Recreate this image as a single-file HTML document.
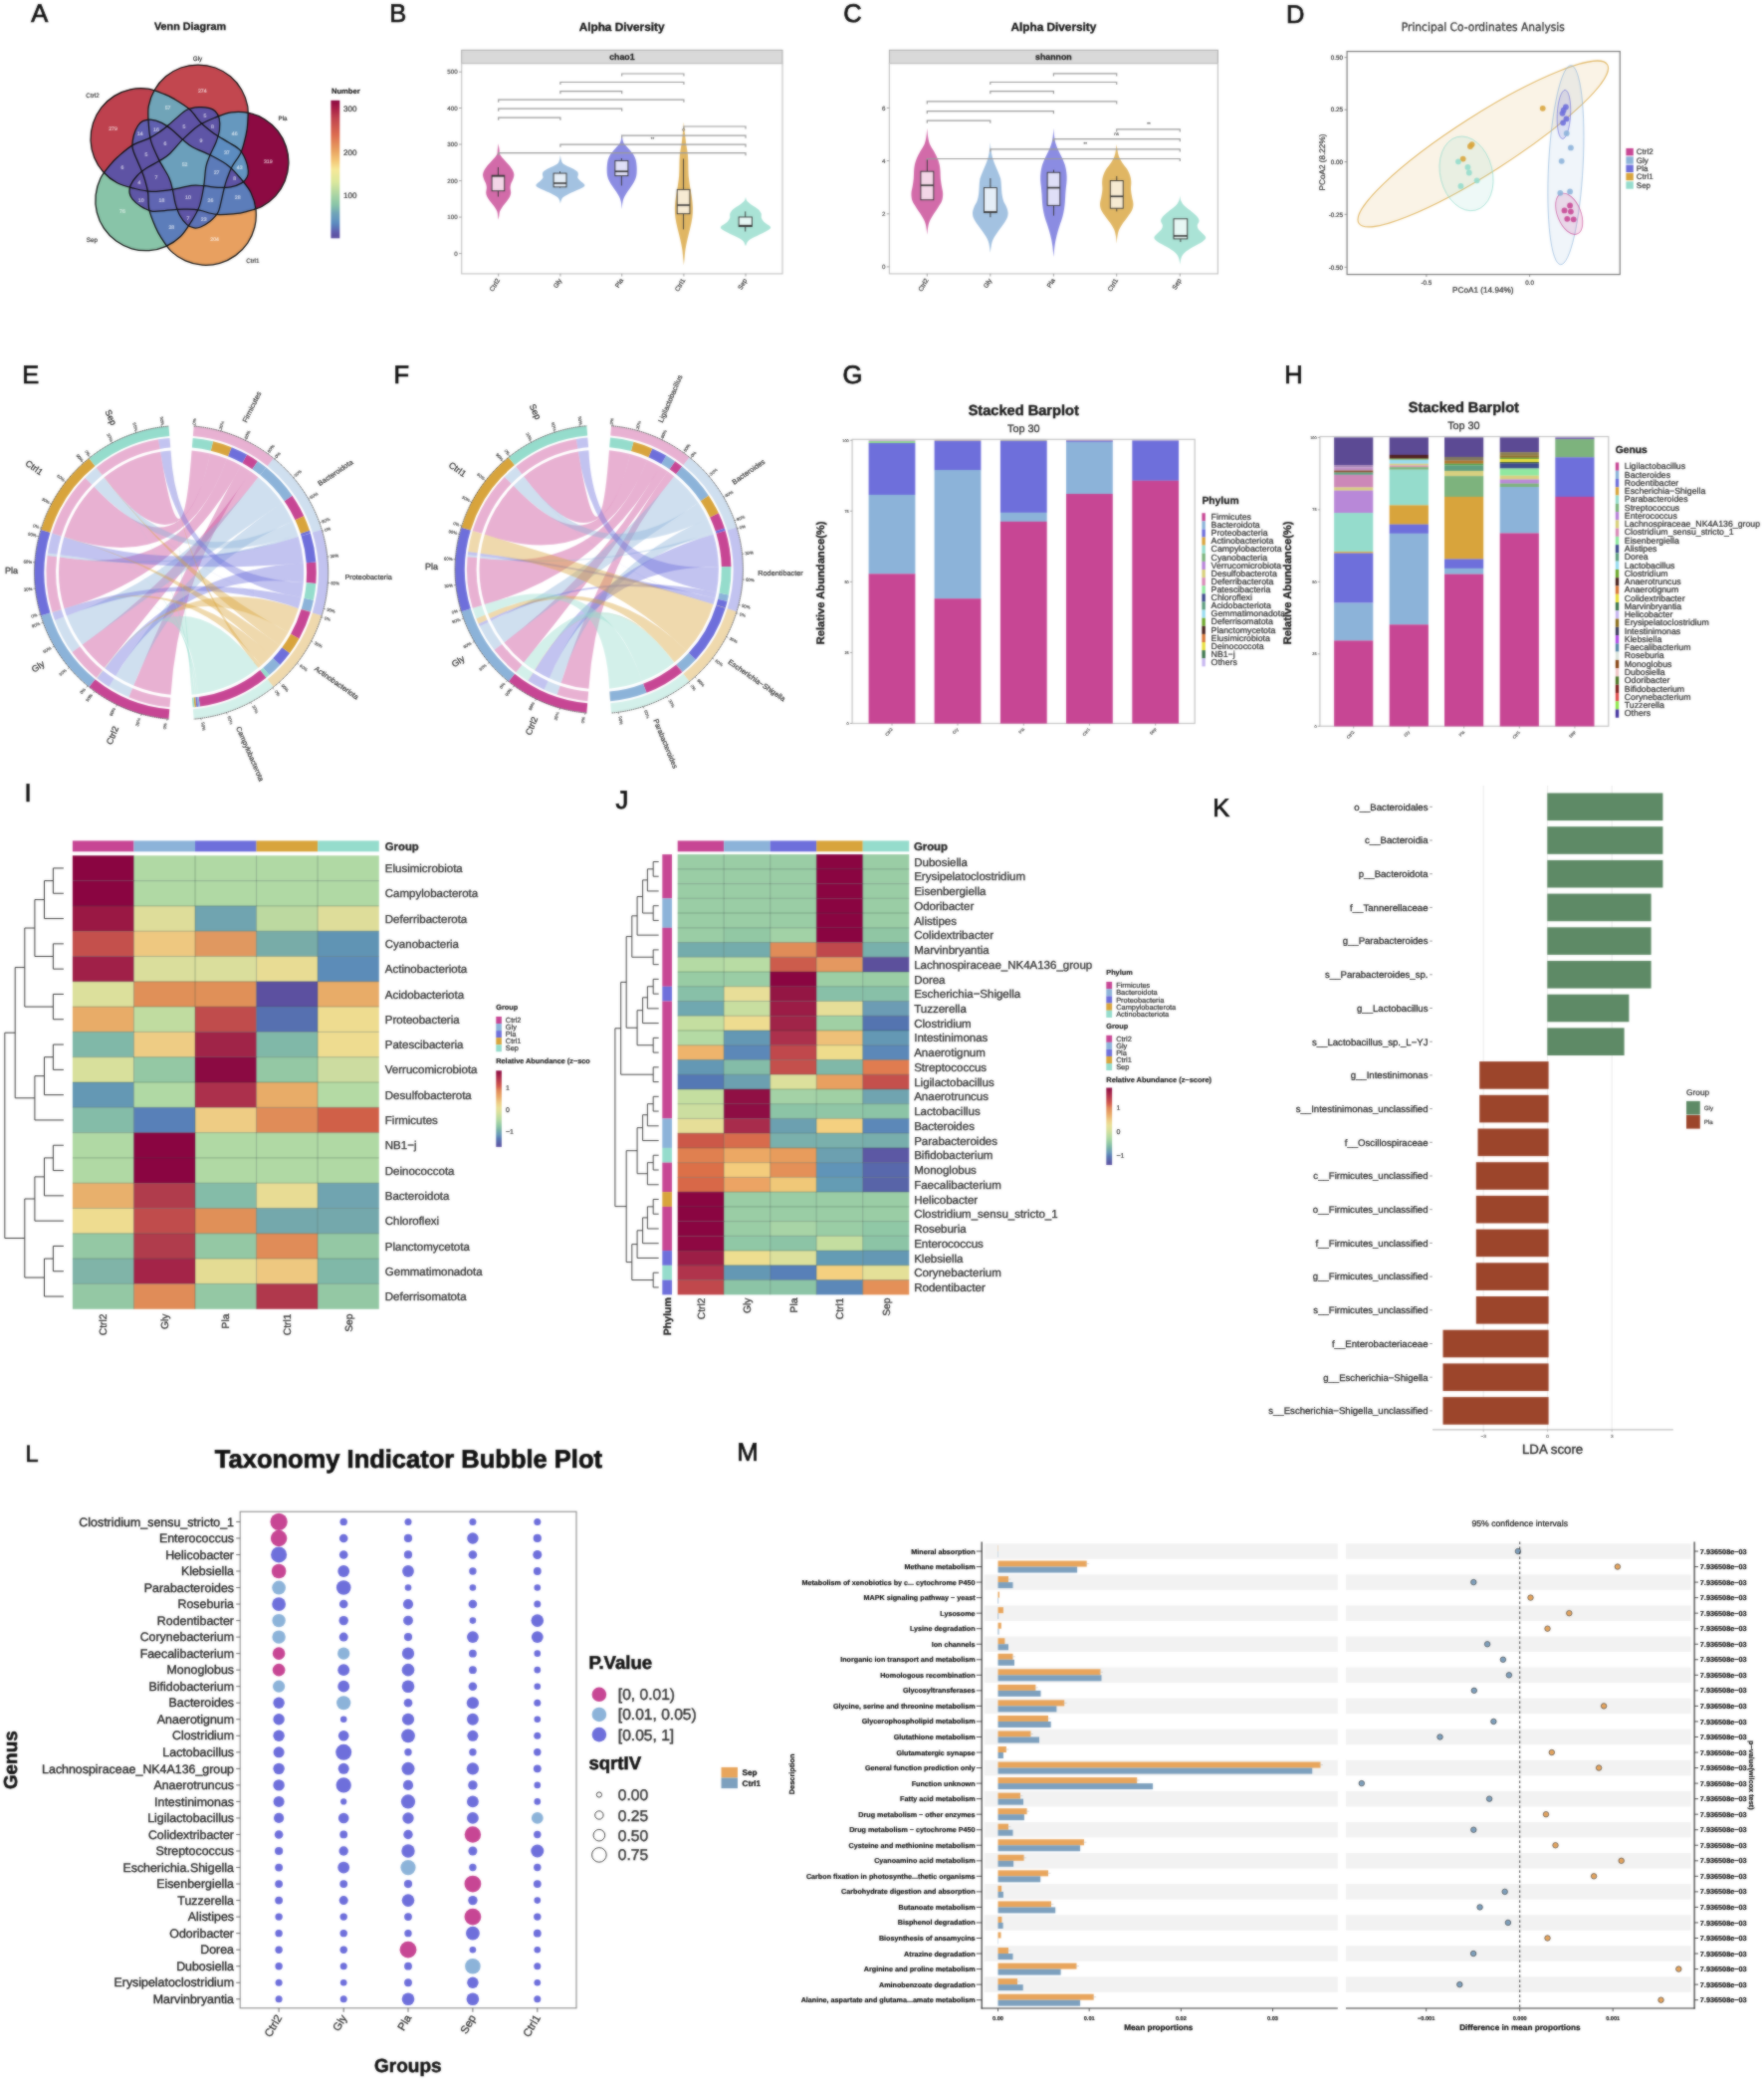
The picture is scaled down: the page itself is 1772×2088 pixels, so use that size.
<!DOCTYPE html><html><head><meta charset="utf-8"><title>Figure</title><style>html,body{margin:0;padding:0;background:#fff}svg{display:block}#wrap{width:1772px;height:2088px;overflow:hidden}</style></head><body><div id="wrap"><svg width="1772" height="2088" viewBox="0 0 1772 2088" font-family="'Liberation Sans', sans-serif" text-rendering="geometricPrecision"><defs><filter id="soft" x="0" y="0" width="100%" height="100%" filterUnits="userSpaceOnUse" color-interpolation-filters="sRGB"><feGaussianBlur in="SourceGraphic" stdDeviation="0.9" result="b"/><feComposite in="SourceGraphic" in2="b" operator="arithmetic" k1="0" k2="0.42" k3="0.58" k4="0"/></filter></defs><rect width="1772" height="2088" fill="#fff"/><g filter="url(#soft)"><rect width="1772" height="2088" fill="#fff"/><g id="pa"><text x="31.3" y="22.2" font-size="25.5" fill="#111" stroke="#111" stroke-width="0.71">A</text><text x="191" y="30.4" font-size="10.8" fill="#111" font-weight="bold" text-anchor="middle" stroke="#111" stroke-width="0.3">Venn Diagram</text><defs><clipPath id="vc0"><path d="M149.3 124.3C148.88 118.38 148.3 112.38 149.3 106.7C150.3 101.02 152.43 95.18 155.3 90.2C158.17 85.22 162.1 80.5 166.5 76.8C170.9 73.1 176.28 69.97 181.7 68C187.12 66.03 193.23 65 199 65C204.77 65 210.88 66.03 216.3 68C221.72 69.97 227.1 73.1 231.5 76.8C235.9 80.5 239.83 85.22 242.7 90.2C245.57 95.18 247.7 101.02 248.7 106.7C249.7 112.38 248.93 119.67 248.7 124.3C248.47 128.93 248.4 129.73 247.3 134.5C246.2 139.27 244.48 147.4 242.1 152.9C239.72 158.4 235.37 163 233 167.5C230.63 172 229.2 176.32 227.9 179.9C226.6 183.48 226.1 185.52 225.2 189C224.3 192.48 223.55 196.72 222.5 200.8C221.45 204.88 220.87 209.87 218.9 213.5C216.93 217.13 213.58 220.18 210.7 222.6C207.82 225.02 204.22 226.95 201.6 228C198.98 229.05 197.3 229.3 195 228.9C192.7 228.5 190.2 227.7 187.8 225.6C185.4 223.5 182.53 219.83 180.6 216.3C178.67 212.77 177.38 208.65 176.2 204.4C175.02 200.15 174.57 195.13 173.5 190.8C172.43 186.47 172.07 183.38 169.8 178.4C167.53 173.42 162.9 166.93 159.9 160.9C156.9 154.87 153.57 148.3 151.8 142.2C150.03 136.1 149.72 130.22 149.3 124.3Z"/></clipPath><clipPath id="vc1"><path d="M215.59 118.26C221.09 116.04 226.61 113.63 232.33 112.82C238.04 112.02 244.25 112.24 249.87 113.43C255.5 114.62 261.2 116.9 266.08 119.94C270.96 122.98 275.6 127.13 279.15 131.68C282.69 136.22 285.56 141.72 287.34 147.2C289.13 152.69 290.03 158.83 289.84 164.58C289.64 170.34 288.32 176.43 286.17 181.76C284.01 187.09 280.74 192.29 276.88 196.55C273.03 200.82 268.14 204.65 263.04 207.36C257.95 210.07 250.78 211.59 246.3 212.8C241.83 214.01 241.04 214.19 236.17 214.62C231.3 215.04 223.03 215.92 217.07 215.36C211.1 214.79 205.38 212.07 200.37 211.21C195.36 210.35 190.81 210.32 187 210.2C183.19 210.07 181.1 210.22 177.51 210.44C173.92 210.66 169.66 211.26 165.45 211.52C161.24 211.78 156.33 212.77 152.26 212.02C148.2 211.27 144.26 209.03 141.07 207.03C137.88 205.04 134.93 202.21 133.13 200.05C131.32 197.88 130.56 196.36 130.23 194.05C129.9 191.74 129.89 189.11 131.14 186.18C132.4 183.25 135 179.39 137.76 176.46C140.53 173.53 144.05 171.04 147.72 168.6C151.4 166.16 156.03 164.18 159.82 161.83C163.61 159.47 166.43 158.17 170.47 154.48C174.51 150.78 179.24 144.37 184.06 139.65C188.87 134.94 194.08 129.74 199.34 126.17C204.59 122.61 210.09 120.49 215.59 118.26Z"/></clipPath><clipPath id="vc2"><path d="M241.82 179.44C245.63 183.98 249.63 188.49 252.16 193.68C254.69 198.86 256.4 204.84 257.01 210.55C257.62 216.27 257.21 222.4 255.82 227.98C254.44 233.56 251.92 239.26 248.7 244.03C245.47 248.81 241.13 253.24 236.46 256.63C231.8 260.02 226.24 262.78 220.7 264.37C215.17 265.96 208.97 266.59 203.23 266.18C197.5 265.78 191.55 264.27 186.3 261.93C181.05 259.58 175.89 256.11 171.74 252.1C167.6 248.09 163.93 241.75 161.4 237.87C158.87 233.98 158.45 233.29 156.54 228.79C154.63 224.29 151.23 216.7 149.93 210.85C148.62 205 149.44 198.72 148.71 193.69C147.98 188.66 146.6 184.32 145.55 180.66C144.49 177 143.7 175.06 142.38 171.71C141.06 168.36 139.18 164.5 137.63 160.58C136.08 156.66 133.62 152.28 133.08 148.19C132.53 144.09 133.45 139.65 134.36 136C135.28 132.35 137.05 128.67 138.55 126.29C140.05 123.9 141.27 122.71 143.36 121.68C145.46 120.65 147.95 119.83 151.13 120.12C154.3 120.4 158.78 121.69 162.42 123.41C166.06 125.13 169.52 127.71 172.97 130.45C176.43 133.19 179.74 136.99 183.15 139.86C186.56 142.74 188.67 145.02 193.43 147.72C198.19 150.42 205.75 152.94 211.73 156.06C217.7 159.18 224.26 162.53 229.27 166.43C234.29 170.32 238 174.9 241.82 179.44Z"/></clipPath><clipPath id="vc3"><path d="M191.74 223.29C188.6 228.32 185.54 233.52 181.39 237.53C177.24 241.54 172.09 245 166.84 247.35C161.59 249.7 155.64 251.2 149.9 251.61C144.17 252.01 137.97 251.38 132.43 249.79C126.89 248.2 121.34 245.44 116.67 242.05C112.01 238.66 107.67 234.23 104.44 229.45C101.21 224.68 98.7 218.98 97.32 213.4C95.93 207.82 95.52 201.69 96.13 195.98C96.74 190.26 98.44 184.29 100.98 179.1C103.51 173.92 108.41 168.47 111.32 164.86C114.23 161.25 114.76 160.64 118.45 157.43C122.14 154.22 128.31 148.65 133.47 145.6C138.63 142.56 144.85 141.39 149.41 139.14C153.97 136.89 157.67 134.24 160.83 132.11C163.99 129.97 165.59 128.62 168.36 126.33C171.14 124.04 174.23 121.06 177.48 118.37C180.73 115.69 184.13 112 187.86 110.21C191.59 108.43 196.09 107.93 199.84 107.67C203.6 107.41 207.64 107.96 210.38 108.65C213.11 109.34 214.62 110.13 216.25 111.8C217.87 113.48 219.42 115.6 220.13 118.71C220.84 121.81 221 126.47 220.49 130.46C219.98 134.46 218.6 138.54 217.06 142.67C215.51 146.81 212.93 151.13 211.25 155.26C209.56 159.4 208.05 162.11 206.95 167.47C205.86 172.84 205.79 180.8 204.67 187.45C203.55 194.09 202.39 201.36 200.24 207.34C198.08 213.31 194.88 218.26 191.74 223.29Z"/></clipPath><clipPath id="vc4"><path d="M134.56 189.21C128.8 187.78 122.92 186.48 117.82 183.77C112.72 181.06 107.84 177.23 103.98 172.97C100.13 168.7 96.86 163.5 94.7 158.17C92.54 152.85 91.22 146.76 91.03 141C90.83 135.24 91.74 129.1 93.52 123.62C95.3 118.13 98.17 112.64 101.72 108.09C105.26 103.55 109.91 99.4 114.78 96.36C119.66 93.31 125.36 91.03 130.99 89.84C136.62 88.66 142.82 88.43 148.54 89.24C154.25 90.04 160.94 93.02 165.27 94.68C169.61 96.33 170.35 96.64 174.54 99.16C178.74 101.68 185.94 105.82 190.44 109.79C194.93 113.76 197.96 119.31 201.51 122.96C205.06 126.6 208.72 129.29 211.73 131.64C214.73 133.98 216.51 135.09 219.55 137.02C222.58 138.95 226.38 140.97 229.93 143.23C233.49 145.49 238.05 147.59 240.9 150.58C243.75 153.57 245.61 157.7 247.02 161.19C248.43 164.68 249.15 168.7 249.34 171.52C249.53 174.33 249.25 176.01 248.16 178.07C247.07 180.13 245.54 182.26 242.8 183.9C240.06 185.53 235.69 187.12 231.73 187.87C227.77 188.62 223.46 188.57 219.05 188.38C214.64 188.19 209.73 187.07 205.28 186.74C200.83 186.42 197.79 185.82 192.35 186.43C186.91 187.05 179.31 189.45 172.64 190.44C165.98 191.43 158.7 192.57 152.36 192.36C146.01 192.16 140.31 190.64 134.56 189.21Z"/></clipPath><linearGradient id="vgrad" x1="0" y1="1" x2="0" y2="0"><stop offset="0" stop-color="#5E4FA2"/><stop offset="0.03" stop-color="#5E56A6"/><stop offset="0.05" stop-color="#6060B0"/><stop offset="0.08" stop-color="#5C78B8"/><stop offset="0.11" stop-color="#5C8CC0"/><stop offset="0.14" stop-color="#6698BE"/><stop offset="0.18" stop-color="#70A4B8"/><stop offset="0.24" stop-color="#88C4A8"/><stop offset="0.31" stop-color="#A8D4A4"/><stop offset="0.41" stop-color="#DCE89C"/><stop offset="0.5" stop-color="#F6E898"/><stop offset="0.56" stop-color="#F4C878"/><stop offset="0.64" stop-color="#E8A060"/><stop offset="0.75" stop-color="#DC6C50"/><stop offset="0.87" stop-color="#C0444F"/><stop offset="0.94" stop-color="#A82048"/><stop offset="1" stop-color="#8C0A42"/></linearGradient></defs><path d="M149.3 124.3C148.88 118.38 148.3 112.38 149.3 106.7C150.3 101.02 152.43 95.18 155.3 90.2C158.17 85.22 162.1 80.5 166.5 76.8C170.9 73.1 176.28 69.97 181.7 68C187.12 66.03 193.23 65 199 65C204.77 65 210.88 66.03 216.3 68C221.72 69.97 227.1 73.1 231.5 76.8C235.9 80.5 239.83 85.22 242.7 90.2C245.57 95.18 247.7 101.02 248.7 106.7C249.7 112.38 248.93 119.67 248.7 124.3C248.47 128.93 248.4 129.73 247.3 134.5C246.2 139.27 244.48 147.4 242.1 152.9C239.72 158.4 235.37 163 233 167.5C230.63 172 229.2 176.32 227.9 179.9C226.6 183.48 226.1 185.52 225.2 189C224.3 192.48 223.55 196.72 222.5 200.8C221.45 204.88 220.87 209.87 218.9 213.5C216.93 217.13 213.58 220.18 210.7 222.6C207.82 225.02 204.22 226.95 201.6 228C198.98 229.05 197.3 229.3 195 228.9C192.7 228.5 190.2 227.7 187.8 225.6C185.4 223.5 182.53 219.83 180.6 216.3C178.67 212.77 177.38 208.65 176.2 204.4C175.02 200.15 174.57 195.13 173.5 190.8C172.43 186.47 172.07 183.38 169.8 178.4C167.53 173.42 162.9 166.93 159.9 160.9C156.9 154.87 153.57 148.3 151.8 142.2C150.03 136.1 149.72 130.22 149.3 124.3Z" fill="#C2474F"/><path d="M215.59 118.26C221.09 116.04 226.61 113.63 232.33 112.82C238.04 112.02 244.25 112.24 249.87 113.43C255.5 114.62 261.2 116.9 266.08 119.94C270.96 122.98 275.6 127.13 279.15 131.68C282.69 136.22 285.56 141.72 287.34 147.2C289.13 152.69 290.03 158.83 289.84 164.58C289.64 170.34 288.32 176.43 286.17 181.76C284.01 187.09 280.74 192.29 276.88 196.55C273.03 200.82 268.14 204.65 263.04 207.36C257.95 210.07 250.78 211.59 246.3 212.8C241.83 214.01 241.04 214.19 236.17 214.62C231.3 215.04 223.03 215.92 217.07 215.36C211.1 214.79 205.38 212.07 200.37 211.21C195.36 210.35 190.81 210.32 187 210.2C183.19 210.07 181.1 210.22 177.51 210.44C173.92 210.66 169.66 211.26 165.45 211.52C161.24 211.78 156.33 212.77 152.26 212.02C148.2 211.27 144.26 209.03 141.07 207.03C137.88 205.04 134.93 202.21 133.13 200.05C131.32 197.88 130.56 196.36 130.23 194.05C129.9 191.74 129.89 189.11 131.14 186.18C132.4 183.25 135 179.39 137.76 176.46C140.53 173.53 144.05 171.04 147.72 168.6C151.4 166.16 156.03 164.18 159.82 161.83C163.61 159.47 166.43 158.17 170.47 154.48C174.51 150.78 179.24 144.37 184.06 139.65C188.87 134.94 194.08 129.74 199.34 126.17C204.59 122.61 210.09 120.49 215.59 118.26Z" fill="#8C0A42"/><path d="M241.82 179.44C245.63 183.98 249.63 188.49 252.16 193.68C254.69 198.86 256.4 204.84 257.01 210.55C257.62 216.27 257.21 222.4 255.82 227.98C254.44 233.56 251.92 239.26 248.7 244.03C245.47 248.81 241.13 253.24 236.46 256.63C231.8 260.02 226.24 262.78 220.7 264.37C215.17 265.96 208.97 266.59 203.23 266.18C197.5 265.78 191.55 264.27 186.3 261.93C181.05 259.58 175.89 256.11 171.74 252.1C167.6 248.09 163.93 241.75 161.4 237.87C158.87 233.98 158.45 233.29 156.54 228.79C154.63 224.29 151.23 216.7 149.93 210.85C148.62 205 149.44 198.72 148.71 193.69C147.98 188.66 146.6 184.32 145.55 180.66C144.49 177 143.7 175.06 142.38 171.71C141.06 168.36 139.18 164.5 137.63 160.58C136.08 156.66 133.62 152.28 133.08 148.19C132.53 144.09 133.45 139.65 134.36 136C135.28 132.35 137.05 128.67 138.55 126.29C140.05 123.9 141.27 122.71 143.36 121.68C145.46 120.65 147.95 119.83 151.13 120.12C154.3 120.4 158.78 121.69 162.42 123.41C166.06 125.13 169.52 127.71 172.97 130.45C176.43 133.19 179.74 136.99 183.15 139.86C186.56 142.74 188.67 145.02 193.43 147.72C198.19 150.42 205.75 152.94 211.73 156.06C217.7 159.18 224.26 162.53 229.27 166.43C234.29 170.32 238 174.9 241.82 179.44Z" fill="#E8A060"/><path d="M191.74 223.29C188.6 228.32 185.54 233.52 181.39 237.53C177.24 241.54 172.09 245 166.84 247.35C161.59 249.7 155.64 251.2 149.9 251.61C144.17 252.01 137.97 251.38 132.43 249.79C126.89 248.2 121.34 245.44 116.67 242.05C112.01 238.66 107.67 234.23 104.44 229.45C101.21 224.68 98.7 218.98 97.32 213.4C95.93 207.82 95.52 201.69 96.13 195.98C96.74 190.26 98.44 184.29 100.98 179.1C103.51 173.92 108.41 168.47 111.32 164.86C114.23 161.25 114.76 160.64 118.45 157.43C122.14 154.22 128.31 148.65 133.47 145.6C138.63 142.56 144.85 141.39 149.41 139.14C153.97 136.89 157.67 134.24 160.83 132.11C163.99 129.97 165.59 128.62 168.36 126.33C171.14 124.04 174.23 121.06 177.48 118.37C180.73 115.69 184.13 112 187.86 110.21C191.59 108.43 196.09 107.93 199.84 107.67C203.6 107.41 207.64 107.96 210.38 108.65C213.11 109.34 214.62 110.13 216.25 111.8C217.87 113.48 219.42 115.6 220.13 118.71C220.84 121.81 221 126.47 220.49 130.46C219.98 134.46 218.6 138.54 217.06 142.67C215.51 146.81 212.93 151.13 211.25 155.26C209.56 159.4 208.05 162.11 206.95 167.47C205.86 172.84 205.79 180.8 204.67 187.45C203.55 194.09 202.39 201.36 200.24 207.34C198.08 213.31 194.88 218.26 191.74 223.29Z" fill="#88C4A8"/><path d="M134.56 189.21C128.8 187.78 122.92 186.48 117.82 183.77C112.72 181.06 107.84 177.23 103.98 172.97C100.13 168.7 96.86 163.5 94.7 158.17C92.54 152.85 91.22 146.76 91.03 141C90.83 135.24 91.74 129.1 93.52 123.62C95.3 118.13 98.17 112.64 101.72 108.09C105.26 103.55 109.91 99.4 114.78 96.36C119.66 93.31 125.36 91.03 130.99 89.84C136.62 88.66 142.82 88.43 148.54 89.24C154.25 90.04 160.94 93.02 165.27 94.68C169.61 96.33 170.35 96.64 174.54 99.16C178.74 101.68 185.94 105.82 190.44 109.79C194.93 113.76 197.96 119.31 201.51 122.96C205.06 126.6 208.72 129.29 211.73 131.64C214.73 133.98 216.51 135.09 219.55 137.02C222.58 138.95 226.38 140.97 229.93 143.23C233.49 145.49 238.05 147.59 240.9 150.58C243.75 153.57 245.61 157.7 247.02 161.19C248.43 164.68 249.15 168.7 249.34 171.52C249.53 174.33 249.25 176.01 248.16 178.07C247.07 180.13 245.54 182.26 242.8 183.9C240.06 185.53 235.69 187.12 231.73 187.87C227.77 188.62 223.46 188.57 219.05 188.38C214.64 188.19 209.73 187.07 205.28 186.74C200.83 186.42 197.79 185.82 192.35 186.43C186.91 187.05 179.31 189.45 172.64 190.44C165.98 191.43 158.7 192.57 152.36 192.36C146.01 192.16 140.31 190.64 134.56 189.21Z" fill="#BE414E"/><g clip-path="url(#vc1)"><path d="M149.3 124.3C148.88 118.38 148.3 112.38 149.3 106.7C150.3 101.02 152.43 95.18 155.3 90.2C158.17 85.22 162.1 80.5 166.5 76.8C170.9 73.1 176.28 69.97 181.7 68C187.12 66.03 193.23 65 199 65C204.77 65 210.88 66.03 216.3 68C221.72 69.97 227.1 73.1 231.5 76.8C235.9 80.5 239.83 85.22 242.7 90.2C245.57 95.18 247.7 101.02 248.7 106.7C249.7 112.38 248.93 119.67 248.7 124.3C248.47 128.93 248.4 129.73 247.3 134.5C246.2 139.27 244.48 147.4 242.1 152.9C239.72 158.4 235.37 163 233 167.5C230.63 172 229.2 176.32 227.9 179.9C226.6 183.48 226.1 185.52 225.2 189C224.3 192.48 223.55 196.72 222.5 200.8C221.45 204.88 220.87 209.87 218.9 213.5C216.93 217.13 213.58 220.18 210.7 222.6C207.82 225.02 204.22 226.95 201.6 228C198.98 229.05 197.3 229.3 195 228.9C192.7 228.5 190.2 227.7 187.8 225.6C185.4 223.5 182.53 219.83 180.6 216.3C178.67 212.77 177.38 208.65 176.2 204.4C175.02 200.15 174.57 195.13 173.5 190.8C172.43 186.47 172.07 183.38 169.8 178.4C167.53 173.42 162.9 166.93 159.9 160.9C156.9 154.87 153.57 148.3 151.8 142.2C150.03 136.1 149.72 130.22 149.3 124.3Z" fill="#6698BE"/></g><g clip-path="url(#vc2)"><path d="M149.3 124.3C148.88 118.38 148.3 112.38 149.3 106.7C150.3 101.02 152.43 95.18 155.3 90.2C158.17 85.22 162.1 80.5 166.5 76.8C170.9 73.1 176.28 69.97 181.7 68C187.12 66.03 193.23 65 199 65C204.77 65 210.88 66.03 216.3 68C221.72 69.97 227.1 73.1 231.5 76.8C235.9 80.5 239.83 85.22 242.7 90.2C245.57 95.18 247.7 101.02 248.7 106.7C249.7 112.38 248.93 119.67 248.7 124.3C248.47 128.93 248.4 129.73 247.3 134.5C246.2 139.27 244.48 147.4 242.1 152.9C239.72 158.4 235.37 163 233 167.5C230.63 172 229.2 176.32 227.9 179.9C226.6 183.48 226.1 185.52 225.2 189C224.3 192.48 223.55 196.72 222.5 200.8C221.45 204.88 220.87 209.87 218.9 213.5C216.93 217.13 213.58 220.18 210.7 222.6C207.82 225.02 204.22 226.95 201.6 228C198.98 229.05 197.3 229.3 195 228.9C192.7 228.5 190.2 227.7 187.8 225.6C185.4 223.5 182.53 219.83 180.6 216.3C178.67 212.77 177.38 208.65 176.2 204.4C175.02 200.15 174.57 195.13 173.5 190.8C172.43 186.47 172.07 183.38 169.8 178.4C167.53 173.42 162.9 166.93 159.9 160.9C156.9 154.87 153.57 148.3 151.8 142.2C150.03 136.1 149.72 130.22 149.3 124.3Z" fill="#5D73B6"/></g><g clip-path="url(#vc2)"><path d="M215.59 118.26C221.09 116.04 226.61 113.63 232.33 112.82C238.04 112.02 244.25 112.24 249.87 113.43C255.5 114.62 261.2 116.9 266.08 119.94C270.96 122.98 275.6 127.13 279.15 131.68C282.69 136.22 285.56 141.72 287.34 147.2C289.13 152.69 290.03 158.83 289.84 164.58C289.64 170.34 288.32 176.43 286.17 181.76C284.01 187.09 280.74 192.29 276.88 196.55C273.03 200.82 268.14 204.65 263.04 207.36C257.95 210.07 250.78 211.59 246.3 212.8C241.83 214.01 241.04 214.19 236.17 214.62C231.3 215.04 223.03 215.92 217.07 215.36C211.1 214.79 205.38 212.07 200.37 211.21C195.36 210.35 190.81 210.32 187 210.2C183.19 210.07 181.1 210.22 177.51 210.44C173.92 210.66 169.66 211.26 165.45 211.52C161.24 211.78 156.33 212.77 152.26 212.02C148.2 211.27 144.26 209.03 141.07 207.03C137.88 205.04 134.93 202.21 133.13 200.05C131.32 197.88 130.56 196.36 130.23 194.05C129.9 191.74 129.89 189.11 131.14 186.18C132.4 183.25 135 179.39 137.76 176.46C140.53 173.53 144.05 171.04 147.72 168.6C151.4 166.16 156.03 164.18 159.82 161.83C163.61 159.47 166.43 158.17 170.47 154.48C174.51 150.78 179.24 144.37 184.06 139.65C188.87 134.94 194.08 129.74 199.34 126.17C204.59 122.61 210.09 120.49 215.59 118.26Z" fill="#5C7DBA"/></g><g clip-path="url(#vc3)"><path d="M149.3 124.3C148.88 118.38 148.3 112.38 149.3 106.7C150.3 101.02 152.43 95.18 155.3 90.2C158.17 85.22 162.1 80.5 166.5 76.8C170.9 73.1 176.28 69.97 181.7 68C187.12 66.03 193.23 65 199 65C204.77 65 210.88 66.03 216.3 68C221.72 69.97 227.1 73.1 231.5 76.8C235.9 80.5 239.83 85.22 242.7 90.2C245.57 95.18 247.7 101.02 248.7 106.7C249.7 112.38 248.93 119.67 248.7 124.3C248.47 128.93 248.4 129.73 247.3 134.5C246.2 139.27 244.48 147.4 242.1 152.9C239.72 158.4 235.37 163 233 167.5C230.63 172 229.2 176.32 227.9 179.9C226.6 183.48 226.1 185.52 225.2 189C224.3 192.48 223.55 196.72 222.5 200.8C221.45 204.88 220.87 209.87 218.9 213.5C216.93 217.13 213.58 220.18 210.7 222.6C207.82 225.02 204.22 226.95 201.6 228C198.98 229.05 197.3 229.3 195 228.9C192.7 228.5 190.2 227.7 187.8 225.6C185.4 223.5 182.53 219.83 180.6 216.3C178.67 212.77 177.38 208.65 176.2 204.4C175.02 200.15 174.57 195.13 173.5 190.8C172.43 186.47 172.07 183.38 169.8 178.4C167.53 173.42 162.9 166.93 159.9 160.9C156.9 154.87 153.57 148.3 151.8 142.2C150.03 136.1 149.72 130.22 149.3 124.3Z" fill="#5E52A4"/></g><g clip-path="url(#vc3)"><path d="M215.59 118.26C221.09 116.04 226.61 113.63 232.33 112.82C238.04 112.02 244.25 112.24 249.87 113.43C255.5 114.62 261.2 116.9 266.08 119.94C270.96 122.98 275.6 127.13 279.15 131.68C282.69 136.22 285.56 141.72 287.34 147.2C289.13 152.69 290.03 158.83 289.84 164.58C289.64 170.34 288.32 176.43 286.17 181.76C284.01 187.09 280.74 192.29 276.88 196.55C273.03 200.82 268.14 204.65 263.04 207.36C257.95 210.07 250.78 211.59 246.3 212.8C241.83 214.01 241.04 214.19 236.17 214.62C231.3 215.04 223.03 215.92 217.07 215.36C211.1 214.79 205.38 212.07 200.37 211.21C195.36 210.35 190.81 210.32 187 210.2C183.19 210.07 181.1 210.22 177.51 210.44C173.92 210.66 169.66 211.26 165.45 211.52C161.24 211.78 156.33 212.77 152.26 212.02C148.2 211.27 144.26 209.03 141.07 207.03C137.88 205.04 134.93 202.21 133.13 200.05C131.32 197.88 130.56 196.36 130.23 194.05C129.9 191.74 129.89 189.11 131.14 186.18C132.4 183.25 135 179.39 137.76 176.46C140.53 173.53 144.05 171.04 147.72 168.6C151.4 166.16 156.03 164.18 159.82 161.83C163.61 159.47 166.43 158.17 170.47 154.48C174.51 150.78 179.24 144.37 184.06 139.65C188.87 134.94 194.08 129.74 199.34 126.17C204.59 122.61 210.09 120.49 215.59 118.26Z" fill="#5E56A6"/></g><g clip-path="url(#vc3)"><path d="M241.82 179.44C245.63 183.98 249.63 188.49 252.16 193.68C254.69 198.86 256.4 204.84 257.01 210.55C257.62 216.27 257.21 222.4 255.82 227.98C254.44 233.56 251.92 239.26 248.7 244.03C245.47 248.81 241.13 253.24 236.46 256.63C231.8 260.02 226.24 262.78 220.7 264.37C215.17 265.96 208.97 266.59 203.23 266.18C197.5 265.78 191.55 264.27 186.3 261.93C181.05 259.58 175.89 256.11 171.74 252.1C167.6 248.09 163.93 241.75 161.4 237.87C158.87 233.98 158.45 233.29 156.54 228.79C154.63 224.29 151.23 216.7 149.93 210.85C148.62 205 149.44 198.72 148.71 193.69C147.98 188.66 146.6 184.32 145.55 180.66C144.49 177 143.7 175.06 142.38 171.71C141.06 168.36 139.18 164.5 137.63 160.58C136.08 156.66 133.62 152.28 133.08 148.19C132.53 144.09 133.45 139.65 134.36 136C135.28 132.35 137.05 128.67 138.55 126.29C140.05 123.9 141.27 122.71 143.36 121.68C145.46 120.65 147.95 119.83 151.13 120.12C154.3 120.4 158.78 121.69 162.42 123.41C166.06 125.13 169.52 127.71 172.97 130.45C176.43 133.19 179.74 136.99 183.15 139.86C186.56 142.74 188.67 145.02 193.43 147.72C198.19 150.42 205.75 152.94 211.73 156.06C217.7 159.18 224.26 162.53 229.27 166.43C234.29 170.32 238 174.9 241.82 179.44Z" fill="#5C7DBA"/></g><g clip-path="url(#vc4)"><path d="M149.3 124.3C148.88 118.38 148.3 112.38 149.3 106.7C150.3 101.02 152.43 95.18 155.3 90.2C158.17 85.22 162.1 80.5 166.5 76.8C170.9 73.1 176.28 69.97 181.7 68C187.12 66.03 193.23 65 199 65C204.77 65 210.88 66.03 216.3 68C221.72 69.97 227.1 73.1 231.5 76.8C235.9 80.5 239.83 85.22 242.7 90.2C245.57 95.18 247.7 101.02 248.7 106.7C249.7 112.38 248.93 119.67 248.7 124.3C248.47 128.93 248.4 129.73 247.3 134.5C246.2 139.27 244.48 147.4 242.1 152.9C239.72 158.4 235.37 163 233 167.5C230.63 172 229.2 176.32 227.9 179.9C226.6 183.48 226.1 185.52 225.2 189C224.3 192.48 223.55 196.72 222.5 200.8C221.45 204.88 220.87 209.87 218.9 213.5C216.93 217.13 213.58 220.18 210.7 222.6C207.82 225.02 204.22 226.95 201.6 228C198.98 229.05 197.3 229.3 195 228.9C192.7 228.5 190.2 227.7 187.8 225.6C185.4 223.5 182.53 219.83 180.6 216.3C178.67 212.77 177.38 208.65 176.2 204.4C175.02 200.15 174.57 195.13 173.5 190.8C172.43 186.47 172.07 183.38 169.8 178.4C167.53 173.42 162.9 166.93 159.9 160.9C156.9 154.87 153.57 148.3 151.8 142.2C150.03 136.1 149.72 130.22 149.3 124.3Z" fill="#70A4B8"/></g><g clip-path="url(#vc4)"><path d="M215.59 118.26C221.09 116.04 226.61 113.63 232.33 112.82C238.04 112.02 244.25 112.24 249.87 113.43C255.5 114.62 261.2 116.9 266.08 119.94C270.96 122.98 275.6 127.13 279.15 131.68C282.69 136.22 285.56 141.72 287.34 147.2C289.13 152.69 290.03 158.83 289.84 164.58C289.64 170.34 288.32 176.43 286.17 181.76C284.01 187.09 280.74 192.29 276.88 196.55C273.03 200.82 268.14 204.65 263.04 207.36C257.95 210.07 250.78 211.59 246.3 212.8C241.83 214.01 241.04 214.19 236.17 214.62C231.3 215.04 223.03 215.92 217.07 215.36C211.1 214.79 205.38 212.07 200.37 211.21C195.36 210.35 190.81 210.32 187 210.2C183.19 210.07 181.1 210.22 177.51 210.44C173.92 210.66 169.66 211.26 165.45 211.52C161.24 211.78 156.33 212.77 152.26 212.02C148.2 211.27 144.26 209.03 141.07 207.03C137.88 205.04 134.93 202.21 133.13 200.05C131.32 197.88 130.56 196.36 130.23 194.05C129.9 191.74 129.89 189.11 131.14 186.18C132.4 183.25 135 179.39 137.76 176.46C140.53 173.53 144.05 171.04 147.72 168.6C151.4 166.16 156.03 164.18 159.82 161.83C163.61 159.47 166.43 158.17 170.47 154.48C174.51 150.78 179.24 144.37 184.06 139.65C188.87 134.94 194.08 129.74 199.34 126.17C204.59 122.61 210.09 120.49 215.59 118.26Z" fill="#6394BF"/></g><g clip-path="url(#vc4)"><path d="M241.82 179.44C245.63 183.98 249.63 188.49 252.16 193.68C254.69 198.86 256.4 204.84 257.01 210.55C257.62 216.27 257.21 222.4 255.82 227.98C254.44 233.56 251.92 239.26 248.7 244.03C245.47 248.81 241.13 253.24 236.46 256.63C231.8 260.02 226.24 262.78 220.7 264.37C215.17 265.96 208.97 266.59 203.23 266.18C197.5 265.78 191.55 264.27 186.3 261.93C181.05 259.58 175.89 256.11 171.74 252.1C167.6 248.09 163.93 241.75 161.4 237.87C158.87 233.98 158.45 233.29 156.54 228.79C154.63 224.29 151.23 216.7 149.93 210.85C148.62 205 149.44 198.72 148.71 193.69C147.98 188.66 146.6 184.32 145.55 180.66C144.49 177 143.7 175.06 142.38 171.71C141.06 168.36 139.18 164.5 137.63 160.58C136.08 156.66 133.62 152.28 133.08 148.19C132.53 144.09 133.45 139.65 134.36 136C135.28 132.35 137.05 128.67 138.55 126.29C140.05 123.9 141.27 122.71 143.36 121.68C145.46 120.65 147.95 119.83 151.13 120.12C154.3 120.4 158.78 121.69 162.42 123.41C166.06 125.13 169.52 127.71 172.97 130.45C176.43 133.19 179.74 136.99 183.15 139.86C186.56 142.74 188.67 145.02 193.43 147.72C198.19 150.42 205.75 152.94 211.73 156.06C217.7 159.18 224.26 162.53 229.27 166.43C234.29 170.32 238 174.9 241.82 179.44Z" fill="#5F5DAD"/></g><g clip-path="url(#vc4)"><path d="M191.74 223.29C188.6 228.32 185.54 233.52 181.39 237.53C177.24 241.54 172.09 245 166.84 247.35C161.59 249.7 155.64 251.2 149.9 251.61C144.17 252.01 137.97 251.38 132.43 249.79C126.89 248.2 121.34 245.44 116.67 242.05C112.01 238.66 107.67 234.23 104.44 229.45C101.21 224.68 98.7 218.98 97.32 213.4C95.93 207.82 95.52 201.69 96.13 195.98C96.74 190.26 98.44 184.29 100.98 179.1C103.51 173.92 108.41 168.47 111.32 164.86C114.23 161.25 114.76 160.64 118.45 157.43C122.14 154.22 128.31 148.65 133.47 145.6C138.63 142.56 144.85 141.39 149.41 139.14C153.97 136.89 157.67 134.24 160.83 132.11C163.99 129.97 165.59 128.62 168.36 126.33C171.14 124.04 174.23 121.06 177.48 118.37C180.73 115.69 184.13 112 187.86 110.21C191.59 108.43 196.09 107.93 199.84 107.67C203.6 107.41 207.64 107.96 210.38 108.65C213.11 109.34 214.62 110.13 216.25 111.8C217.87 113.48 219.42 115.6 220.13 118.71C220.84 121.81 221 126.47 220.49 130.46C219.98 134.46 218.6 138.54 217.06 142.67C215.51 146.81 212.93 151.13 211.25 155.26C209.56 159.4 208.05 162.11 206.95 167.47C205.86 172.84 205.79 180.8 204.67 187.45C203.55 194.09 202.39 201.36 200.24 207.34C198.08 213.31 194.88 218.26 191.74 223.29Z" fill="#5E53A4"/></g><g clip-path="url(#vc2)"><g clip-path="url(#vc1)"><path d="M149.3 124.3C148.88 118.38 148.3 112.38 149.3 106.7C150.3 101.02 152.43 95.18 155.3 90.2C158.17 85.22 162.1 80.5 166.5 76.8C170.9 73.1 176.28 69.97 181.7 68C187.12 66.03 193.23 65 199 65C204.77 65 210.88 66.03 216.3 68C221.72 69.97 227.1 73.1 231.5 76.8C235.9 80.5 239.83 85.22 242.7 90.2C245.57 95.18 247.7 101.02 248.7 106.7C249.7 112.38 248.93 119.67 248.7 124.3C248.47 128.93 248.4 129.73 247.3 134.5C246.2 139.27 244.48 147.4 242.1 152.9C239.72 158.4 235.37 163 233 167.5C230.63 172 229.2 176.32 227.9 179.9C226.6 183.48 226.1 185.52 225.2 189C224.3 192.48 223.55 196.72 222.5 200.8C221.45 204.88 220.87 209.87 218.9 213.5C216.93 217.13 213.58 220.18 210.7 222.6C207.82 225.02 204.22 226.95 201.6 228C198.98 229.05 197.3 229.3 195 228.9C192.7 228.5 190.2 227.7 187.8 225.6C185.4 223.5 182.53 219.83 180.6 216.3C178.67 212.77 177.38 208.65 176.2 204.4C175.02 200.15 174.57 195.13 173.5 190.8C172.43 186.47 172.07 183.38 169.8 178.4C167.53 173.42 162.9 166.93 159.9 160.9C156.9 154.87 153.57 148.3 151.8 142.2C150.03 136.1 149.72 130.22 149.3 124.3Z" fill="#5C7AB9"/></g></g><g clip-path="url(#vc3)"><g clip-path="url(#vc1)"><path d="M149.3 124.3C148.88 118.38 148.3 112.38 149.3 106.7C150.3 101.02 152.43 95.18 155.3 90.2C158.17 85.22 162.1 80.5 166.5 76.8C170.9 73.1 176.28 69.97 181.7 68C187.12 66.03 193.23 65 199 65C204.77 65 210.88 66.03 216.3 68C221.72 69.97 227.1 73.1 231.5 76.8C235.9 80.5 239.83 85.22 242.7 90.2C245.57 95.18 247.7 101.02 248.7 106.7C249.7 112.38 248.93 119.67 248.7 124.3C248.47 128.93 248.4 129.73 247.3 134.5C246.2 139.27 244.48 147.4 242.1 152.9C239.72 158.4 235.37 163 233 167.5C230.63 172 229.2 176.32 227.9 179.9C226.6 183.48 226.1 185.52 225.2 189C224.3 192.48 223.55 196.72 222.5 200.8C221.45 204.88 220.87 209.87 218.9 213.5C216.93 217.13 213.58 220.18 210.7 222.6C207.82 225.02 204.22 226.95 201.6 228C198.98 229.05 197.3 229.3 195 228.9C192.7 228.5 190.2 227.7 187.8 225.6C185.4 223.5 182.53 219.83 180.6 216.3C178.67 212.77 177.38 208.65 176.2 204.4C175.02 200.15 174.57 195.13 173.5 190.8C172.43 186.47 172.07 183.38 169.8 178.4C167.53 173.42 162.9 166.93 159.9 160.9C156.9 154.87 153.57 148.3 151.8 142.2C150.03 136.1 149.72 130.22 149.3 124.3Z" fill="#5E54A5"/></g></g><g clip-path="url(#vc3)"><g clip-path="url(#vc2)"><path d="M149.3 124.3C148.88 118.38 148.3 112.38 149.3 106.7C150.3 101.02 152.43 95.18 155.3 90.2C158.17 85.22 162.1 80.5 166.5 76.8C170.9 73.1 176.28 69.97 181.7 68C187.12 66.03 193.23 65 199 65C204.77 65 210.88 66.03 216.3 68C221.72 69.97 227.1 73.1 231.5 76.8C235.9 80.5 239.83 85.22 242.7 90.2C245.57 95.18 247.7 101.02 248.7 106.7C249.7 112.38 248.93 119.67 248.7 124.3C248.47 128.93 248.4 129.73 247.3 134.5C246.2 139.27 244.48 147.4 242.1 152.9C239.72 158.4 235.37 163 233 167.5C230.63 172 229.2 176.32 227.9 179.9C226.6 183.48 226.1 185.52 225.2 189C224.3 192.48 223.55 196.72 222.5 200.8C221.45 204.88 220.87 209.87 218.9 213.5C216.93 217.13 213.58 220.18 210.7 222.6C207.82 225.02 204.22 226.95 201.6 228C198.98 229.05 197.3 229.3 195 228.9C192.7 228.5 190.2 227.7 187.8 225.6C185.4 223.5 182.53 219.83 180.6 216.3C178.67 212.77 177.38 208.65 176.2 204.4C175.02 200.15 174.57 195.13 173.5 190.8C172.43 186.47 172.07 183.38 169.8 178.4C167.53 173.42 162.9 166.93 159.9 160.9C156.9 154.87 153.57 148.3 151.8 142.2C150.03 136.1 149.72 130.22 149.3 124.3Z" fill="#5E54A5"/></g></g><g clip-path="url(#vc3)"><g clip-path="url(#vc2)"><path d="M215.59 118.26C221.09 116.04 226.61 113.63 232.33 112.82C238.04 112.02 244.25 112.24 249.87 113.43C255.5 114.62 261.2 116.9 266.08 119.94C270.96 122.98 275.6 127.13 279.15 131.68C282.69 136.22 285.56 141.72 287.34 147.2C289.13 152.69 290.03 158.83 289.84 164.58C289.64 170.34 288.32 176.43 286.17 181.76C284.01 187.09 280.74 192.29 276.88 196.55C273.03 200.82 268.14 204.65 263.04 207.36C257.95 210.07 250.78 211.59 246.3 212.8C241.83 214.01 241.04 214.19 236.17 214.62C231.3 215.04 223.03 215.92 217.07 215.36C211.1 214.79 205.38 212.07 200.37 211.21C195.36 210.35 190.81 210.32 187 210.2C183.19 210.07 181.1 210.22 177.51 210.44C173.92 210.66 169.66 211.26 165.45 211.52C161.24 211.78 156.33 212.77 152.26 212.02C148.2 211.27 144.26 209.03 141.07 207.03C137.88 205.04 134.93 202.21 133.13 200.05C131.32 197.88 130.56 196.36 130.23 194.05C129.9 191.74 129.89 189.11 131.14 186.18C132.4 183.25 135 179.39 137.76 176.46C140.53 173.53 144.05 171.04 147.72 168.6C151.4 166.16 156.03 164.18 159.82 161.83C163.61 159.47 166.43 158.17 170.47 154.48C174.51 150.78 179.24 144.37 184.06 139.65C188.87 134.94 194.08 129.74 199.34 126.17C204.59 122.61 210.09 120.49 215.59 118.26Z" fill="#5F65B2"/></g></g><g clip-path="url(#vc4)"><g clip-path="url(#vc1)"><path d="M149.3 124.3C148.88 118.38 148.3 112.38 149.3 106.7C150.3 101.02 152.43 95.18 155.3 90.2C158.17 85.22 162.1 80.5 166.5 76.8C170.9 73.1 176.28 69.97 181.7 68C187.12 66.03 193.23 65 199 65C204.77 65 210.88 66.03 216.3 68C221.72 69.97 227.1 73.1 231.5 76.8C235.9 80.5 239.83 85.22 242.7 90.2C245.57 95.18 247.7 101.02 248.7 106.7C249.7 112.38 248.93 119.67 248.7 124.3C248.47 128.93 248.4 129.73 247.3 134.5C246.2 139.27 244.48 147.4 242.1 152.9C239.72 158.4 235.37 163 233 167.5C230.63 172 229.2 176.32 227.9 179.9C226.6 183.48 226.1 185.52 225.2 189C224.3 192.48 223.55 196.72 222.5 200.8C221.45 204.88 220.87 209.87 218.9 213.5C216.93 217.13 213.58 220.18 210.7 222.6C207.82 225.02 204.22 226.95 201.6 228C198.98 229.05 197.3 229.3 195 228.9C192.7 228.5 190.2 227.7 187.8 225.6C185.4 223.5 182.53 219.83 180.6 216.3C178.67 212.77 177.38 208.65 176.2 204.4C175.02 200.15 174.57 195.13 173.5 190.8C172.43 186.47 172.07 183.38 169.8 178.4C167.53 173.42 162.9 166.93 159.9 160.9C156.9 154.87 153.57 148.3 151.8 142.2C150.03 136.1 149.72 130.22 149.3 124.3Z" fill="#5C8CC0"/></g></g><g clip-path="url(#vc4)"><g clip-path="url(#vc2)"><path d="M149.3 124.3C148.88 118.38 148.3 112.38 149.3 106.7C150.3 101.02 152.43 95.18 155.3 90.2C158.17 85.22 162.1 80.5 166.5 76.8C170.9 73.1 176.28 69.97 181.7 68C187.12 66.03 193.23 65 199 65C204.77 65 210.88 66.03 216.3 68C221.72 69.97 227.1 73.1 231.5 76.8C235.9 80.5 239.83 85.22 242.7 90.2C245.57 95.18 247.7 101.02 248.7 106.7C249.7 112.38 248.93 119.67 248.7 124.3C248.47 128.93 248.4 129.73 247.3 134.5C246.2 139.27 244.48 147.4 242.1 152.9C239.72 158.4 235.37 163 233 167.5C230.63 172 229.2 176.32 227.9 179.9C226.6 183.48 226.1 185.52 225.2 189C224.3 192.48 223.55 196.72 222.5 200.8C221.45 204.88 220.87 209.87 218.9 213.5C216.93 217.13 213.58 220.18 210.7 222.6C207.82 225.02 204.22 226.95 201.6 228C198.98 229.05 197.3 229.3 195 228.9C192.7 228.5 190.2 227.7 187.8 225.6C185.4 223.5 182.53 219.83 180.6 216.3C178.67 212.77 177.38 208.65 176.2 204.4C175.02 200.15 174.57 195.13 173.5 190.8C172.43 186.47 172.07 183.38 169.8 178.4C167.53 173.42 162.9 166.93 159.9 160.9C156.9 154.87 153.57 148.3 151.8 142.2C150.03 136.1 149.72 130.22 149.3 124.3Z" fill="#6060B0"/></g></g><g clip-path="url(#vc4)"><g clip-path="url(#vc2)"><path d="M215.59 118.26C221.09 116.04 226.61 113.63 232.33 112.82C238.04 112.02 244.25 112.24 249.87 113.43C255.5 114.62 261.2 116.9 266.08 119.94C270.96 122.98 275.6 127.13 279.15 131.68C282.69 136.22 285.56 141.72 287.34 147.2C289.13 152.69 290.03 158.83 289.84 164.58C289.64 170.34 288.32 176.43 286.17 181.76C284.01 187.09 280.74 192.29 276.88 196.55C273.03 200.82 268.14 204.65 263.04 207.36C257.95 210.07 250.78 211.59 246.3 212.8C241.83 214.01 241.04 214.19 236.17 214.62C231.3 215.04 223.03 215.92 217.07 215.36C211.1 214.79 205.38 212.07 200.37 211.21C195.36 210.35 190.81 210.32 187 210.2C183.19 210.07 181.1 210.22 177.51 210.44C173.92 210.66 169.66 211.26 165.45 211.52C161.24 211.78 156.33 212.77 152.26 212.02C148.2 211.27 144.26 209.03 141.07 207.03C137.88 205.04 134.93 202.21 133.13 200.05C131.32 197.88 130.56 196.36 130.23 194.05C129.9 191.74 129.89 189.11 131.14 186.18C132.4 183.25 135 179.39 137.76 176.46C140.53 173.53 144.05 171.04 147.72 168.6C151.4 166.16 156.03 164.18 159.82 161.83C163.61 159.47 166.43 158.17 170.47 154.48C174.51 150.78 179.24 144.37 184.06 139.65C188.87 134.94 194.08 129.74 199.34 126.17C204.59 122.61 210.09 120.49 215.59 118.26Z" fill="#5E54A5"/></g></g><g clip-path="url(#vc4)"><g clip-path="url(#vc3)"><path d="M149.3 124.3C148.88 118.38 148.3 112.38 149.3 106.7C150.3 101.02 152.43 95.18 155.3 90.2C158.17 85.22 162.1 80.5 166.5 76.8C170.9 73.1 176.28 69.97 181.7 68C187.12 66.03 193.23 65 199 65C204.77 65 210.88 66.03 216.3 68C221.72 69.97 227.1 73.1 231.5 76.8C235.9 80.5 239.83 85.22 242.7 90.2C245.57 95.18 247.7 101.02 248.7 106.7C249.7 112.38 248.93 119.67 248.7 124.3C248.47 128.93 248.4 129.73 247.3 134.5C246.2 139.27 244.48 147.4 242.1 152.9C239.72 158.4 235.37 163 233 167.5C230.63 172 229.2 176.32 227.9 179.9C226.6 183.48 226.1 185.52 225.2 189C224.3 192.48 223.55 196.72 222.5 200.8C221.45 204.88 220.87 209.87 218.9 213.5C216.93 217.13 213.58 220.18 210.7 222.6C207.82 225.02 204.22 226.95 201.6 228C198.98 229.05 197.3 229.3 195 228.9C192.7 228.5 190.2 227.7 187.8 225.6C185.4 223.5 182.53 219.83 180.6 216.3C178.67 212.77 177.38 208.65 176.2 204.4C175.02 200.15 174.57 195.13 173.5 190.8C172.43 186.47 172.07 183.38 169.8 178.4C167.53 173.42 162.9 166.93 159.9 160.9C156.9 154.87 153.57 148.3 151.8 142.2C150.03 136.1 149.72 130.22 149.3 124.3Z" fill="#5E52A4"/></g></g><g clip-path="url(#vc4)"><g clip-path="url(#vc3)"><path d="M215.59 118.26C221.09 116.04 226.61 113.63 232.33 112.82C238.04 112.02 244.25 112.24 249.87 113.43C255.5 114.62 261.2 116.9 266.08 119.94C270.96 122.98 275.6 127.13 279.15 131.68C282.69 136.22 285.56 141.72 287.34 147.2C289.13 152.69 290.03 158.83 289.84 164.58C289.64 170.34 288.32 176.43 286.17 181.76C284.01 187.09 280.74 192.29 276.88 196.55C273.03 200.82 268.14 204.65 263.04 207.36C257.95 210.07 250.78 211.59 246.3 212.8C241.83 214.01 241.04 214.19 236.17 214.62C231.3 215.04 223.03 215.92 217.07 215.36C211.1 214.79 205.38 212.07 200.37 211.21C195.36 210.35 190.81 210.32 187 210.2C183.19 210.07 181.1 210.22 177.51 210.44C173.92 210.66 169.66 211.26 165.45 211.52C161.24 211.78 156.33 212.77 152.26 212.02C148.2 211.27 144.26 209.03 141.07 207.03C137.88 205.04 134.93 202.21 133.13 200.05C131.32 197.88 130.56 196.36 130.23 194.05C129.9 191.74 129.89 189.11 131.14 186.18C132.4 183.25 135 179.39 137.76 176.46C140.53 173.53 144.05 171.04 147.72 168.6C151.4 166.16 156.03 164.18 159.82 161.83C163.61 159.47 166.43 158.17 170.47 154.48C174.51 150.78 179.24 144.37 184.06 139.65C188.87 134.94 194.08 129.74 199.34 126.17C204.59 122.61 210.09 120.49 215.59 118.26Z" fill="#5E51A3"/></g></g><g clip-path="url(#vc4)"><g clip-path="url(#vc3)"><path d="M241.82 179.44C245.63 183.98 249.63 188.49 252.16 193.68C254.69 198.86 256.4 204.84 257.01 210.55C257.62 216.27 257.21 222.4 255.82 227.98C254.44 233.56 251.92 239.26 248.7 244.03C245.47 248.81 241.13 253.24 236.46 256.63C231.8 260.02 226.24 262.78 220.7 264.37C215.17 265.96 208.97 266.59 203.23 266.18C197.5 265.78 191.55 264.27 186.3 261.93C181.05 259.58 175.89 256.11 171.74 252.1C167.6 248.09 163.93 241.75 161.4 237.87C158.87 233.98 158.45 233.29 156.54 228.79C154.63 224.29 151.23 216.7 149.93 210.85C148.62 205 149.44 198.72 148.71 193.69C147.98 188.66 146.6 184.32 145.55 180.66C144.49 177 143.7 175.06 142.38 171.71C141.06 168.36 139.18 164.5 137.63 160.58C136.08 156.66 133.62 152.28 133.08 148.19C132.53 144.09 133.45 139.65 134.36 136C135.28 132.35 137.05 128.67 138.55 126.29C140.05 123.9 141.27 122.71 143.36 121.68C145.46 120.65 147.95 119.83 151.13 120.12C154.3 120.4 158.78 121.69 162.42 123.41C166.06 125.13 169.52 127.71 172.97 130.45C176.43 133.19 179.74 136.99 183.15 139.86C186.56 142.74 188.67 145.02 193.43 147.72C198.19 150.42 205.75 152.94 211.73 156.06C217.7 159.18 224.26 162.53 229.27 166.43C234.29 170.32 238 174.9 241.82 179.44Z" fill="#5E52A4"/></g></g><g clip-path="url(#vc3)"><g clip-path="url(#vc2)"><g clip-path="url(#vc1)"><path d="M149.3 124.3C148.88 118.38 148.3 112.38 149.3 106.7C150.3 101.02 152.43 95.18 155.3 90.2C158.17 85.22 162.1 80.5 166.5 76.8C170.9 73.1 176.28 69.97 181.7 68C187.12 66.03 193.23 65 199 65C204.77 65 210.88 66.03 216.3 68C221.72 69.97 227.1 73.1 231.5 76.8C235.9 80.5 239.83 85.22 242.7 90.2C245.57 95.18 247.7 101.02 248.7 106.7C249.7 112.38 248.93 119.67 248.7 124.3C248.47 128.93 248.4 129.73 247.3 134.5C246.2 139.27 244.48 147.4 242.1 152.9C239.72 158.4 235.37 163 233 167.5C230.63 172 229.2 176.32 227.9 179.9C226.6 183.48 226.1 185.52 225.2 189C224.3 192.48 223.55 196.72 222.5 200.8C221.45 204.88 220.87 209.87 218.9 213.5C216.93 217.13 213.58 220.18 210.7 222.6C207.82 225.02 204.22 226.95 201.6 228C198.98 229.05 197.3 229.3 195 228.9C192.7 228.5 190.2 227.7 187.8 225.6C185.4 223.5 182.53 219.83 180.6 216.3C178.67 212.77 177.38 208.65 176.2 204.4C175.02 200.15 174.57 195.13 173.5 190.8C172.43 186.47 172.07 183.38 169.8 178.4C167.53 173.42 162.9 166.93 159.9 160.9C156.9 154.87 153.57 148.3 151.8 142.2C150.03 136.1 149.72 130.22 149.3 124.3Z" fill="#5E56A6"/></g></g></g><g clip-path="url(#vc4)"><g clip-path="url(#vc2)"><g clip-path="url(#vc1)"><path d="M149.3 124.3C148.88 118.38 148.3 112.38 149.3 106.7C150.3 101.02 152.43 95.18 155.3 90.2C158.17 85.22 162.1 80.5 166.5 76.8C170.9 73.1 176.28 69.97 181.7 68C187.12 66.03 193.23 65 199 65C204.77 65 210.88 66.03 216.3 68C221.72 69.97 227.1 73.1 231.5 76.8C235.9 80.5 239.83 85.22 242.7 90.2C245.57 95.18 247.7 101.02 248.7 106.7C249.7 112.38 248.93 119.67 248.7 124.3C248.47 128.93 248.4 129.73 247.3 134.5C246.2 139.27 244.48 147.4 242.1 152.9C239.72 158.4 235.37 163 233 167.5C230.63 172 229.2 176.32 227.9 179.9C226.6 183.48 226.1 185.52 225.2 189C224.3 192.48 223.55 196.72 222.5 200.8C221.45 204.88 220.87 209.87 218.9 213.5C216.93 217.13 213.58 220.18 210.7 222.6C207.82 225.02 204.22 226.95 201.6 228C198.98 229.05 197.3 229.3 195 228.9C192.7 228.5 190.2 227.7 187.8 225.6C185.4 223.5 182.53 219.83 180.6 216.3C178.67 212.77 177.38 208.65 176.2 204.4C175.02 200.15 174.57 195.13 173.5 190.8C172.43 186.47 172.07 183.38 169.8 178.4C167.53 173.42 162.9 166.93 159.9 160.9C156.9 154.87 153.57 148.3 151.8 142.2C150.03 136.1 149.72 130.22 149.3 124.3Z" fill="#5C7BB9"/></g></g></g><g clip-path="url(#vc4)"><g clip-path="url(#vc3)"><g clip-path="url(#vc1)"><path d="M149.3 124.3C148.88 118.38 148.3 112.38 149.3 106.7C150.3 101.02 152.43 95.18 155.3 90.2C158.17 85.22 162.1 80.5 166.5 76.8C170.9 73.1 176.28 69.97 181.7 68C187.12 66.03 193.23 65 199 65C204.77 65 210.88 66.03 216.3 68C221.72 69.97 227.1 73.1 231.5 76.8C235.9 80.5 239.83 85.22 242.7 90.2C245.57 95.18 247.7 101.02 248.7 106.7C249.7 112.38 248.93 119.67 248.7 124.3C248.47 128.93 248.4 129.73 247.3 134.5C246.2 139.27 244.48 147.4 242.1 152.9C239.72 158.4 235.37 163 233 167.5C230.63 172 229.2 176.32 227.9 179.9C226.6 183.48 226.1 185.52 225.2 189C224.3 192.48 223.55 196.72 222.5 200.8C221.45 204.88 220.87 209.87 218.9 213.5C216.93 217.13 213.58 220.18 210.7 222.6C207.82 225.02 204.22 226.95 201.6 228C198.98 229.05 197.3 229.3 195 228.9C192.7 228.5 190.2 227.7 187.8 225.6C185.4 223.5 182.53 219.83 180.6 216.3C178.67 212.77 177.38 208.65 176.2 204.4C175.02 200.15 174.57 195.13 173.5 190.8C172.43 186.47 172.07 183.38 169.8 178.4C167.53 173.42 162.9 166.93 159.9 160.9C156.9 154.87 153.57 148.3 151.8 142.2C150.03 136.1 149.72 130.22 149.3 124.3Z" fill="#5E55A6"/></g></g></g><g clip-path="url(#vc4)"><g clip-path="url(#vc3)"><g clip-path="url(#vc2)"><path d="M149.3 124.3C148.88 118.38 148.3 112.38 149.3 106.7C150.3 101.02 152.43 95.18 155.3 90.2C158.17 85.22 162.1 80.5 166.5 76.8C170.9 73.1 176.28 69.97 181.7 68C187.12 66.03 193.23 65 199 65C204.77 65 210.88 66.03 216.3 68C221.72 69.97 227.1 73.1 231.5 76.8C235.9 80.5 239.83 85.22 242.7 90.2C245.57 95.18 247.7 101.02 248.7 106.7C249.7 112.38 248.93 119.67 248.7 124.3C248.47 128.93 248.4 129.73 247.3 134.5C246.2 139.27 244.48 147.4 242.1 152.9C239.72 158.4 235.37 163 233 167.5C230.63 172 229.2 176.32 227.9 179.9C226.6 183.48 226.1 185.52 225.2 189C224.3 192.48 223.55 196.72 222.5 200.8C221.45 204.88 220.87 209.87 218.9 213.5C216.93 217.13 213.58 220.18 210.7 222.6C207.82 225.02 204.22 226.95 201.6 228C198.98 229.05 197.3 229.3 195 228.9C192.7 228.5 190.2 227.7 187.8 225.6C185.4 223.5 182.53 219.83 180.6 216.3C178.67 212.77 177.38 208.65 176.2 204.4C175.02 200.15 174.57 195.13 173.5 190.8C172.43 186.47 172.07 183.38 169.8 178.4C167.53 173.42 162.9 166.93 159.9 160.9C156.9 154.87 153.57 148.3 151.8 142.2C150.03 136.1 149.72 130.22 149.3 124.3Z" fill="#5E53A4"/></g></g></g><g clip-path="url(#vc4)"><g clip-path="url(#vc3)"><g clip-path="url(#vc2)"><path d="M215.59 118.26C221.09 116.04 226.61 113.63 232.33 112.82C238.04 112.02 244.25 112.24 249.87 113.43C255.5 114.62 261.2 116.9 266.08 119.94C270.96 122.98 275.6 127.13 279.15 131.68C282.69 136.22 285.56 141.72 287.34 147.2C289.13 152.69 290.03 158.83 289.84 164.58C289.64 170.34 288.32 176.43 286.17 181.76C284.01 187.09 280.74 192.29 276.88 196.55C273.03 200.82 268.14 204.65 263.04 207.36C257.95 210.07 250.78 211.59 246.3 212.8C241.83 214.01 241.04 214.19 236.17 214.62C231.3 215.04 223.03 215.92 217.07 215.36C211.1 214.79 205.38 212.07 200.37 211.21C195.36 210.35 190.81 210.32 187 210.2C183.19 210.07 181.1 210.22 177.51 210.44C173.92 210.66 169.66 211.26 165.45 211.52C161.24 211.78 156.33 212.77 152.26 212.02C148.2 211.27 144.26 209.03 141.07 207.03C137.88 205.04 134.93 202.21 133.13 200.05C131.32 197.88 130.56 196.36 130.23 194.05C129.9 191.74 129.89 189.11 131.14 186.18C132.4 183.25 135 179.39 137.76 176.46C140.53 173.53 144.05 171.04 147.72 168.6C151.4 166.16 156.03 164.18 159.82 161.83C163.61 159.47 166.43 158.17 170.47 154.48C174.51 150.78 179.24 144.37 184.06 139.65C188.87 134.94 194.08 129.74 199.34 126.17C204.59 122.61 210.09 120.49 215.59 118.26Z" fill="#5E54A5"/></g></g></g><g clip-path="url(#vc4)"><g clip-path="url(#vc3)"><g clip-path="url(#vc2)"><g clip-path="url(#vc1)"><path d="M149.3 124.3C148.88 118.38 148.3 112.38 149.3 106.7C150.3 101.02 152.43 95.18 155.3 90.2C158.17 85.22 162.1 80.5 166.5 76.8C170.9 73.1 176.28 69.97 181.7 68C187.12 66.03 193.23 65 199 65C204.77 65 210.88 66.03 216.3 68C221.72 69.97 227.1 73.1 231.5 76.8C235.9 80.5 239.83 85.22 242.7 90.2C245.57 95.18 247.7 101.02 248.7 106.7C249.7 112.38 248.93 119.67 248.7 124.3C248.47 128.93 248.4 129.73 247.3 134.5C246.2 139.27 244.48 147.4 242.1 152.9C239.72 158.4 235.37 163 233 167.5C230.63 172 229.2 176.32 227.9 179.9C226.6 183.48 226.1 185.52 225.2 189C224.3 192.48 223.55 196.72 222.5 200.8C221.45 204.88 220.87 209.87 218.9 213.5C216.93 217.13 213.58 220.18 210.7 222.6C207.82 225.02 204.22 226.95 201.6 228C198.98 229.05 197.3 229.3 195 228.9C192.7 228.5 190.2 227.7 187.8 225.6C185.4 223.5 182.53 219.83 180.6 216.3C178.67 212.77 177.38 208.65 176.2 204.4C175.02 200.15 174.57 195.13 173.5 190.8C172.43 186.47 172.07 183.38 169.8 178.4C167.53 173.42 162.9 166.93 159.9 160.9C156.9 154.87 153.57 148.3 151.8 142.2C150.03 136.1 149.72 130.22 149.3 124.3Z" fill="#6B9FBB"/></g></g></g></g><path d="M149.3 124.3C148.88 118.38 148.3 112.38 149.3 106.7C150.3 101.02 152.43 95.18 155.3 90.2C158.17 85.22 162.1 80.5 166.5 76.8C170.9 73.1 176.28 69.97 181.7 68C187.12 66.03 193.23 65 199 65C204.77 65 210.88 66.03 216.3 68C221.72 69.97 227.1 73.1 231.5 76.8C235.9 80.5 239.83 85.22 242.7 90.2C245.57 95.18 247.7 101.02 248.7 106.7C249.7 112.38 248.93 119.67 248.7 124.3C248.47 128.93 248.4 129.73 247.3 134.5C246.2 139.27 244.48 147.4 242.1 152.9C239.72 158.4 235.37 163 233 167.5C230.63 172 229.2 176.32 227.9 179.9C226.6 183.48 226.1 185.52 225.2 189C224.3 192.48 223.55 196.72 222.5 200.8C221.45 204.88 220.87 209.87 218.9 213.5C216.93 217.13 213.58 220.18 210.7 222.6C207.82 225.02 204.22 226.95 201.6 228C198.98 229.05 197.3 229.3 195 228.9C192.7 228.5 190.2 227.7 187.8 225.6C185.4 223.5 182.53 219.83 180.6 216.3C178.67 212.77 177.38 208.65 176.2 204.4C175.02 200.15 174.57 195.13 173.5 190.8C172.43 186.47 172.07 183.38 169.8 178.4C167.53 173.42 162.9 166.93 159.9 160.9C156.9 154.87 153.57 148.3 151.8 142.2C150.03 136.1 149.72 130.22 149.3 124.3Z" fill="none" stroke="#111" stroke-width="1.25"/><path d="M215.59 118.26C221.09 116.04 226.61 113.63 232.33 112.82C238.04 112.02 244.25 112.24 249.87 113.43C255.5 114.62 261.2 116.9 266.08 119.94C270.96 122.98 275.6 127.13 279.15 131.68C282.69 136.22 285.56 141.72 287.34 147.2C289.13 152.69 290.03 158.83 289.84 164.58C289.64 170.34 288.32 176.43 286.17 181.76C284.01 187.09 280.74 192.29 276.88 196.55C273.03 200.82 268.14 204.65 263.04 207.36C257.95 210.07 250.78 211.59 246.3 212.8C241.83 214.01 241.04 214.19 236.17 214.62C231.3 215.04 223.03 215.92 217.07 215.36C211.1 214.79 205.38 212.07 200.37 211.21C195.36 210.35 190.81 210.32 187 210.2C183.19 210.07 181.1 210.22 177.51 210.44C173.92 210.66 169.66 211.26 165.45 211.52C161.24 211.78 156.33 212.77 152.26 212.02C148.2 211.27 144.26 209.03 141.07 207.03C137.88 205.04 134.93 202.21 133.13 200.05C131.32 197.88 130.56 196.36 130.23 194.05C129.9 191.74 129.89 189.11 131.14 186.18C132.4 183.25 135 179.39 137.76 176.46C140.53 173.53 144.05 171.04 147.72 168.6C151.4 166.16 156.03 164.18 159.82 161.83C163.61 159.47 166.43 158.17 170.47 154.48C174.51 150.78 179.24 144.37 184.06 139.65C188.87 134.94 194.08 129.74 199.34 126.17C204.59 122.61 210.09 120.49 215.59 118.26Z" fill="none" stroke="#111" stroke-width="1.25"/><path d="M241.82 179.44C245.63 183.98 249.63 188.49 252.16 193.68C254.69 198.86 256.4 204.84 257.01 210.55C257.62 216.27 257.21 222.4 255.82 227.98C254.44 233.56 251.92 239.26 248.7 244.03C245.47 248.81 241.13 253.24 236.46 256.63C231.8 260.02 226.24 262.78 220.7 264.37C215.17 265.96 208.97 266.59 203.23 266.18C197.5 265.78 191.55 264.27 186.3 261.93C181.05 259.58 175.89 256.11 171.74 252.1C167.6 248.09 163.93 241.75 161.4 237.87C158.87 233.98 158.45 233.29 156.54 228.79C154.63 224.29 151.23 216.7 149.93 210.85C148.62 205 149.44 198.72 148.71 193.69C147.98 188.66 146.6 184.32 145.55 180.66C144.49 177 143.7 175.06 142.38 171.71C141.06 168.36 139.18 164.5 137.63 160.58C136.08 156.66 133.62 152.28 133.08 148.19C132.53 144.09 133.45 139.65 134.36 136C135.28 132.35 137.05 128.67 138.55 126.29C140.05 123.9 141.27 122.71 143.36 121.68C145.46 120.65 147.95 119.83 151.13 120.12C154.3 120.4 158.78 121.69 162.42 123.41C166.06 125.13 169.52 127.71 172.97 130.45C176.43 133.19 179.74 136.99 183.15 139.86C186.56 142.74 188.67 145.02 193.43 147.72C198.19 150.42 205.75 152.94 211.73 156.06C217.7 159.18 224.26 162.53 229.27 166.43C234.29 170.32 238 174.9 241.82 179.44Z" fill="none" stroke="#111" stroke-width="1.25"/><path d="M191.74 223.29C188.6 228.32 185.54 233.52 181.39 237.53C177.24 241.54 172.09 245 166.84 247.35C161.59 249.7 155.64 251.2 149.9 251.61C144.17 252.01 137.97 251.38 132.43 249.79C126.89 248.2 121.34 245.44 116.67 242.05C112.01 238.66 107.67 234.23 104.44 229.45C101.21 224.68 98.7 218.98 97.32 213.4C95.93 207.82 95.52 201.69 96.13 195.98C96.74 190.26 98.44 184.29 100.98 179.1C103.51 173.92 108.41 168.47 111.32 164.86C114.23 161.25 114.76 160.64 118.45 157.43C122.14 154.22 128.31 148.65 133.47 145.6C138.63 142.56 144.85 141.39 149.41 139.14C153.97 136.89 157.67 134.24 160.83 132.11C163.99 129.97 165.59 128.62 168.36 126.33C171.14 124.04 174.23 121.06 177.48 118.37C180.73 115.69 184.13 112 187.86 110.21C191.59 108.43 196.09 107.93 199.84 107.67C203.6 107.41 207.64 107.96 210.38 108.65C213.11 109.34 214.62 110.13 216.25 111.8C217.87 113.48 219.42 115.6 220.13 118.71C220.84 121.81 221 126.47 220.49 130.46C219.98 134.46 218.6 138.54 217.06 142.67C215.51 146.81 212.93 151.13 211.25 155.26C209.56 159.4 208.05 162.11 206.95 167.47C205.86 172.84 205.79 180.8 204.67 187.45C203.55 194.09 202.39 201.36 200.24 207.34C198.08 213.31 194.88 218.26 191.74 223.29Z" fill="none" stroke="#111" stroke-width="1.25"/><path d="M134.56 189.21C128.8 187.78 122.92 186.48 117.82 183.77C112.72 181.06 107.84 177.23 103.98 172.97C100.13 168.7 96.86 163.5 94.7 158.17C92.54 152.85 91.22 146.76 91.03 141C90.83 135.24 91.74 129.1 93.52 123.62C95.3 118.13 98.17 112.64 101.72 108.09C105.26 103.55 109.91 99.4 114.78 96.36C119.66 93.31 125.36 91.03 130.99 89.84C136.62 88.66 142.82 88.43 148.54 89.24C154.25 90.04 160.94 93.02 165.27 94.68C169.61 96.33 170.35 96.64 174.54 99.16C178.74 101.68 185.94 105.82 190.44 109.79C194.93 113.76 197.96 119.31 201.51 122.96C205.06 126.6 208.72 129.29 211.73 131.64C214.73 133.98 216.51 135.09 219.55 137.02C222.58 138.95 226.38 140.97 229.93 143.23C233.49 145.49 238.05 147.59 240.9 150.58C243.75 153.57 245.61 157.7 247.02 161.19C248.43 164.68 249.15 168.7 249.34 171.52C249.53 174.33 249.25 176.01 248.16 178.07C247.07 180.13 245.54 182.26 242.8 183.9C240.06 185.53 235.69 187.12 231.73 187.87C227.77 188.62 223.46 188.57 219.05 188.38C214.64 188.19 209.73 187.07 205.28 186.74C200.83 186.42 197.79 185.82 192.35 186.43C186.91 187.05 179.31 189.45 172.64 190.44C165.98 191.43 158.7 192.57 152.36 192.36C146.01 192.16 140.31 190.64 134.56 189.21Z" fill="none" stroke="#111" stroke-width="1.25"/><text x="203.3" y="93.2" font-size="5.2" fill="#fff" text-anchor="middle" opacity="0.7" stroke="#fff" stroke-width="0.15">274</text><text x="113.5" y="130.9" font-size="5.2" fill="#fff" text-anchor="middle" opacity="0.7" stroke="#fff" stroke-width="0.15">279</text><text x="269.3" y="164.2" font-size="5.2" fill="#fff" text-anchor="middle" opacity="0.7" stroke="#fff" stroke-width="0.15">319</text><text x="215.6" y="241.8" font-size="5.2" fill="#fff" text-anchor="middle" opacity="0.7" stroke="#fff" stroke-width="0.15">204</text><text x="123" y="213.5" font-size="5.2" fill="#fff" text-anchor="middle" opacity="0.7" stroke="#fff" stroke-width="0.15">76</text><text x="168.6" y="109.8" font-size="5.2" fill="#fff" text-anchor="middle" opacity="0.7" stroke="#fff" stroke-width="0.15">57</text><text x="235.7" y="135.7" font-size="5.2" fill="#fff" text-anchor="middle" opacity="0.7" stroke="#fff" stroke-width="0.15">46</text><text x="238.7" y="199.6" font-size="5.2" fill="#fff" text-anchor="middle" opacity="0.7" stroke="#fff" stroke-width="0.15">28</text><text x="172.3" y="230.2" font-size="5.2" fill="#fff" text-anchor="middle" opacity="0.7" stroke="#fff" stroke-width="0.15">28</text><text x="123" y="169.7" font-size="5.2" fill="#fff" text-anchor="middle" opacity="0.7" stroke="#fff" stroke-width="0.15">6</text><text x="206" y="118" font-size="5.2" fill="#fff" text-anchor="middle" opacity="0.7" stroke="#fff" stroke-width="0.15">5</text><text x="185" y="128.8" font-size="5.2" fill="#fff" text-anchor="middle" opacity="0.7" stroke="#fff" stroke-width="0.15">5</text><text x="213.5" y="128.8" font-size="5.2" fill="#fff" text-anchor="middle" opacity="0.7" stroke="#fff" stroke-width="0.15">8</text><text x="202" y="143.2" font-size="5.2" fill="#fff" text-anchor="middle" opacity="0.7" stroke="#fff" stroke-width="0.15">9</text><text x="140.7" y="135.7" font-size="5.2" fill="#fff" text-anchor="middle" opacity="0.7" stroke="#fff" stroke-width="0.15">14</text><text x="157" y="131.6" font-size="5.2" fill="#fff" text-anchor="middle" opacity="0.7" stroke="#fff" stroke-width="0.15">16</text><text x="165.9" y="145.8" font-size="5.2" fill="#fff" text-anchor="middle" opacity="0.7" stroke="#fff" stroke-width="0.15">6</text><text x="146.9" y="157.4" font-size="5.2" fill="#fff" text-anchor="middle" opacity="0.7" stroke="#fff" stroke-width="0.15">5</text><text x="185.6" y="167" font-size="5.2" fill="#fff" text-anchor="middle" opacity="0.7" stroke="#fff" stroke-width="0.15">52</text><text x="227.8" y="154.7" font-size="5.2" fill="#fff" text-anchor="middle" opacity="0.7" stroke="#fff" stroke-width="0.15">37</text><text x="240.7" y="169.7" font-size="5.2" fill="#fff" text-anchor="middle" opacity="0.7" stroke="#fff" stroke-width="0.15">43</text><text x="217.6" y="174.5" font-size="5.2" fill="#fff" text-anchor="middle" opacity="0.7" stroke="#fff" stroke-width="0.15">27</text><text x="235.7" y="180.6" font-size="5.2" fill="#fff" text-anchor="middle" opacity="0.7" stroke="#fff" stroke-width="0.15">8</text><text x="157" y="179.8" font-size="5.2" fill="#fff" text-anchor="middle" opacity="0.7" stroke="#fff" stroke-width="0.15">7</text><text x="140" y="184.7" font-size="5.2" fill="#fff" text-anchor="middle" opacity="0.7" stroke="#fff" stroke-width="0.15">4</text><text x="141.7" y="203" font-size="5.2" fill="#fff" text-anchor="middle" opacity="0.7" stroke="#fff" stroke-width="0.15">10</text><text x="162.5" y="203" font-size="5.2" fill="#fff" text-anchor="middle" opacity="0.7" stroke="#fff" stroke-width="0.15">18</text><text x="189" y="199.6" font-size="5.2" fill="#fff" text-anchor="middle" opacity="0.7" stroke="#fff" stroke-width="0.15">10</text><text x="211.5" y="203" font-size="5.2" fill="#fff" text-anchor="middle" opacity="0.7" stroke="#fff" stroke-width="0.15">26</text><text x="189" y="220.7" font-size="5.2" fill="#fff" text-anchor="middle" opacity="0.7" stroke="#fff" stroke-width="0.15">7</text><text x="204.7" y="222.1" font-size="5.2" fill="#fff" text-anchor="middle" opacity="0.7" stroke="#fff" stroke-width="0.15">23</text><text x="198.5" y="61.4" font-size="6.3" fill="#333" text-anchor="middle" stroke="#333" stroke-width="0.18">Gly</text><text x="93" y="97.9" font-size="6.3" fill="#333" text-anchor="middle" stroke="#333" stroke-width="0.18">Ctrl2</text><text x="284" y="121.2" font-size="6.3" fill="#333" text-anchor="middle" stroke="#333" stroke-width="0.18">Pla</text><text x="92.3" y="243.2" font-size="6.3" fill="#333" text-anchor="middle" stroke="#333" stroke-width="0.18">Sep</text><text x="253.8" y="264.2" font-size="6.3" fill="#333" text-anchor="middle" stroke="#333" stroke-width="0.18">Ctrl1</text><text x="333" y="93.6" font-size="7.6" fill="#222" font-weight="bold" stroke="#222" stroke-width="0.21">Number</text><rect x="332.4" y="100.8" width="8.9" height="138.5" fill="url(#vgrad)"/><text x="345" y="111.8" font-size="8" fill="#333" stroke="#333" stroke-width="0.22">300</text><text x="345" y="155.5" font-size="8" fill="#333" stroke="#333" stroke-width="0.22">200</text><text x="345" y="199.3" font-size="8" fill="#333" stroke="#333" stroke-width="0.22">100</text></g>
<g id="pb"><text x="391.3" y="22" font-size="25.5" fill="#111" stroke="#111" stroke-width="0.71">B</text><text x="624.6" y="30.6" font-size="11.8" fill="#111" font-weight="bold" text-anchor="middle" stroke="#111" stroke-width="0.33">Alpha Diversity</text><rect x="463.7" y="50.3" width="322.3" height="13.4" fill="#D9D9D9" stroke="#ABABAB" stroke-width="1"/><line x1="463.7" y1="63.7" x2="786" y2="63.7" stroke="#8E8E8E" stroke-width="1.6"/><text x="624.85" y="60.4" font-size="8.8" fill="#222" font-weight="bold" text-anchor="middle" stroke="#222" stroke-width="0.25">chao1</text><rect x="463.7" y="63.7" width="322.3" height="211.2" fill="#fff" stroke="#C2C2C2" stroke-width="1.15"/><line x1="461.1" y1="72.2" x2="463.7" y2="72.2" stroke="#888" stroke-width="0.8"/><text x="459.7" y="74.4" font-size="6.2" fill="#444" text-anchor="end" stroke="#444" stroke-width="0.17">500</text><line x1="461.1" y1="108.5" x2="463.7" y2="108.5" stroke="#888" stroke-width="0.8"/><text x="459.7" y="110.7" font-size="6.2" fill="#444" text-anchor="end" stroke="#444" stroke-width="0.17">400</text><line x1="461.1" y1="145" x2="463.7" y2="145" stroke="#888" stroke-width="0.8"/><text x="459.7" y="147.2" font-size="6.2" fill="#444" text-anchor="end" stroke="#444" stroke-width="0.17">300</text><line x1="461.1" y1="181.6" x2="463.7" y2="181.6" stroke="#888" stroke-width="0.8"/><text x="459.7" y="183.8" font-size="6.2" fill="#444" text-anchor="end" stroke="#444" stroke-width="0.17">200</text><line x1="461.1" y1="218.1" x2="463.7" y2="218.1" stroke="#888" stroke-width="0.8"/><text x="459.7" y="220.3" font-size="6.2" fill="#444" text-anchor="end" stroke="#444" stroke-width="0.17">100</text><line x1="461.1" y1="254.6" x2="463.7" y2="254.6" stroke="#888" stroke-width="0.8"/><text x="459.7" y="256.8" font-size="6.2" fill="#444" text-anchor="end" stroke="#444" stroke-width="0.17">0</text><line x1="500.7" y1="274.9" x2="500.7" y2="277.6" stroke="#888" stroke-width="0.8"/><text x="502.3" y="281.3" font-size="6.6" fill="#333" transform="rotate(-60 502.3 281.3)" text-anchor="end" stroke="#333" stroke-width="0.18">Ctrl2</text><line x1="562.9" y1="274.9" x2="562.9" y2="277.6" stroke="#888" stroke-width="0.8"/><text x="564.5" y="281.3" font-size="6.6" fill="#333" transform="rotate(-60 564.5 281.3)" text-anchor="end" stroke="#333" stroke-width="0.18">Gly</text><line x1="624.7" y1="274.9" x2="624.7" y2="277.6" stroke="#888" stroke-width="0.8"/><text x="626.3" y="281.3" font-size="6.6" fill="#333" transform="rotate(-60 626.3 281.3)" text-anchor="end" stroke="#333" stroke-width="0.18">Pla</text><line x1="686.9" y1="274.9" x2="686.9" y2="277.6" stroke="#888" stroke-width="0.8"/><text x="688.5" y="281.3" font-size="6.6" fill="#333" transform="rotate(-60 688.5 281.3)" text-anchor="end" stroke="#333" stroke-width="0.18">Ctrl1</text><line x1="749" y1="274.9" x2="749" y2="277.6" stroke="#888" stroke-width="0.8"/><text x="750.6" y="281.3" font-size="6.6" fill="#333" transform="rotate(-60 750.6 281.3)" text-anchor="end" stroke="#333" stroke-width="0.18">Sep</text><path d="M500.7 144.13C500.84 145.1 501.28 148.1 501.55 149.95C501.81 151.8 501.46 153.47 502.29 155.24C503.12 157 505.02 158.77 506.52 160.53C508.02 162.29 509.87 164.06 511.28 165.82C512.69 167.58 514.14 169.52 514.99 171.11C515.83 172.7 516.27 173.93 516.36 175.34C516.45 176.75 516.04 177.99 515.51 179.58C514.99 181.16 513.68 183.28 513.19 184.87C512.69 186.46 512.55 187.69 512.55 189.1C512.55 190.51 513.26 191.92 513.19 193.33C513.12 194.74 512.89 195.98 512.13 197.57C511.37 199.15 509.92 201.09 508.64 202.86C507.35 204.62 505.51 206.56 504.4 208.15C503.29 209.74 502.48 210.97 501.97 212.38C501.46 213.79 501.55 215.2 501.33 216.61C501.12 218.02 500.81 220.14 500.7 220.85C500.59 220.14 500.28 218.02 500.07 216.61C499.85 215.2 499.94 213.79 499.43 212.38C498.92 210.97 498.11 209.74 497 208.15C495.89 206.56 494.05 204.62 492.76 202.86C491.48 201.09 490.03 199.15 489.27 197.57C488.51 195.98 488.28 194.74 488.21 193.33C488.14 191.92 488.85 190.51 488.85 189.1C488.85 187.69 488.71 186.46 488.21 184.87C487.72 183.28 486.41 181.16 485.89 179.58C485.36 177.99 484.95 176.75 485.04 175.34C485.13 173.93 485.57 172.7 486.41 171.11C487.26 169.52 488.71 167.58 490.12 165.82C491.53 164.06 493.38 162.29 494.88 160.53C496.38 158.77 498.28 157 499.11 155.24C499.94 153.47 499.59 151.8 499.85 149.95C500.12 148.1 500.56 145.1 500.7 144.13Z" fill="#C74694" fill-opacity="0.8"/><path d="M562.9 155.77C563.04 156.56 563.22 159.03 563.75 160.53C564.28 162.03 564.28 163.35 566.07 164.76C567.87 166.17 572.25 167.76 574.54 168.99C576.83 170.23 578.77 171.11 579.83 172.17C580.89 173.23 580.8 174.29 580.89 175.34C580.98 176.4 580.01 177.46 580.36 178.52C580.71 179.58 581.82 180.46 583.01 181.69C584.19 182.93 587.27 184.69 587.45 185.93C587.63 187.16 586.22 187.87 584.06 189.1C581.91 190.34 577.45 191.92 574.54 193.33C571.63 194.74 568.37 196.33 566.6 197.57C564.84 198.8 564.58 199.59 563.96 200.74C563.34 201.89 563.08 203.83 562.9 204.44C562.72 203.83 562.46 201.89 561.84 200.74C561.22 199.59 560.96 198.8 559.2 197.57C557.43 196.33 554.17 194.74 551.26 193.33C548.35 191.92 543.89 190.34 541.74 189.1C539.58 187.87 538.17 187.16 538.35 185.93C538.53 184.69 541.61 182.93 542.79 181.69C543.98 180.46 545.09 179.58 545.44 178.52C545.79 177.46 544.82 176.4 544.91 175.34C545 174.29 544.91 173.23 545.97 172.17C547.03 171.11 548.97 170.23 551.26 168.99C553.55 167.76 557.93 166.17 559.73 164.76C561.52 163.35 561.52 162.03 562.05 160.53C562.58 159.03 562.76 156.56 562.9 155.77Z" fill="#8CB3D9" fill-opacity="0.8"/><path d="M624.7 134.6C624.84 135.57 625.11 138.75 625.55 140.42C625.99 142.1 626.25 143.07 627.35 144.66C628.44 146.24 630.61 148.18 632.11 149.95C633.61 151.71 635.25 153.47 636.34 155.24C637.43 157 638.14 158.77 638.67 160.53C639.2 162.29 639.34 164.06 639.51 165.82C639.69 167.58 639.76 169.35 639.73 171.11C639.69 172.87 639.69 174.64 639.3 176.4C638.92 178.17 638.24 179.93 637.4 181.69C636.55 183.46 635.37 185.22 634.22 186.98C633.08 188.75 631.67 190.51 630.52 192.28C629.37 194.04 628.17 195.8 627.35 197.57C626.52 199.33 625.99 200.74 625.55 202.86C625.11 204.97 624.84 209.03 624.7 210.26C624.56 209.03 624.29 204.97 623.85 202.86C623.41 200.74 622.88 199.33 622.05 197.57C621.23 195.8 620.03 194.04 618.88 192.28C617.73 190.51 616.32 188.75 615.18 186.98C614.03 185.22 612.85 183.46 612 181.69C611.16 179.93 610.48 178.17 610.1 176.4C609.71 174.64 609.71 172.87 609.67 171.11C609.64 169.35 609.71 167.58 609.89 165.82C610.06 164.06 610.2 162.29 610.73 160.53C611.26 158.77 611.97 157 613.06 155.24C614.15 153.47 615.79 151.71 617.29 149.95C618.79 148.18 620.96 146.24 622.05 144.66C623.15 143.07 623.41 142.1 623.85 140.42C624.29 138.75 624.56 135.57 624.7 134.6Z" fill="#6E6FDB" fill-opacity="0.8"/><path d="M686.9 122.43C687.08 124.37 687.57 130.37 687.96 134.07C688.35 137.78 688.73 141.13 689.23 144.66C689.72 148.18 690.57 151.71 690.92 155.24C691.27 158.77 691.22 162.29 691.34 165.82C691.47 169.35 691.38 172.87 691.66 176.4C691.94 179.93 692.51 183.46 693.04 186.98C693.57 190.51 694.36 194.04 694.84 197.57C695.31 201.09 695.81 204.62 695.89 208.15C695.98 211.68 695.81 215.2 695.37 218.73C694.92 222.26 694.04 225.78 693.25 229.31C692.46 232.84 691.4 236.37 690.6 239.89C689.81 243.42 689.02 246.95 688.49 250.48C687.96 254 687.69 258.41 687.43 261.06C687.16 263.7 686.99 265.47 686.9 266.35C686.81 265.47 686.64 263.7 686.37 261.06C686.11 258.41 685.84 254 685.31 250.48C684.78 246.95 683.99 243.42 683.2 239.89C682.4 236.37 681.34 232.84 680.55 229.31C679.76 225.78 678.88 222.26 678.43 218.73C677.99 215.2 677.82 211.68 677.91 208.15C677.99 204.62 678.49 201.09 678.96 197.57C679.44 194.04 680.23 190.51 680.76 186.98C681.29 183.46 681.86 179.93 682.14 176.4C682.42 172.87 682.33 169.35 682.46 165.82C682.58 162.29 682.53 158.77 682.88 155.24C683.23 151.71 684.08 148.18 684.57 144.66C685.07 141.13 685.45 137.78 685.84 134.07C686.23 130.37 686.72 124.37 686.9 122.43Z" fill="#D8A43C" fill-opacity="0.8"/><path d="M749 197.57C749.21 198.27 749.21 200.39 750.27 201.8C751.33 203.21 753.44 204.62 755.35 206.03C757.25 207.44 760.15 208.85 761.7 210.26C763.25 211.68 764.13 213.09 764.66 214.5C765.19 215.91 764.4 217.32 764.87 218.73C765.35 220.14 765.97 221.38 767.52 222.96C769.07 224.55 773.92 226.67 774.19 228.25C774.45 229.84 771.72 230.9 769.11 232.49C766.5 234.07 761.43 236.19 758.52 237.78C755.61 239.37 753.23 240.42 751.65 242.01C750.06 243.6 749.44 246.42 749 247.3C748.56 246.42 747.94 243.6 746.35 242.01C744.77 240.42 742.39 239.37 739.48 237.78C736.57 236.19 731.5 234.07 728.89 232.49C726.28 230.9 723.55 229.84 723.81 228.25C724.08 226.67 728.93 224.55 730.48 222.96C732.03 221.38 732.65 220.14 733.13 218.73C733.6 217.32 732.81 215.91 733.34 214.5C733.87 213.09 734.75 211.68 736.3 210.26C737.85 208.85 740.75 207.44 742.65 206.03C744.56 204.62 746.67 203.21 747.73 201.8C748.79 200.39 748.79 198.27 749 197.57Z" fill="#95DCCC" fill-opacity="0.8"/><path d="M624.7 76.6L624.7 74L686.9 74L686.9 76.6" fill="none" stroke="#9A9A9A" stroke-width="1.2"/><path d="M562.9 85.1L562.9 82.5L686.9 82.5L686.9 85.1" fill="none" stroke="#9A9A9A" stroke-width="1.2"/><path d="M562.9 94.3L562.9 91.7L624.7 91.7L624.7 94.3" fill="none" stroke="#9A9A9A" stroke-width="1.2"/><path d="M500.7 102.8L500.7 100.2L686.9 100.2L686.9 102.8" fill="none" stroke="#9A9A9A" stroke-width="1.2"/><path d="M500.7 111.8L500.7 109.2L624.7 109.2L624.7 111.8" fill="none" stroke="#9A9A9A" stroke-width="1.2"/><path d="M500.7 120.8L500.7 118.2L562.9 118.2L562.9 120.8" fill="none" stroke="#9A9A9A" stroke-width="1.2"/><path d="M686.9 129.6L686.9 127L749 127L749 129.6" fill="none" stroke="#9A9A9A" stroke-width="1.2"/><path d="M624.7 138.8L624.7 136.2L749 136.2L749 138.8" fill="none" stroke="#9A9A9A" stroke-width="1.2"/><text x="655.5" y="141.3" font-size="4.5" fill="#444" text-anchor="middle" stroke="#444" stroke-width="0.13">**</text><path d="M562.9 147.7L562.9 145.1L749 145.1L749 147.7" fill="none" stroke="#9A9A9A" stroke-width="1.2"/><path d="M500.7 156.3L500.7 153.7L749 153.7L749 156.3" fill="none" stroke="#9A9A9A" stroke-width="1.2"/><line x1="500.42" y1="167.94" x2="500.42" y2="176.19" stroke="#333" stroke-width="0.9"/><line x1="500.42" y1="191.75" x2="500.42" y2="197.57" stroke="#333" stroke-width="0.9"/><rect x="494.07" y="176.19" width="12.7" height="15.56" fill="#fff" stroke="#333" stroke-width="0.9" fill-opacity="0.72"/><line x1="494.07" y1="176.83" x2="506.77" y2="176.83" stroke="#333" stroke-width="1.6"/><line x1="562.54" y1="172.17" x2="562.54" y2="174.07" stroke="#333" stroke-width="0.9"/><line x1="562.54" y1="187.83" x2="562.54" y2="188.57" stroke="#333" stroke-width="0.9"/><rect x="556.08" y="174.07" width="12.91" height="13.76" fill="#fff" stroke="#333" stroke-width="0.9" fill-opacity="0.72"/><line x1="556.08" y1="184.02" x2="568.99" y2="184.02" stroke="#333" stroke-width="1.6"/><line x1="624.39" y1="158.94" x2="624.39" y2="161.38" stroke="#333" stroke-width="0.9"/><line x1="624.39" y1="176.61" x2="624.39" y2="186.46" stroke="#333" stroke-width="0.9"/><rect x="617.88" y="161.38" width="13.02" height="15.24" fill="#fff" stroke="#333" stroke-width="0.9" fill-opacity="0.72"/><line x1="617.88" y1="172.17" x2="630.9" y2="172.17" stroke="#333" stroke-width="1.6"/><line x1="686.56" y1="159.47" x2="686.56" y2="190.37" stroke="#333" stroke-width="0.9"/><line x1="686.56" y1="214.71" x2="686.56" y2="230.37" stroke="#333" stroke-width="0.9"/><rect x="680.21" y="190.37" width="12.7" height="24.34" fill="#fff" stroke="#333" stroke-width="0.9" fill-opacity="0.72"/><line x1="680.21" y1="206.03" x2="692.91" y2="206.03" stroke="#333" stroke-width="1.6"/><circle cx="686.56" cy="130.37" r="1.1" fill="none" stroke="#555" stroke-width="0.6"/><line x1="748.73" y1="212.38" x2="748.73" y2="217.99" stroke="#333" stroke-width="0.9"/><line x1="748.73" y1="227.51" x2="748.73" y2="232.49" stroke="#333" stroke-width="0.9"/><rect x="742.12" y="217.99" width="13.23" height="9.52" fill="#fff" stroke="#333" stroke-width="0.9" fill-opacity="0.72"/><line x1="742.12" y1="226.67" x2="755.34" y2="226.67" stroke="#333" stroke-width="1.6"/><text x="847.3" y="22" font-size="25.5" fill="#111" stroke="#111" stroke-width="0.71">C</text><text x="1058.4" y="30.6" font-size="11.8" fill="#111" font-weight="bold" text-anchor="middle" stroke="#111" stroke-width="0.33">Alpha Diversity</text><rect x="893.4" y="50.3" width="330" height="13.4" fill="#D9D9D9" stroke="#ABABAB" stroke-width="1"/><line x1="893.4" y1="63.7" x2="1223.4" y2="63.7" stroke="#8E8E8E" stroke-width="1.6"/><text x="1058.4" y="60.4" font-size="8.8" fill="#222" font-weight="bold" text-anchor="middle" stroke="#222" stroke-width="0.25">shannon</text><rect x="893.4" y="63.7" width="330" height="211.2" fill="#fff" stroke="#C2C2C2" stroke-width="1.15"/><line x1="890.8" y1="108.4" x2="893.4" y2="108.4" stroke="#888" stroke-width="0.8"/><text x="889.4" y="110.6" font-size="6.2" fill="#444" text-anchor="end" stroke="#444" stroke-width="0.17">6</text><line x1="890.8" y1="161.5" x2="893.4" y2="161.5" stroke="#888" stroke-width="0.8"/><text x="889.4" y="163.7" font-size="6.2" fill="#444" text-anchor="end" stroke="#444" stroke-width="0.17">4</text><line x1="890.8" y1="214.8" x2="893.4" y2="214.8" stroke="#888" stroke-width="0.8"/><text x="889.4" y="217" font-size="6.2" fill="#444" text-anchor="end" stroke="#444" stroke-width="0.17">2</text><line x1="890.8" y1="267.9" x2="893.4" y2="267.9" stroke="#888" stroke-width="0.8"/><text x="889.4" y="270.1" font-size="6.2" fill="#444" text-anchor="end" stroke="#444" stroke-width="0.17">0</text><line x1="931.3" y1="274.9" x2="931.3" y2="277.6" stroke="#888" stroke-width="0.8"/><text x="932.9" y="281.3" font-size="6.6" fill="#333" transform="rotate(-60 932.9 281.3)" text-anchor="end" stroke="#333" stroke-width="0.18">Ctrl2</text><line x1="994.8" y1="274.9" x2="994.8" y2="277.6" stroke="#888" stroke-width="0.8"/><text x="996.4" y="281.3" font-size="6.6" fill="#333" transform="rotate(-60 996.4 281.3)" text-anchor="end" stroke="#333" stroke-width="0.18">Gly</text><line x1="1058.4" y1="274.9" x2="1058.4" y2="277.6" stroke="#888" stroke-width="0.8"/><text x="1060" y="281.3" font-size="6.6" fill="#333" transform="rotate(-60 1060 281.3)" text-anchor="end" stroke="#333" stroke-width="0.18">Pla</text><line x1="1121.7" y1="274.9" x2="1121.7" y2="277.6" stroke="#888" stroke-width="0.8"/><text x="1123.3" y="281.3" font-size="6.6" fill="#333" transform="rotate(-60 1123.3 281.3)" text-anchor="end" stroke="#333" stroke-width="0.18">Ctrl1</text><line x1="1185.3" y1="274.9" x2="1185.3" y2="277.6" stroke="#888" stroke-width="0.8"/><text x="1186.9" y="281.3" font-size="6.6" fill="#333" transform="rotate(-60 1186.9 281.3)" text-anchor="end" stroke="#333" stroke-width="0.18">Sep</text><path d="M931.3 128.78C931.44 130.19 931.71 134.6 932.15 137.25C932.59 139.89 932.94 142.19 933.95 144.66C934.95 147.13 936.86 149.59 938.18 152.06C939.5 154.53 940.95 157.18 941.88 159.47C942.82 161.76 943.35 163.7 943.79 165.82C944.23 167.94 944.35 169.88 944.53 172.17C944.7 174.46 944.62 177.11 944.84 179.58C945.07 182.05 945.52 184.51 945.9 186.98C946.29 189.45 947.14 191.92 947.17 194.39C947.21 196.86 946.91 199.51 946.11 201.8C945.32 204.09 943.73 206.03 942.41 208.15C941.09 210.26 939.5 212.38 938.18 214.5C936.86 216.61 935.44 218.73 934.47 220.85C933.5 222.96 932.89 224.73 932.36 227.2C931.83 229.66 931.48 234.25 931.3 235.66C931.12 234.25 930.77 229.66 930.24 227.2C929.71 224.73 929.1 222.96 928.13 220.85C927.16 218.73 925.74 216.61 924.42 214.5C923.1 212.38 921.51 210.26 920.19 208.15C918.87 206.03 917.28 204.09 916.49 201.8C915.69 199.51 915.39 196.86 915.43 194.39C915.46 191.92 916.31 189.45 916.7 186.98C917.08 184.51 917.53 182.05 917.76 179.58C917.98 177.11 917.9 174.46 918.07 172.17C918.25 169.88 918.37 167.94 918.81 165.82C919.25 163.7 919.78 161.76 920.72 159.47C921.65 157.18 923.1 154.53 924.42 152.06C925.74 149.59 927.65 147.13 928.65 144.66C929.66 142.19 930.01 139.89 930.45 137.25C930.89 134.6 931.16 130.19 931.3 128.78Z" fill="#C74694" fill-opacity="0.8"/><path d="M994.8 143.07C994.91 144.22 995.12 147.57 995.43 149.95C995.75 152.33 996.07 154.89 996.7 157.35C997.34 159.82 998.29 162.29 999.24 164.76C1000.2 167.23 1001.43 169.7 1002.42 172.17C1003.41 174.64 1004.59 177.11 1005.17 179.58C1005.75 182.05 1005.7 184.51 1005.91 186.98C1006.12 189.45 1006.09 191.92 1006.44 194.39C1006.79 196.86 1007.23 199.51 1008.03 201.8C1008.82 204.09 1010.44 206.21 1011.2 208.15C1011.96 210.09 1012.49 211.68 1012.58 213.44C1012.67 215.2 1012.49 216.79 1011.73 218.73C1010.97 220.67 1009.44 222.96 1008.03 225.08C1006.62 227.2 1004.76 229.31 1003.27 231.43C1001.77 233.54 1000.2 235.66 999.03 237.78C997.87 239.89 996.99 241.48 996.28 244.13C995.58 246.77 995.05 252.06 994.8 253.65C994.55 252.06 994.02 246.77 993.32 244.13C992.61 241.48 991.73 239.89 990.57 237.78C989.4 235.66 987.83 233.54 986.33 231.43C984.84 229.31 982.98 227.2 981.57 225.08C980.16 222.96 978.63 220.67 977.87 218.73C977.11 216.79 976.93 215.2 977.02 213.44C977.11 211.68 977.64 210.09 978.4 208.15C979.16 206.21 980.78 204.09 981.57 201.8C982.37 199.51 982.81 196.86 983.16 194.39C983.51 191.92 983.48 189.45 983.69 186.98C983.9 184.51 983.85 182.05 984.43 179.58C985.01 177.11 986.19 174.64 987.18 172.17C988.17 169.7 989.4 167.23 990.36 164.76C991.31 162.29 992.26 159.82 992.9 157.35C993.53 154.89 993.85 152.33 994.17 149.95C994.48 147.57 994.69 144.22 994.8 143.07Z" fill="#8CB3D9" fill-opacity="0.8"/><path d="M1058.4 128.78C1058.51 130.02 1058.72 133.72 1059.03 136.19C1059.35 138.66 1059.62 141.13 1060.3 143.6C1060.99 146.07 1062.07 148.54 1063.16 151.01C1064.26 153.47 1065.75 155.94 1066.87 158.41C1067.98 160.88 1069.09 163.35 1069.83 165.82C1070.57 168.29 1071.01 170.76 1071.31 173.23C1071.61 175.7 1071.7 178.17 1071.63 180.63C1071.56 183.1 1071.12 185.57 1070.89 188.04C1070.66 190.51 1070.43 192.98 1070.25 195.45C1070.08 197.92 1070.04 200.39 1069.83 202.86C1069.62 205.33 1069.39 207.8 1068.98 210.26C1068.58 212.73 1068.06 215.2 1067.39 217.67C1066.72 220.14 1065.75 222.61 1064.96 225.08C1064.17 227.55 1063.34 230.02 1062.63 232.49C1061.93 234.96 1061.26 237.43 1060.73 239.89C1060.2 242.36 1059.85 244.3 1059.46 247.3C1059.07 250.3 1058.58 256.12 1058.4 257.88C1058.22 256.12 1057.73 250.3 1057.34 247.3C1056.95 244.3 1056.6 242.36 1056.07 239.89C1055.54 237.43 1054.87 234.96 1054.17 232.49C1053.46 230.02 1052.63 227.55 1051.84 225.08C1051.05 222.61 1050.08 220.14 1049.41 217.67C1048.74 215.2 1048.22 212.73 1047.82 210.26C1047.41 207.8 1047.18 205.33 1046.97 202.86C1046.76 200.39 1046.72 197.92 1046.55 195.45C1046.37 192.98 1046.14 190.51 1045.91 188.04C1045.68 185.57 1045.24 183.1 1045.17 180.63C1045.1 178.17 1045.19 175.7 1045.49 173.23C1045.79 170.76 1046.23 168.29 1046.97 165.82C1047.71 163.35 1048.82 160.88 1049.93 158.41C1051.05 155.94 1052.54 153.47 1053.64 151.01C1054.73 148.54 1055.81 146.07 1056.5 143.6C1057.18 141.13 1057.45 138.66 1057.77 136.19C1058.08 133.72 1058.29 130.02 1058.4 128.78Z" fill="#6E6FDB" fill-opacity="0.8"/><path d="M1121.7 144.66C1121.84 145.71 1122.16 148.89 1122.55 151.01C1122.93 153.12 1123.2 155.24 1124.03 157.35C1124.86 159.47 1126.14 161.59 1127.52 163.7C1128.9 165.82 1130.99 167.94 1132.28 170.05C1133.57 172.17 1134.57 174.29 1135.24 176.4C1135.92 178.52 1136.18 180.46 1136.3 182.75C1136.43 185.04 1135.86 187.69 1135.99 190.16C1136.11 192.63 1136.64 195.1 1137.04 197.57C1137.45 200.04 1138.42 202.68 1138.42 204.97C1138.42 207.27 1137.98 209.21 1137.04 211.32C1136.11 213.44 1134.31 215.56 1132.81 217.67C1131.31 219.79 1129.46 221.9 1128.05 224.02C1126.64 226.14 1125.26 228.25 1124.35 230.37C1123.43 232.49 1122.99 234.34 1122.55 236.72C1122.11 239.1 1121.84 243.33 1121.7 244.66C1121.56 243.33 1121.29 239.1 1120.85 236.72C1120.41 234.34 1119.97 232.49 1119.05 230.37C1118.14 228.25 1116.76 226.14 1115.35 224.02C1113.94 221.9 1112.09 219.79 1110.59 217.67C1109.09 215.56 1107.29 213.44 1106.36 211.32C1105.42 209.21 1104.98 207.27 1104.98 204.97C1104.98 202.68 1105.95 200.04 1106.36 197.57C1106.76 195.1 1107.29 192.63 1107.41 190.16C1107.54 187.69 1106.97 185.04 1107.1 182.75C1107.22 180.46 1107.48 178.52 1108.16 176.4C1108.83 174.29 1109.83 172.17 1111.12 170.05C1112.41 167.94 1114.5 165.82 1115.88 163.7C1117.26 161.59 1118.54 159.47 1119.37 157.35C1120.2 155.24 1120.47 153.12 1120.85 151.01C1121.24 148.89 1121.56 145.71 1121.7 144.66Z" fill="#D8A43C" fill-opacity="0.8"/><path d="M1185.3 196.51C1185.48 197.39 1185.56 200.04 1186.36 201.8C1187.15 203.56 1188.3 205.33 1190.06 207.09C1191.83 208.85 1194.82 210.62 1196.94 212.38C1199.06 214.14 1201.49 216.08 1202.76 217.67C1204.03 219.26 1204.56 220.49 1204.56 221.9C1204.56 223.32 1202.88 224.73 1202.76 226.14C1202.64 227.55 1202.94 228.96 1203.82 230.37C1204.7 231.78 1206.82 233.19 1208.05 234.6C1209.29 236.01 1211.31 237.43 1211.23 238.84C1211.14 240.25 1209.73 241.48 1207.52 243.07C1205.32 244.66 1200.91 246.6 1198 248.36C1195.09 250.12 1191.97 251.89 1190.06 253.65C1188.16 255.41 1187.36 256.91 1186.57 258.94C1185.78 260.97 1185.51 264.67 1185.3 265.82C1185.09 264.67 1184.82 260.97 1184.03 258.94C1183.24 256.91 1182.44 255.41 1180.54 253.65C1178.63 251.89 1175.51 250.12 1172.6 248.36C1169.69 246.6 1165.28 244.66 1163.08 243.07C1160.87 241.48 1159.46 240.25 1159.37 238.84C1159.29 237.43 1161.31 236.01 1162.55 234.6C1163.78 233.19 1165.9 231.78 1166.78 230.37C1167.66 228.96 1167.96 227.55 1167.84 226.14C1167.72 224.73 1166.04 223.32 1166.04 221.9C1166.04 220.49 1166.57 219.26 1167.84 217.67C1169.11 216.08 1171.54 214.14 1173.66 212.38C1175.78 210.62 1178.77 208.85 1180.54 207.09C1182.3 205.33 1183.45 203.56 1184.24 201.8C1185.04 200.04 1185.12 197.39 1185.3 196.51Z" fill="#95DCCC" fill-opacity="0.8"/><path d="M1058.4 76.4L1058.4 73.8L1121.7 73.8L1121.7 76.4" fill="none" stroke="#9A9A9A" stroke-width="1.2"/><path d="M994.8 85.1L994.8 82.5L1121.7 82.5L1121.7 85.1" fill="none" stroke="#9A9A9A" stroke-width="1.2"/><path d="M994.8 94.3L994.8 91.7L1058.4 91.7L1058.4 94.3" fill="none" stroke="#9A9A9A" stroke-width="1.2"/><path d="M931.3 104.4L931.3 101.8L1121.7 101.8L1121.7 104.4" fill="none" stroke="#9A9A9A" stroke-width="1.2"/><path d="M931.3 114.2L931.3 111.6L1058.4 111.6L1058.4 114.2" fill="none" stroke="#9A9A9A" stroke-width="1.2"/><path d="M931.3 123.8L931.3 121.2L994.8 121.2L994.8 123.8" fill="none" stroke="#9A9A9A" stroke-width="1.2"/><path d="M1121.7 132.4L1121.7 129.8L1185.3 129.8L1185.3 132.4" fill="none" stroke="#9A9A9A" stroke-width="1.2"/><text x="1153.9" y="126" font-size="4.5" fill="#444" text-anchor="middle" stroke="#444" stroke-width="0.13">**</text><path d="M1058.4 142.2L1058.4 139.6L1185.3 139.6L1185.3 142.2" fill="none" stroke="#9A9A9A" stroke-width="1.2"/><text x="1121.6" y="135.5" font-size="4.5" fill="#444" text-anchor="middle" stroke="#444" stroke-width="0.13">ns</text><path d="M994.8 152.5L994.8 149.9L1185.3 149.9L1185.3 152.5" fill="none" stroke="#9A9A9A" stroke-width="1.2"/><text x="1090.3" y="145.6" font-size="4.5" fill="#444" text-anchor="middle" stroke="#444" stroke-width="0.13">**</text><path d="M931.3 162.1L931.3 159.5L1185.3 159.5L1185.3 162.1" fill="none" stroke="#9A9A9A" stroke-width="1.2"/><line x1="931.38" y1="160.53" x2="931.38" y2="172.17" stroke="#333" stroke-width="0.9"/><line x1="931.38" y1="200.74" x2="931.38" y2="200.74" stroke="#333" stroke-width="0.9"/><rect x="924.92" y="172.17" width="12.91" height="28.57" fill="#fff" stroke="#333" stroke-width="0.9" fill-opacity="0.72"/><line x1="924.92" y1="186.14" x2="937.83" y2="186.14" stroke="#333" stroke-width="1.6"/><line x1="994.87" y1="179.05" x2="994.87" y2="188.57" stroke="#333" stroke-width="0.9"/><line x1="994.87" y1="213.44" x2="994.87" y2="218.2" stroke="#333" stroke-width="0.9"/><rect x="988.41" y="188.57" width="12.91" height="24.87" fill="#fff" stroke="#333" stroke-width="0.9" fill-opacity="0.72"/><line x1="988.41" y1="212.91" x2="1001.32" y2="212.91" stroke="#333" stroke-width="1.6"/><line x1="1058.47" y1="170.58" x2="1058.47" y2="173.23" stroke="#333" stroke-width="0.9"/><line x1="1058.47" y1="206.35" x2="1058.47" y2="216.61" stroke="#333" stroke-width="0.9"/><rect x="1052.12" y="173.23" width="12.7" height="33.12" fill="#fff" stroke="#333" stroke-width="0.9" fill-opacity="0.72"/><line x1="1052.12" y1="188.57" x2="1064.81" y2="188.57" stroke="#333" stroke-width="1.6"/><line x1="1121.75" y1="176.93" x2="1121.75" y2="181.48" stroke="#333" stroke-width="0.9"/><line x1="1121.75" y1="209.21" x2="1121.75" y2="212.38" stroke="#333" stroke-width="0.9"/><rect x="1115.29" y="181.48" width="12.91" height="27.72" fill="#fff" stroke="#333" stroke-width="0.9" fill-opacity="0.72"/><line x1="1115.29" y1="197.25" x2="1128.2" y2="197.25" stroke="#333" stroke-width="1.6"/><line x1="1185.87" y1="219.79" x2="1185.87" y2="219.79" stroke="#333" stroke-width="0.9"/><line x1="1185.87" y1="239.89" x2="1185.87" y2="243.07" stroke="#333" stroke-width="0.9"/><rect x="1178.99" y="219.79" width="13.76" height="20.11" fill="#fff" stroke="#333" stroke-width="0.9" fill-opacity="0.72"/><line x1="1178.99" y1="236.93" x2="1192.75" y2="236.93" stroke="#333" stroke-width="1.6"/></g>
<g id="pd"><text x="1292" y="22.6" font-size="25.5" fill="#111" stroke="#111" stroke-width="0.71">D</text><text x="1489.8" y="30.8" font-size="11.6" fill="#333" text-anchor="middle" font-family="'DejaVu Sans', sans-serif" stroke="#333" stroke-width="0.32" textLength="164" lengthAdjust="spacingAndGlyphs">Principal Co-ordinates Analysis</text><rect x="1353.1" y="51.6" width="274.2" height="224" fill="#fff" stroke="#7A7A7A" stroke-width="1.2"/><clipPath id="pdclip"><rect x="1353.1" y="51.6" width="274.2" height="224"/></clipPath><line x1="1350.6" y1="57.7" x2="1353.1" y2="57.7" stroke="#777" stroke-width="0.8"/><text x="1349.1" y="59.9" font-size="6.3" fill="#333" text-anchor="end" stroke="#333" stroke-width="0.18">0.50</text><line x1="1350.6" y1="110.2" x2="1353.1" y2="110.2" stroke="#777" stroke-width="0.8"/><text x="1349.1" y="112.4" font-size="6.3" fill="#333" text-anchor="end" stroke="#333" stroke-width="0.18">0.25</text><line x1="1350.6" y1="162.6" x2="1353.1" y2="162.6" stroke="#777" stroke-width="0.8"/><text x="1349.1" y="164.8" font-size="6.3" fill="#333" text-anchor="end" stroke="#333" stroke-width="0.18">0.00</text><line x1="1350.6" y1="215.3" x2="1353.1" y2="215.3" stroke="#777" stroke-width="0.8"/><text x="1349.1" y="217.5" font-size="6.3" fill="#333" text-anchor="end" stroke="#333" stroke-width="0.18">-0.25</text><line x1="1350.6" y1="268.3" x2="1353.1" y2="268.3" stroke="#777" stroke-width="0.8"/><text x="1349.1" y="270.5" font-size="6.3" fill="#333" text-anchor="end" stroke="#333" stroke-width="0.18">-0.50</text><line x1="1432.9" y1="275.6" x2="1432.9" y2="278.1" stroke="#777" stroke-width="0.8"/><text x="1432.9" y="285.6" font-size="6.3" fill="#333" text-anchor="middle" stroke="#333" stroke-width="0.18">-0.5</text><line x1="1536.6" y1="275.6" x2="1536.6" y2="278.1" stroke="#777" stroke-width="0.8"/><text x="1536.6" y="285.6" font-size="6.3" fill="#333" text-anchor="middle" stroke="#333" stroke-width="0.18">0.0</text><text x="1489.8" y="293.5" font-size="8.2" fill="#333" text-anchor="middle" stroke="#333" stroke-width="0.23">PCoA1 (14.94%)</text><text x="1331" y="163" font-size="8.2" fill="#333" transform="rotate(-90 1331 163)" text-anchor="middle" stroke="#333" stroke-width="0.23">PCoA2 (8.22%)</text><g clip-path="url(#pdclip)"><ellipse cx="1489.76" cy="144.49" rx="148.12" ry="28.73" transform="rotate(-32.6 1489.76 144.49)" fill="#D8A43C" fill-opacity="0.13" stroke="#D8A43C" stroke-width="1.1" stroke-opacity="0.75"/><ellipse cx="1572.89" cy="165.69" rx="17.29" ry="100.14" transform="rotate(3 1572.89 165.69)" fill="#8CB3D9" fill-opacity="0.13" stroke="#8CB3D9" stroke-width="0.9" stroke-opacity="0.75"/><ellipse cx="1473.03" cy="174.34" rx="26.22" ry="37.94" transform="rotate(-14 1473.03 174.34)" fill="#95DCCC" fill-opacity="0.16" stroke="#95DCCC" stroke-width="0.9" stroke-opacity="0.75"/><ellipse cx="1570.93" cy="114.92" rx="6.69" ry="24.55" transform="rotate(3 1570.93 114.92)" fill="#6E6FDB" fill-opacity="0.16" stroke="#6E6FDB" stroke-width="0.9" stroke-opacity="0.75"/><ellipse cx="1576.23" cy="214.78" rx="11.72" ry="21.76" transform="rotate(-22 1576.23 214.78)" fill="#C74694" fill-opacity="0.16" stroke="#C74694" stroke-width="0.9" stroke-opacity="0.75"/></g><circle cx="1549.74" cy="108.79" r="2.9" fill="#D8A43C" fill-opacity="0.9"/><circle cx="1478.61" cy="145.05" r="2.9" fill="#D8A43C" fill-opacity="0.9"/><circle cx="1476.93" cy="147" r="2.9" fill="#D8A43C" fill-opacity="0.9"/><circle cx="1469.68" cy="159.55" r="2.9" fill="#D8A43C" fill-opacity="0.9"/><circle cx="1464.94" cy="162.34" r="2.9" fill="#95DCCC" fill-opacity="0.9"/><circle cx="1474.42" cy="167.92" r="2.9" fill="#95DCCC" fill-opacity="0.9"/><circle cx="1475.82" cy="173.5" r="2.9" fill="#95DCCC" fill-opacity="0.9"/><circle cx="1483.63" cy="181.31" r="2.9" fill="#95DCCC" fill-opacity="0.9"/><circle cx="1467.45" cy="186.89" r="2.9" fill="#95DCCC" fill-opacity="0.9"/><circle cx="1573.72" cy="133.89" r="2.9" fill="#8CB3D9" fill-opacity="0.9"/><circle cx="1577.91" cy="148.4" r="2.9" fill="#8CB3D9" fill-opacity="0.9"/><circle cx="1568.7" cy="161.79" r="2.9" fill="#8CB3D9" fill-opacity="0.9"/><circle cx="1567.31" cy="193.86" r="2.9" fill="#8CB3D9" fill-opacity="0.9"/><circle cx="1577.07" cy="192.47" r="2.9" fill="#8CB3D9" fill-opacity="0.9"/><circle cx="1572.89" cy="107.39" r="2.9" fill="#6E6FDB" fill-opacity="0.9"/><circle cx="1570.66" cy="110.74" r="2.9" fill="#6E6FDB" fill-opacity="0.9"/><circle cx="1569.54" cy="113.81" r="2.9" fill="#6E6FDB" fill-opacity="0.9"/><circle cx="1573.44" cy="119.39" r="2.9" fill="#6E6FDB" fill-opacity="0.9"/><circle cx="1570.1" cy="123.29" r="2.9" fill="#6E6FDB" fill-opacity="0.9"/><circle cx="1577.07" cy="206.42" r="2.9" fill="#C74694" fill-opacity="0.9"/><circle cx="1571.49" cy="211.44" r="2.9" fill="#C74694" fill-opacity="0.9"/><circle cx="1577.91" cy="212.55" r="2.9" fill="#C74694" fill-opacity="0.9"/><circle cx="1574.28" cy="219.8" r="2.9" fill="#C74694" fill-opacity="0.9"/><circle cx="1580.7" cy="220.36" r="2.9" fill="#C74694" fill-opacity="0.9"/><rect x="1633.4" y="148.9" width="7.4" height="7.4" fill="#C74694"/><text x="1643.8" y="155.4" font-size="8" fill="#333" stroke="#333" stroke-width="0.22">Ctrl2</text><rect x="1633.4" y="157.3" width="7.4" height="7.4" fill="#8CB3D9"/><text x="1643.8" y="163.8" font-size="8" fill="#333" stroke="#333" stroke-width="0.22">Gly</text><rect x="1633.4" y="165.6" width="7.4" height="7.4" fill="#6E6FDB"/><text x="1643.8" y="172.1" font-size="8" fill="#333" stroke="#333" stroke-width="0.22">Pla</text><rect x="1633.4" y="173.8" width="7.4" height="7.4" fill="#D8A43C"/><text x="1643.8" y="180.3" font-size="8" fill="#333" stroke="#333" stroke-width="0.22">Ctrl1</text><rect x="1633.4" y="182.3" width="7.4" height="7.4" fill="#95DCCC"/><text x="1643.8" y="188.8" font-size="8" fill="#333" stroke="#333" stroke-width="0.22">Sep</text></g>
<g id="pe"><text x="22.3" y="385.3" font-size="25.5" fill="#111" stroke="#111" stroke-width="0.71">E</text><text x="395.5" y="385.3" font-size="25.5" fill="#111" stroke="#111" stroke-width="0.71">F</text><path d="M241.95 467.53A123.1 123.1 0 0 1 251.75 473.6Q179.82 574.28 171.59 697.75A123.1 123.1 0 0 1 134.25 688.52Q181.64 574.88 241.95 467.53Z" fill="#C74694" fill-opacity="0.42"/><path d="M251.75 473.6A123.1 123.1 0 0 1 259.47 479.35Q182.1 575.1 104.73 670.85A123.1 123.1 0 0 1 82.58 647.56Q183.25 576.21 251.75 473.6Z" fill="#C74694" fill-opacity="0.42"/><path d="M227.9 460.84A123.1 123.1 0 0 1 241.95 467.53Q184.36 577.9 64.39 611.13A123.1 123.1 0 0 1 59.99 559.55Q185.24 580.44 227.9 460.84Z" fill="#C74694" fill-opacity="0.42"/><path d="M211.07 455.46A123.1 123.1 0 0 1 227.9 460.84Q185.12 581.41 64.39 539.07A123.1 123.1 0 0 1 94.39 488.72Q184.82 584.65 211.07 455.46Z" fill="#C74694" fill-opacity="0.42"/><path d="M192.61 452.45A123.1 123.1 0 0 1 211.07 455.46Q184.39 585.3 104.73 479.35A123.1 123.1 0 0 1 161.21 453.78Q182.68 588.66 192.61 452.45Z" fill="#C74694" fill-opacity="0.42"/><path d="M283.17 504.82A123.1 123.1 0 0 1 293.85 523.48Q179.6 572.68 134.25 688.52A123.1 123.1 0 0 1 116.13 679.03Q180.75 573.81 283.17 504.82Z" fill="#8CB3D9" fill-opacity="0.42"/><path d="M259.47 479.35A123.1 123.1 0 0 1 283.17 504.82Q182.04 575.02 82.58 647.56A123.1 123.1 0 0 1 66.88 618.44Q183.56 577.13 259.47 479.35Z" fill="#8CB3D9" fill-opacity="0.42"/><path d="M299.06 536.71A123.1 123.1 0 0 1 299.8 539.05Q182.27 577.09 59.99 559.55A123.1 123.1 0 0 1 60.3 557.23Q182.29 577.27 299.06 536.71Z" fill="#8CB3D9" fill-opacity="0.42"/><path d="M293.85 523.48A123.1 123.1 0 0 1 299.06 536.71Q180.92 580.11 94.39 488.72A123.1 123.1 0 0 1 104.38 479.63Q180.7 581.15 293.85 523.48Z" fill="#8CB3D9" fill-opacity="0.42"/><path d="M304.83 565.57A123.1 123.1 0 0 1 304.8 585.06Q179.82 570.53 116.13 679.03A123.1 123.1 0 0 1 105.3 671.31Q180.3 571.69 304.83 565.57Z" fill="#6E6FDB" fill-opacity="0.42"/><path d="M302.63 600.12A123.1 123.1 0 0 1 299.9 610.82Q182 572.03 66.88 618.44A123.1 123.1 0 0 1 64.45 611.32Q181.99 572.74 302.63 600.12Z" fill="#6E6FDB" fill-opacity="0.42"/><path d="M299.81 539.07A123.1 123.1 0 0 1 304.83 565.57Q182.06 576.15 60.3 557.23A123.1 123.1 0 0 1 64.33 539.26Q182.1 577.89 299.81 539.07Z" fill="#6E6FDB" fill-opacity="0.42"/><path d="M299.9 610.82A123.1 123.1 0 0 1 299.81 611.13Q180.55 577.4 104.38 479.63A123.1 123.1 0 0 1 104.55 479.5Q180.54 577.42 299.9 610.82Z" fill="#6E6FDB" fill-opacity="0.42"/><path d="M304.8 585.06A123.1 123.1 0 0 1 302.63 600.12Q178.06 579.01 161.23 453.78A123.1 123.1 0 0 1 171.53 452.46Q177.44 579.78 304.8 585.06Z" fill="#6E6FDB" fill-opacity="0.42"/><path d="M299.81 611.13A123.1 123.1 0 0 1 289.51 635.24Q180.83 568.6 105.3 671.31A123.1 123.1 0 0 1 105.02 671.08Q180.45 569.75 299.81 611.13Z" fill="#D8A43C" fill-opacity="0.42"/><path d="M272.14 659.04A123.1 123.1 0 0 1 262.29 668.49Q183.61 569.86 64.45 611.32A123.1 123.1 0 0 1 64.39 611.14Q183.21 570.3 272.14 659.04Z" fill="#D8A43C" fill-opacity="0.42"/><path d="M280.95 648.47A123.1 123.1 0 0 1 272.14 659.04Q183.17 573.25 64.33 539.26A123.1 123.1 0 0 1 64.39 539.08Q182.82 573.67 280.95 648.47Z" fill="#D8A43C" fill-opacity="0.42"/><path d="M289.51 635.24A123.1 123.1 0 0 1 280.95 648.47Q181.28 575.95 104.55 479.5A123.1 123.1 0 0 1 104.72 479.36Q180.95 576.47 289.51 635.24Z" fill="#D8A43C" fill-opacity="0.42"/><path d="M262.29 668.49A123.1 123.1 0 0 1 259.47 670.85Q179.51 576.14 171.53 452.46A123.1 123.1 0 0 1 171.58 452.45Q179.4 576.24 262.29 668.49Z" fill="#D8A43C" fill-opacity="0.42"/><path d="M259.47 670.85A123.1 123.1 0 0 1 199.15 697.01Q185.01 564.56 105.02 671.08A123.1 123.1 0 0 1 104.73 670.85Q182.1 566.72 259.47 670.85Z" fill="#95DCCC" fill-opacity="0.42"/><path d="M199.15 697.01A123.1 123.1 0 0 1 197.5 697.23Q186.55 568.22 64.39 611.14A123.1 123.1 0 0 1 64.39 611.13Q186.47 568.24 199.15 697.01Z" fill="#95DCCC" fill-opacity="0.42"/><path d="M197.5 697.23A123.1 123.1 0 0 1 195.86 697.43Q186.3 571.61 64.39 539.08A123.1 123.1 0 0 1 64.39 539.07Q186.23 571.62 197.5 697.23Z" fill="#95DCCC" fill-opacity="0.42"/><path d="M195.86 697.43A123.1 123.1 0 0 1 194.23 697.6Q184.63 574.06 104.72 479.36A123.1 123.1 0 0 1 104.73 479.35Q184.56 574.07 195.86 697.43Z" fill="#95DCCC" fill-opacity="0.42"/><path d="M194.23 697.6A123.1 123.1 0 0 1 192.61 697.75Q182.1 575.1 171.58 452.45A123.1 123.1 0 0 1 171.59 452.45Q182.04 575.11 194.23 697.6Z" fill="#95DCCC" fill-opacity="0.42"/><path d="M169.52 721.86A147.3 147.3 0 0 1 89.52 689.67L95.55 682.2A137.7 137.7 0 0 0 170.34 712.3Z" fill="#C74694"/><path d="M170.51 710.3A135.7 135.7 0 0 1 129.35 700.13L133.12 691.19A126 126 0 0 0 171.34 700.64Z" fill="#C74694" fill-opacity="0.42"/><path d="M129.35 700.13A135.7 135.7 0 0 1 109.38 689.67L114.58 681.48A126 126 0 0 0 133.12 691.19Z" fill="#8CB3D9" fill-opacity="0.42"/><path d="M109.38 689.67A135.7 135.7 0 0 1 97.44 681.15L103.49 673.57A126 126 0 0 0 114.58 681.48Z" fill="#6E6FDB" fill-opacity="0.42"/><path d="M97.44 681.15A135.7 135.7 0 0 1 97.13 680.9L103.2 673.34A126 126 0 0 0 103.49 673.57Z" fill="#D8A43C" fill-opacity="0.42"/><path d="M97.13 680.9A135.7 135.7 0 0 1 96.81 680.65L102.91 673.1A126 126 0 0 0 103.2 673.34Z" fill="#95DCCC" fill-opacity="0.42"/><path d="M89.52 689.67A147.3 147.3 0 0 1 41.25 618.22L50.43 615.41A137.7 137.7 0 0 0 95.55 682.2Z" fill="#8CB3D9"/><path d="M96.81 680.65A135.7 135.7 0 0 1 72.4 654.98L80.24 649.27A126 126 0 0 0 102.91 673.1Z" fill="#C74694" fill-opacity="0.42"/><path d="M72.4 654.98A135.7 135.7 0 0 1 55.09 622.88L64.17 619.47A126 126 0 0 0 80.24 649.27Z" fill="#8CB3D9" fill-opacity="0.42"/><path d="M55.09 622.88A135.7 135.7 0 0 1 52.41 615.03L61.68 612.18A126 126 0 0 0 64.17 619.47Z" fill="#6E6FDB" fill-opacity="0.42"/><path d="M52.41 615.03A135.7 135.7 0 0 1 52.35 614.83L61.62 611.99A126 126 0 0 0 61.68 612.18Z" fill="#D8A43C" fill-opacity="0.42"/><path d="M41.25 618.22A147.3 147.3 0 0 1 41.25 531.98L50.43 534.79A137.7 137.7 0 0 0 50.43 615.41Z" fill="#6E6FDB"/><path d="M52.34 614.82A135.7 135.7 0 0 1 47.49 557.96L57.11 559.18A126 126 0 0 0 61.62 611.98Z" fill="#C74694" fill-opacity="0.42"/><path d="M47.49 557.96A135.7 135.7 0 0 1 47.84 555.4L57.43 556.81A126 126 0 0 0 57.11 559.18Z" fill="#8CB3D9" fill-opacity="0.42"/><path d="M47.84 555.4A135.7 135.7 0 0 1 52.28 535.59L61.56 538.42A126 126 0 0 0 57.43 556.81Z" fill="#6E6FDB" fill-opacity="0.42"/><path d="M52.28 535.59A135.7 135.7 0 0 1 52.34 535.39L61.62 538.23A126 126 0 0 0 61.56 538.42Z" fill="#D8A43C" fill-opacity="0.42"/><path d="M41.25 531.98A147.3 147.3 0 0 1 89.52 460.53L95.55 468A137.7 137.7 0 0 0 50.43 534.79Z" fill="#D8A43C"/><path d="M52.34 535.38A135.7 135.7 0 0 1 85.41 479.88L92.33 486.69A126 126 0 0 0 61.62 538.22Z" fill="#C74694" fill-opacity="0.42"/><path d="M85.41 479.88A135.7 135.7 0 0 1 96.43 469.86L102.55 477.39A126 126 0 0 0 92.33 486.69Z" fill="#8CB3D9" fill-opacity="0.42"/><path d="M96.43 469.86A135.7 135.7 0 0 1 96.62 469.71L102.73 477.24A126 126 0 0 0 102.55 477.39Z" fill="#6E6FDB" fill-opacity="0.42"/><path d="M96.62 469.71A135.7 135.7 0 0 1 96.8 469.56L102.9 477.1A126 126 0 0 0 102.73 477.24Z" fill="#D8A43C" fill-opacity="0.42"/><path d="M89.52 460.53A147.3 147.3 0 0 1 169.52 428.34L170.34 437.9A137.7 137.7 0 0 0 95.55 468Z" fill="#95DCCC"/><path d="M96.81 469.55A135.7 135.7 0 0 1 159.08 441.37L160.72 450.93A126 126 0 0 0 102.91 477.1Z" fill="#C74694" fill-opacity="0.42"/><path d="M159.09 441.36A135.7 135.7 0 0 1 170.44 439.9L171.28 449.57A126 126 0 0 0 160.74 450.92Z" fill="#6E6FDB" fill-opacity="0.42"/><path d="M170.44 439.9A135.7 135.7 0 0 1 170.5 439.9L171.33 449.56A126 126 0 0 0 171.28 449.57Z" fill="#D8A43C" fill-opacity="0.42"/><path d="M194.68 428.34A147.3 147.3 0 0 1 274.68 460.53L268.65 468A137.7 137.7 0 0 0 193.86 437.9Z" fill="#C74694" fill-opacity="0.42"/><path d="M248.08 456.52A135.7 135.7 0 0 1 258.88 463.21L253.39 471.21A126 126 0 0 0 243.36 464.99Z" fill="#C74694"/><path d="M258.88 463.21A135.7 135.7 0 0 1 267.39 469.55L261.29 477.1A126 126 0 0 0 253.39 471.21Z" fill="#8CB3D9"/><path d="M232.59 449.14A135.7 135.7 0 0 1 248.08 456.52L243.36 464.99A126 126 0 0 0 228.98 458.15Z" fill="#6E6FDB"/><path d="M214.03 443.21A135.7 135.7 0 0 1 232.59 449.14L228.98 458.15A126 126 0 0 0 211.75 452.64Z" fill="#D8A43C"/><path d="M193.69 439.9A135.7 135.7 0 0 1 214.03 443.21L211.75 452.64A126 126 0 0 0 192.86 449.56Z" fill="#95DCCC"/><path d="M274.68 460.53A147.3 147.3 0 0 1 322.95 531.98L313.77 534.79A137.7 137.7 0 0 0 268.65 468Z" fill="#8CB3D9" fill-opacity="0.42"/><path d="M293.51 497.63A135.7 135.7 0 0 1 305.29 518.2L296.49 522.26A126 126 0 0 0 285.55 503.17Z" fill="#C74694"/><path d="M267.39 469.55A135.7 135.7 0 0 1 293.51 497.63L285.55 503.17A126 126 0 0 0 261.29 477.1Z" fill="#8CB3D9"/><path d="M311.03 532.78A135.7 135.7 0 0 1 311.85 535.36L302.58 538.2A126 126 0 0 0 301.82 535.8Z" fill="#6E6FDB"/><path d="M305.29 518.2A135.7 135.7 0 0 1 311.03 532.78L301.82 535.8A126 126 0 0 0 296.49 522.26Z" fill="#D8A43C"/><path d="M322.95 531.98A147.3 147.3 0 0 1 322.95 618.22L313.77 615.41A137.7 137.7 0 0 0 313.77 534.79Z" fill="#6E6FDB" fill-opacity="0.42"/><path d="M317.39 564.59A135.7 135.7 0 0 1 317.35 586.08L307.69 585.3A126 126 0 0 0 307.72 565.34Z" fill="#C74694"/><path d="M314.97 602.69A135.7 135.7 0 0 1 311.96 614.48L302.68 611.67A126 126 0 0 0 305.47 600.71Z" fill="#8CB3D9"/><path d="M311.86 535.38A135.7 135.7 0 0 1 317.39 564.59L307.72 565.34A126 126 0 0 0 302.58 538.22Z" fill="#6E6FDB"/><path d="M311.96 614.48A135.7 135.7 0 0 1 311.86 614.82L302.58 611.98A126 126 0 0 0 302.68 611.67Z" fill="#D8A43C"/><path d="M317.35 586.08A135.7 135.7 0 0 1 314.97 602.69L305.47 600.71A126 126 0 0 0 307.69 585.3Z" fill="#95DCCC"/><path d="M322.95 618.22A147.3 147.3 0 0 1 274.68 689.67L268.65 682.2A137.7 137.7 0 0 0 313.77 615.41Z" fill="#D8A43C" fill-opacity="0.42"/><path d="M311.86 614.82A135.7 135.7 0 0 1 300.5 641.4L292.04 636.66A126 126 0 0 0 302.58 611.98Z" fill="#C74694"/><path d="M281.36 667.63A135.7 135.7 0 0 1 270.5 678.05L264.18 670.69A126 126 0 0 0 274.27 661.02Z" fill="#8CB3D9"/><path d="M291.07 655.98A135.7 135.7 0 0 1 281.36 667.63L274.27 661.02A126 126 0 0 0 283.28 650.19Z" fill="#6E6FDB"/><path d="M300.5 641.4A135.7 135.7 0 0 1 291.07 655.98L283.28 650.19A126 126 0 0 0 292.04 636.66Z" fill="#D8A43C"/><path d="M270.5 678.05A135.7 135.7 0 0 1 267.39 680.65L261.29 673.1A126 126 0 0 0 264.18 670.69Z" fill="#95DCCC"/><path d="M274.68 689.67A147.3 147.3 0 0 1 194.68 721.86L193.86 712.3A137.7 137.7 0 0 0 268.65 682.2Z" fill="#95DCCC" fill-opacity="0.42"/><path d="M267.39 680.65A135.7 135.7 0 0 1 200.89 709.49L199.55 699.89A126 126 0 0 0 261.29 673.1Z" fill="#C74694"/><path d="M200.89 709.49A135.7 135.7 0 0 1 199.08 709.73L197.86 700.11A126 126 0 0 0 199.55 699.89Z" fill="#8CB3D9"/><path d="M199.08 709.73A135.7 135.7 0 0 1 197.27 709.95L196.18 700.31A126 126 0 0 0 197.86 700.11Z" fill="#6E6FDB"/><path d="M197.27 709.95A135.7 135.7 0 0 1 195.47 710.14L194.52 700.49A126 126 0 0 0 196.18 700.31Z" fill="#D8A43C"/><path d="M195.47 710.14A135.7 135.7 0 0 1 193.69 710.3L192.86 700.64A126 126 0 0 0 194.52 700.49Z" fill="#95DCCC"/><path d="M194.71 428.04A147.6 147.6 0 0 1 274.87 460.3" fill="none" stroke="#222" stroke-width="0.8" stroke-dasharray="1.3 0.6"/><line x1="196.25" y1="428.18" x2="196.43" y2="426.29" stroke="#333" stroke-width="0.5"/><text x="196.52" y="426.69" font-size="4.3" fill="#333" transform="rotate(-84.5 196.52 426.69)" stroke="#333" stroke-width="0.12">0%</text><line x1="222.07" y1="433.02" x2="222.58" y2="431.19" stroke="#333" stroke-width="0.5"/><text x="222.86" y="431.62" font-size="4.3" fill="#333" transform="rotate(-74.29 222.86 431.62)" stroke="#333" stroke-width="0.12">30%</text><line x1="246.63" y1="442.35" x2="247.46" y2="440.64" stroke="#333" stroke-width="0.5"/><text x="247.9" y="441.14" font-size="4.3" fill="#333" transform="rotate(-64.08 247.9 441.14)" stroke="#333" stroke-width="0.12">60%</text><line x1="269.14" y1="455.9" x2="270.26" y2="454.36" stroke="#333" stroke-width="0.5"/><text x="270.85" y="454.95" font-size="4.3" fill="#333" transform="rotate(-53.86 270.85 454.95)" stroke="#333" stroke-width="0.12">90%</text><path d="M274.87 460.3A147.6 147.6 0 0 1 323.24 531.9" fill="none" stroke="#222" stroke-width="0.8" stroke-dasharray="1.3 0.6"/><line x1="276.06" y1="461.27" x2="277.27" y2="459.81" stroke="#333" stroke-width="0.5"/><text x="277.91" y="460.44" font-size="4.3" fill="#333" transform="rotate(-50.46 277.91 460.44)" stroke="#333" stroke-width="0.12">0%</text><line x1="294.76" y1="479.74" x2="296.21" y2="478.51" stroke="#333" stroke-width="0.5"/><text x="296.97" y="479.26" font-size="4.3" fill="#333" transform="rotate(-40.25 296.97 479.26)" stroke="#333" stroke-width="0.12">30%</text><line x1="309.88" y1="501.22" x2="311.52" y2="500.27" stroke="#333" stroke-width="0.5"/><text x="312.39" y="501.17" font-size="4.3" fill="#333" transform="rotate(-30.04 312.39 501.17)" stroke="#333" stroke-width="0.12">60%</text><line x1="320.95" y1="525.04" x2="322.74" y2="524.4" stroke="#333" stroke-width="0.5"/><text x="323.68" y="525.46" font-size="4.3" fill="#333" transform="rotate(-19.82 323.68 525.46)" stroke="#333" stroke-width="0.12">90%</text><path d="M323.24 531.9A147.6 147.6 0 0 1 323.24 618.3" fill="none" stroke="#222" stroke-width="0.8" stroke-dasharray="1.3 0.6"/><line x1="323.68" y1="533.38" x2="325.5" y2="532.84" stroke="#333" stroke-width="0.5"/><text x="326.46" y="533.96" font-size="4.3" fill="#333" transform="rotate(-16.42 326.46 533.96)" stroke="#333" stroke-width="0.12">0%</text><line x1="328.83" y1="559.14" x2="330.72" y2="558.93" stroke="#333" stroke-width="0.5"/><text x="331.72" y="560.23" font-size="4.3" fill="#333" transform="rotate(-6.21 331.72 560.23)" stroke="#333" stroke-width="0.12">30%</text><line x1="329.34" y1="585.41" x2="331.24" y2="585.54" stroke="#333" stroke-width="0.5"/><text x="332.23" y="587.01" font-size="4.3" fill="#333" transform="rotate(4 332.23 587.01)" stroke="#333" stroke-width="0.12">60%</text><line x1="325.18" y1="611.35" x2="327.02" y2="611.81" stroke="#333" stroke-width="0.5"/><text x="327.99" y="613.46" font-size="4.3" fill="#333" transform="rotate(14.22 327.99 613.46)" stroke="#333" stroke-width="0.12">90%</text><path d="M323.24 618.3A147.6 147.6 0 0 1 274.87 689.9" fill="none" stroke="#222" stroke-width="0.8" stroke-dasharray="1.3 0.6"/><line x1="322.78" y1="619.78" x2="324.59" y2="620.35" stroke="#333" stroke-width="0.5"/><text x="325.54" y="622.06" font-size="4.3" fill="#333" transform="rotate(17.62 325.54 622.06)" stroke="#333" stroke-width="0.12">0%</text><line x1="312.63" y1="644.01" x2="314.31" y2="644.9" stroke="#333" stroke-width="0.5"/><text x="315.19" y="646.77" font-size="4.3" fill="#333" transform="rotate(27.83 315.19 646.77)" stroke="#333" stroke-width="0.12">30%</text><line x1="298.34" y1="666.06" x2="299.84" y2="667.23" stroke="#333" stroke-width="0.5"/><text x="300.62" y="669.25" font-size="4.3" fill="#333" transform="rotate(38.04 300.62 669.25)" stroke="#333" stroke-width="0.12">60%</text><line x1="280.37" y1="685.23" x2="281.64" y2="686.65" stroke="#333" stroke-width="0.5"/><text x="282.3" y="688.79" font-size="4.3" fill="#333" transform="rotate(48.26 282.3 688.79)" stroke="#333" stroke-width="0.12">90%</text><path d="M274.87 689.9A147.6 147.6 0 0 1 194.71 722.16" fill="none" stroke="#222" stroke-width="0.8" stroke-dasharray="1.3 0.6"/><line x1="273.66" y1="690.87" x2="274.84" y2="692.36" stroke="#333" stroke-width="0.5"/><text x="275.46" y="694.54" font-size="4.3" fill="#333" transform="rotate(51.66 275.46 694.54)" stroke="#333" stroke-width="0.12">0%</text><line x1="251.68" y1="705.27" x2="252.58" y2="706.94" stroke="#333" stroke-width="0.5"/><text x="253.05" y="709.23" font-size="4.3" fill="#333" transform="rotate(61.87 253.05 709.23)" stroke="#333" stroke-width="0.12">30%</text><line x1="227.51" y1="715.54" x2="228.09" y2="717.35" stroke="#333" stroke-width="0.5"/><text x="228.4" y="719.7" font-size="4.3" fill="#333" transform="rotate(72.08 228.4 719.7)" stroke="#333" stroke-width="0.12">60%</text><line x1="201.89" y1="721.37" x2="202.14" y2="723.25" stroke="#333" stroke-width="0.5"/><text x="202.28" y="725.64" font-size="4.3" fill="#333" transform="rotate(82.3 202.28 725.64)" stroke="#333" stroke-width="0.12">90%</text><path d="M169.49 722.16A147.6 147.6 0 0 1 89.33 689.9" fill="none" stroke="#222" stroke-width="0.8" stroke-dasharray="1.3 0.6"/><line x1="167.95" y1="722.02" x2="167.77" y2="723.91" stroke="#333" stroke-width="0.5"/><text x="167.68" y="726.31" font-size="4.3" fill="#333" transform="rotate(275.5 167.68 726.31)" text-anchor="end" stroke="#333" stroke-width="0.12">0%</text><line x1="142.13" y1="717.18" x2="141.62" y2="719.01" stroke="#333" stroke-width="0.5"/><text x="141.34" y="721.38" font-size="4.3" fill="#333" transform="rotate(285.71 141.34 721.38)" text-anchor="end" stroke="#333" stroke-width="0.12">30%</text><line x1="117.57" y1="707.85" x2="116.74" y2="709.56" stroke="#333" stroke-width="0.5"/><text x="116.3" y="711.86" font-size="4.3" fill="#333" transform="rotate(295.92 116.3 711.86)" text-anchor="end" stroke="#333" stroke-width="0.12">60%</text><line x1="95.06" y1="694.3" x2="93.94" y2="695.84" stroke="#333" stroke-width="0.5"/><text x="93.35" y="698.05" font-size="4.3" fill="#333" transform="rotate(306.14 93.35 698.05)" text-anchor="end" stroke="#333" stroke-width="0.12">90%</text><path d="M89.33 689.9A147.6 147.6 0 0 1 40.96 618.3" fill="none" stroke="#222" stroke-width="0.8" stroke-dasharray="1.3 0.6"/><line x1="88.14" y1="688.93" x2="86.93" y2="690.39" stroke="#333" stroke-width="0.5"/><text x="86.29" y="692.56" font-size="4.3" fill="#333" transform="rotate(309.54 86.29 692.56)" text-anchor="end" stroke="#333" stroke-width="0.12">0%</text><line x1="69.44" y1="670.46" x2="67.99" y2="671.69" stroke="#333" stroke-width="0.5"/><text x="67.23" y="673.74" font-size="4.3" fill="#333" transform="rotate(319.75 67.23 673.74)" text-anchor="end" stroke="#333" stroke-width="0.12">30%</text><line x1="54.32" y1="648.98" x2="52.68" y2="649.93" stroke="#333" stroke-width="0.5"/><text x="51.81" y="651.83" font-size="4.3" fill="#333" transform="rotate(329.96 51.81 651.83)" text-anchor="end" stroke="#333" stroke-width="0.12">60%</text><line x1="43.25" y1="625.16" x2="41.46" y2="625.8" stroke="#333" stroke-width="0.5"/><text x="40.52" y="627.54" font-size="4.3" fill="#333" transform="rotate(340.18 40.52 627.54)" text-anchor="end" stroke="#333" stroke-width="0.12">90%</text><path d="M40.96 618.3A147.6 147.6 0 0 1 40.96 531.9" fill="none" stroke="#222" stroke-width="0.8" stroke-dasharray="1.3 0.6"/><line x1="40.52" y1="616.82" x2="38.7" y2="617.36" stroke="#333" stroke-width="0.5"/><text x="37.74" y="619.04" font-size="4.3" fill="#333" transform="rotate(343.58 37.74 619.04)" text-anchor="end" stroke="#333" stroke-width="0.12">0%</text><line x1="35.37" y1="591.06" x2="33.48" y2="591.27" stroke="#333" stroke-width="0.5"/><text x="32.48" y="592.77" font-size="4.3" fill="#333" transform="rotate(353.79 32.48 592.77)" text-anchor="end" stroke="#333" stroke-width="0.12">30%</text><line x1="34.86" y1="564.79" x2="32.96" y2="564.66" stroke="#333" stroke-width="0.5"/><text x="31.97" y="565.99" font-size="4.3" fill="#333" transform="rotate(364 31.97 565.99)" text-anchor="end" stroke="#333" stroke-width="0.12">60%</text><line x1="39.02" y1="538.85" x2="37.18" y2="538.39" stroke="#333" stroke-width="0.5"/><text x="36.21" y="539.54" font-size="4.3" fill="#333" transform="rotate(374.22 36.21 539.54)" text-anchor="end" stroke="#333" stroke-width="0.12">90%</text><path d="M40.96 531.9A147.6 147.6 0 0 1 89.33 460.3" fill="none" stroke="#222" stroke-width="0.8" stroke-dasharray="1.3 0.6"/><line x1="41.42" y1="530.42" x2="39.61" y2="529.85" stroke="#333" stroke-width="0.5"/><text x="38.66" y="530.94" font-size="4.3" fill="#333" transform="rotate(377.62 38.66 530.94)" text-anchor="end" stroke="#333" stroke-width="0.12">0%</text><line x1="51.57" y1="506.19" x2="49.89" y2="505.3" stroke="#333" stroke-width="0.5"/><text x="49.01" y="506.23" font-size="4.3" fill="#333" transform="rotate(387.83 49.01 506.23)" text-anchor="end" stroke="#333" stroke-width="0.12">30%</text><line x1="65.86" y1="484.14" x2="64.36" y2="482.97" stroke="#333" stroke-width="0.5"/><text x="63.58" y="483.75" font-size="4.3" fill="#333" transform="rotate(398.04 63.58 483.75)" text-anchor="end" stroke="#333" stroke-width="0.12">60%</text><line x1="83.83" y1="464.97" x2="82.56" y2="463.55" stroke="#333" stroke-width="0.5"/><text x="81.9" y="464.21" font-size="4.3" fill="#333" transform="rotate(408.26 81.9 464.21)" text-anchor="end" stroke="#333" stroke-width="0.12">90%</text><path d="M89.33 460.3A147.6 147.6 0 0 1 169.49 428.04" fill="none" stroke="#222" stroke-width="0.8" stroke-dasharray="1.3 0.6"/><line x1="90.54" y1="459.33" x2="89.36" y2="457.84" stroke="#333" stroke-width="0.5"/><text x="88.74" y="458.46" font-size="4.3" fill="#333" transform="rotate(411.66 88.74 458.46)" text-anchor="end" stroke="#333" stroke-width="0.12">0%</text><line x1="112.52" y1="444.93" x2="111.62" y2="443.26" stroke="#333" stroke-width="0.5"/><text x="111.15" y="443.77" font-size="4.3" fill="#333" transform="rotate(421.87 111.15 443.77)" text-anchor="end" stroke="#333" stroke-width="0.12">30%</text><line x1="136.69" y1="434.66" x2="136.11" y2="432.85" stroke="#333" stroke-width="0.5"/><text x="135.8" y="433.3" font-size="4.3" fill="#333" transform="rotate(432.08 135.8 433.3)" text-anchor="end" stroke="#333" stroke-width="0.12">60%</text><line x1="162.31" y1="428.83" x2="162.06" y2="426.95" stroke="#333" stroke-width="0.5"/><text x="161.92" y="427.36" font-size="4.3" fill="#333" transform="rotate(442.3 161.92 427.36)" text-anchor="end" stroke="#333" stroke-width="0.12">90%</text><text x="111.3" y="419.2" font-size="9" fill="#333" transform="rotate(65 111.3 419.2)" text-anchor="middle" dominant-baseline="central" stroke="#333" stroke-width="0.25">Sep</text><text x="34.3" y="469.7" font-size="9" fill="#333" transform="rotate(35 34.3 469.7)" text-anchor="middle" dominant-baseline="central" stroke="#333" stroke-width="0.25">Ctrl1</text><text x="11.6" y="573.1" font-size="9" fill="#333" transform="rotate(0 11.6 573.1)" text-anchor="middle" dominant-baseline="central" stroke="#333" stroke-width="0.25">Pla</text><text x="38.1" y="669.5" font-size="9" fill="#333" transform="rotate(-34 38.1 669.5)" text-anchor="middle" dominant-baseline="central" stroke="#333" stroke-width="0.25">Gly</text><text x="113.1" y="738.6" font-size="9" fill="#333" transform="rotate(-68 113.1 738.6)" text-anchor="middle" dominant-baseline="central" stroke="#333" stroke-width="0.25">Ctrl2</text><text x="252.9" y="408.8" font-size="7.3" fill="#333" transform="rotate(-64 252.9 408.8)" text-anchor="middle" dominant-baseline="central" stroke="#333" stroke-width="0.2">Firmicutes</text><text x="336.9" y="474.8" font-size="7.3" fill="#333" transform="rotate(-34 336.9 474.8)" text-anchor="middle" dominant-baseline="central" stroke="#333" stroke-width="0.2">Bacteroidota</text><text x="370.2" y="579" font-size="7.3" fill="#333" transform="rotate(0 370.2 579)" text-anchor="middle" dominant-baseline="central" stroke="#333" stroke-width="0.2">Proteobacteria</text><text x="338.1" y="685.7" font-size="7.3" fill="#333" transform="rotate(35 338.1 685.7)" text-anchor="middle" dominant-baseline="central" stroke="#333" stroke-width="0.2">Actinobacteriota</text><text x="251.2" y="757.1" font-size="7.3" fill="#333" transform="rotate(66.5 251.2 757.1)" text-anchor="middle" dominant-baseline="central" stroke="#333" stroke-width="0.2">Campylobacterota</text><path d="M670.85 473.58A120.2 120.2 0 0 1 677.25 478.41Q599.17 570.88 591.43 691.66A120.2 120.2 0 0 1 563.55 685.88Q600.51 571.3 670.85 473.58Z" fill="#C74694" fill-opacity="0.42"/><path d="M662.84 468.41A120.2 120.2 0 0 1 670.85 473.58Q601.94 572.08 526.15 665.39A120.2 120.2 0 0 1 506.42 645.18Q603.01 573.06 662.84 468.41Z" fill="#C74694" fill-opacity="0.42"/><path d="M650.18 461.91A120.2 120.2 0 0 1 662.84 468.41Q603.8 574.57 486.76 607.08A120.2 120.2 0 0 1 482.05 560.39Q604.6 576.86 650.18 461.91Z" fill="#C74694" fill-opacity="0.42"/><path d="M633.14 455.88A120.2 120.2 0 0 1 650.18 461.91Q604.48 577.96 486.76 536.72A120.2 120.2 0 0 1 515.8 487.82Q604.21 581.12 633.14 455.88Z" fill="#C74694" fill-opacity="0.42"/><path d="M611.97 452.14A120.2 120.2 0 0 1 633.14 455.88Q603.78 581.77 526.15 478.41A120.2 120.2 0 0 1 580.99 453.5Q602.28 585.12 611.97 452.14Z" fill="#C74694" fill-opacity="0.42"/><path d="M710.44 520.67A120.2 120.2 0 0 1 715.94 534.52Q598.69 568.87 563.55 685.88A120.2 120.2 0 0 1 551.8 681.25Q599.41 569.63 710.44 520.67Z" fill="#8CB3D9" fill-opacity="0.42"/><path d="M677.25 478.41A120.2 120.2 0 0 1 701.39 504.75Q601.53 571.67 506.42 645.18A120.2 120.2 0 0 1 493.2 623.63Q602.97 573.51 677.25 478.41Z" fill="#8CB3D9" fill-opacity="0.42"/><path d="M715.94 534.52A120.2 120.2 0 0 1 716.63 536.7Q601.88 573.7 482.05 560.39A120.2 120.2 0 0 1 482.24 558.6Q601.9 573.85 715.94 534.52Z" fill="#8CB3D9" fill-opacity="0.42"/><path d="M701.39 504.75A120.2 120.2 0 0 1 710.44 520.67Q600.77 577.4 515.8 487.82A120.2 120.2 0 0 1 526.03 478.51Q600.69 578.63 701.39 504.75Z" fill="#8CB3D9" fill-opacity="0.42"/><path d="M716.64 536.72A120.2 120.2 0 0 1 721.87 569.2Q598.87 567.61 551.8 681.25A120.2 120.2 0 0 1 537.07 673.24Q599.74 569.32 716.64 536.72Z" fill="#6E6FDB" fill-opacity="0.42"/><path d="M719.65 595.04A120.2 120.2 0 0 1 718.33 600.96Q601.38 568.75 493.2 623.63A120.2 120.2 0 0 1 492.12 621.3Q601.38 569.08 719.65 595.04Z" fill="#6E6FDB" fill-opacity="0.42"/><path d="M718.33 600.96A120.2 120.2 0 0 1 716.72 606.81Q601.87 571.07 482.24 558.6A120.2 120.2 0 0 1 482.59 555.75Q601.79 571.41 718.33 600.96Z" fill="#6E6FDB" fill-opacity="0.42"/><path d="M716.72 606.81A120.2 120.2 0 0 1 716.64 607.08Q600.18 574.16 526.03 478.51A120.2 120.2 0 0 1 526.13 478.43Q600.17 574.17 716.72 606.81Z" fill="#6E6FDB" fill-opacity="0.42"/><path d="M721.87 569.2A120.2 120.2 0 0 1 719.65 595.04Q597.75 575.77 581 453.5A120.2 120.2 0 0 1 591.4 452.14Q597.08 577.05 721.87 569.2Z" fill="#6E6FDB" fill-opacity="0.42"/><path d="M677.81 664.93A120.2 120.2 0 0 1 677.32 665.33Q601.21 563.22 537.07 673.24A120.2 120.2 0 0 1 536.87 673.11Q601.2 563.25 677.81 664.93Z" fill="#D8A43C" fill-opacity="0.42"/><path d="M689.68 653.8A120.2 120.2 0 0 1 677.81 664.93Q603.07 566.05 492.12 621.3A120.2 120.2 0 0 1 490.08 616.49Q602.65 566.8 689.68 653.8Z" fill="#D8A43C" fill-opacity="0.42"/><path d="M716.64 607.08A120.2 120.2 0 0 1 689.68 653.8Q602.91 569.35 482.59 555.75A120.2 120.2 0 0 1 486.76 536.73Q601.7 571.9 716.64 607.08Z" fill="#D8A43C" fill-opacity="0.42"/><path d="M677.25 665.39A120.2 120.2 0 0 1 645 684.03Q602.72 561.83 536.87 673.11A120.2 120.2 0 0 1 526.15 665.39Q601.7 563.72 677.25 665.39Z" fill="#95DCCC" fill-opacity="0.42"/><path d="M645 684.03A120.2 120.2 0 0 1 612.13 691.65Q606.19 564.61 490.08 616.49A120.2 120.2 0 0 1 486.76 607.08Q604.71 565.71 645 684.03Z" fill="#95DCCC" fill-opacity="0.42"/><path d="M589.37 715.77A144.4 144.4 0 0 1 510.94 684.21L516.98 676.75A134.8 134.8 0 0 0 590.19 706.21Z" fill="#C74694"/><path d="M590.36 704.21A132.8 132.8 0 0 1 559.55 697.83L562.63 688.63A123.1 123.1 0 0 0 591.19 694.55Z" fill="#C74694" fill-opacity="0.42"/><path d="M559.55 697.83A132.8 132.8 0 0 1 546.57 692.72L550.6 683.89A123.1 123.1 0 0 0 562.63 688.63Z" fill="#8CB3D9" fill-opacity="0.42"/><path d="M546.57 692.72A132.8 132.8 0 0 1 530.29 683.87L535.51 675.69A123.1 123.1 0 0 0 550.6 683.89Z" fill="#6E6FDB" fill-opacity="0.42"/><path d="M530.29 683.87A132.8 132.8 0 0 1 530.07 683.72L535.3 675.56A123.1 123.1 0 0 0 535.51 675.69Z" fill="#D8A43C" fill-opacity="0.42"/><path d="M530.07 683.72A132.8 132.8 0 0 1 518.23 675.19L524.33 667.65A123.1 123.1 0 0 0 535.3 675.56Z" fill="#95DCCC" fill-opacity="0.42"/><path d="M510.94 684.21A144.4 144.4 0 0 1 463.62 614.17L472.8 611.36A134.8 134.8 0 0 0 516.98 676.75Z" fill="#8CB3D9"/><path d="M518.23 675.19A132.8 132.8 0 0 1 496.44 652.87L504.13 646.95A123.1 123.1 0 0 0 524.33 667.65Z" fill="#C74694" fill-opacity="0.42"/><path d="M496.44 652.87A132.8 132.8 0 0 1 481.83 629.05L490.58 624.88A123.1 123.1 0 0 0 504.13 646.95Z" fill="#8CB3D9" fill-opacity="0.42"/><path d="M481.83 629.05A132.8 132.8 0 0 1 480.63 626.48L489.48 622.49A123.1 123.1 0 0 0 490.58 624.88Z" fill="#6E6FDB" fill-opacity="0.42"/><path d="M480.63 626.48A132.8 132.8 0 0 1 478.37 621.16L487.38 617.56A123.1 123.1 0 0 0 489.48 622.49Z" fill="#D8A43C" fill-opacity="0.42"/><path d="M478.37 621.16A132.8 132.8 0 0 1 474.72 610.77L483.99 607.93A123.1 123.1 0 0 0 487.38 617.56Z" fill="#95DCCC" fill-opacity="0.42"/><path d="M463.62 614.17A144.4 144.4 0 0 1 463.62 529.63L472.8 532.44A134.8 134.8 0 0 0 472.8 611.36Z" fill="#6E6FDB"/><path d="M474.72 610.77A132.8 132.8 0 0 1 469.51 559.18L479.17 560.11A123.1 123.1 0 0 0 483.99 607.93Z" fill="#C74694" fill-opacity="0.42"/><path d="M469.51 559.18A132.8 132.8 0 0 1 469.72 557.21L479.36 558.28A123.1 123.1 0 0 0 479.17 560.11Z" fill="#8CB3D9" fill-opacity="0.42"/><path d="M469.72 557.21A132.8 132.8 0 0 1 470.1 554.06L479.72 555.36A123.1 123.1 0 0 0 479.36 558.28Z" fill="#6E6FDB" fill-opacity="0.42"/><path d="M470.1 554.06A132.8 132.8 0 0 1 474.71 533.05L483.99 535.89A123.1 123.1 0 0 0 479.72 555.36Z" fill="#D8A43C" fill-opacity="0.42"/><path d="M463.62 529.63A144.4 144.4 0 0 1 510.94 459.59L516.98 467.05A134.8 134.8 0 0 0 472.8 532.44Z" fill="#D8A43C"/><path d="M474.72 533.03A132.8 132.8 0 0 1 506.8 479.01L513.73 485.79A123.1 123.1 0 0 0 483.99 535.87Z" fill="#C74694" fill-opacity="0.42"/><path d="M506.8 479.01A132.8 132.8 0 0 1 518.09 468.72L524.2 476.26A123.1 123.1 0 0 0 513.73 485.79Z" fill="#8CB3D9" fill-opacity="0.42"/><path d="M518.09 468.72A132.8 132.8 0 0 1 518.2 468.63L524.3 476.17A123.1 123.1 0 0 0 524.2 476.26Z" fill="#6E6FDB" fill-opacity="0.42"/><path d="M510.94 459.59A144.4 144.4 0 0 1 589.37 428.03L590.19 437.59A134.8 134.8 0 0 0 516.98 467.05Z" fill="#95DCCC"/><path d="M518.23 468.61A132.8 132.8 0 0 1 578.82 441.09L580.49 450.64A123.1 123.1 0 0 0 524.33 476.15Z" fill="#C74694" fill-opacity="0.42"/><path d="M578.83 441.08A132.8 132.8 0 0 1 590.32 439.59L591.15 449.25A123.1 123.1 0 0 0 580.5 450.64Z" fill="#6E6FDB" fill-opacity="0.42"/><path d="M614.03 428.03A144.4 144.4 0 0 1 692.46 459.59L686.42 467.05A134.8 134.8 0 0 0 613.21 437.59Z" fill="#C74694" fill-opacity="0.42"/><path d="M678.1 463.28A132.8 132.8 0 0 1 685.17 468.61L679.07 476.15A123.1 123.1 0 0 0 672.52 471.21Z" fill="#C74694"/><path d="M669.25 457.56A132.8 132.8 0 0 1 678.1 463.28L672.52 471.21A123.1 123.1 0 0 0 664.32 465.92Z" fill="#8CB3D9"/><path d="M655.26 450.38A132.8 132.8 0 0 1 669.25 457.56L664.32 465.92A123.1 123.1 0 0 0 651.35 459.26Z" fill="#6E6FDB"/><path d="M636.43 443.72A132.8 132.8 0 0 1 655.26 450.38L651.35 459.26A123.1 123.1 0 0 0 633.9 453.09Z" fill="#D8A43C"/><path d="M613.04 439.59A132.8 132.8 0 0 1 636.43 443.72L633.9 453.09A123.1 123.1 0 0 0 612.21 449.25Z" fill="#95DCCC"/><path d="M692.46 459.59A144.4 144.4 0 0 1 739.78 529.63L730.6 532.44A134.8 134.8 0 0 0 686.42 467.05Z" fill="#8CB3D9" fill-opacity="0.42"/><path d="M721.84 515.3A132.8 132.8 0 0 1 727.92 530.61L718.7 533.62A123.1 123.1 0 0 0 713.06 519.44Z" fill="#C74694"/><path d="M685.17 468.61A132.8 132.8 0 0 1 711.84 497.71L703.8 503.13A123.1 123.1 0 0 0 679.07 476.15Z" fill="#8CB3D9"/><path d="M727.92 530.61A132.8 132.8 0 0 1 728.68 533L719.4 535.85A123.1 123.1 0 0 0 718.7 533.62Z" fill="#6E6FDB"/><path d="M711.84 497.71A132.8 132.8 0 0 1 721.84 515.3L713.06 519.44A123.1 123.1 0 0 0 703.8 503.13Z" fill="#D8A43C"/><path d="M739.78 529.63A144.4 144.4 0 0 1 739.78 614.17L730.6 611.36A134.8 134.8 0 0 0 730.6 532.44Z" fill="#6E6FDB" fill-opacity="0.42"/><path d="M728.68 533.03A132.8 132.8 0 0 1 734.47 568.91L724.77 569.13A123.1 123.1 0 0 0 719.41 535.87Z" fill="#C74694"/><path d="M732.02 597.46A132.8 132.8 0 0 1 730.56 604.01L721.15 601.66A123.1 123.1 0 0 0 722.5 595.6Z" fill="#8CB3D9"/><path d="M730.56 604.01A132.8 132.8 0 0 1 728.78 610.47L719.49 607.65A123.1 123.1 0 0 0 721.15 601.66Z" fill="#6E6FDB"/><path d="M728.78 610.47A132.8 132.8 0 0 1 728.68 610.77L719.41 607.93A123.1 123.1 0 0 0 719.49 607.65Z" fill="#D8A43C"/><path d="M734.47 568.91A132.8 132.8 0 0 1 732.02 597.46L722.5 595.6A123.1 123.1 0 0 0 724.77 569.13Z" fill="#95DCCC"/><path d="M739.78 614.17A144.4 144.4 0 0 1 692.46 684.21L686.42 676.75A134.8 134.8 0 0 0 730.6 611.36Z" fill="#D8A43C" fill-opacity="0.42"/><path d="M685.79 674.69A132.8 132.8 0 0 1 685.25 675.12L679.15 667.58A123.1 123.1 0 0 0 679.65 667.18Z" fill="#C74694"/><path d="M698.91 662.38A132.8 132.8 0 0 1 685.79 674.69L679.65 667.18A123.1 123.1 0 0 0 691.81 655.77Z" fill="#8CB3D9"/><path d="M728.68 610.77A132.8 132.8 0 0 1 698.91 662.38L691.81 655.77A123.1 123.1 0 0 0 719.41 607.93Z" fill="#6E6FDB"/><path d="M685.25 675.12A132.8 132.8 0 0 1 685.21 675.16L679.11 667.62A123.1 123.1 0 0 0 679.15 667.58Z" fill="#D8A43C"/><path d="M685.21 675.16A132.8 132.8 0 0 1 685.17 675.19L679.07 667.65A123.1 123.1 0 0 0 679.11 667.62Z" fill="#95DCCC"/><path d="M692.46 684.21A144.4 144.4 0 0 1 614.03 715.77L613.21 706.21A134.8 134.8 0 0 0 686.42 676.75Z" fill="#95DCCC" fill-opacity="0.42"/><path d="M685.17 675.19A132.8 132.8 0 0 1 649.54 695.79L646.04 686.74A123.1 123.1 0 0 0 679.07 667.65Z" fill="#C74694"/><path d="M649.54 695.79A132.8 132.8 0 0 1 613.22 704.2L612.38 694.54A123.1 123.1 0 0 0 646.04 686.74Z" fill="#8CB3D9"/><path d="M613.22 704.2A132.8 132.8 0 0 1 613.16 704.2L612.33 694.54A123.1 123.1 0 0 0 612.38 694.54Z" fill="#6E6FDB"/><path d="M613.16 704.2A132.8 132.8 0 0 1 613.1 704.21L612.27 694.55A123.1 123.1 0 0 0 612.33 694.54Z" fill="#D8A43C"/><path d="M613.1 704.21A132.8 132.8 0 0 1 613.04 704.21L612.21 694.55A123.1 123.1 0 0 0 612.27 694.55Z" fill="#95DCCC"/><path d="M614.06 427.73A144.7 144.7 0 0 1 692.64 459.35" fill="none" stroke="#222" stroke-width="0.8" stroke-dasharray="1.3 0.6"/><line x1="615.57" y1="427.87" x2="615.75" y2="425.97" stroke="#333" stroke-width="0.5"/><text x="615.85" y="426.38" font-size="4.3" fill="#333" transform="rotate(-84.5 615.85 426.38)" stroke="#333" stroke-width="0.12">0%</text><line x1="640.89" y1="432.61" x2="641.4" y2="430.78" stroke="#333" stroke-width="0.5"/><text x="641.67" y="431.22" font-size="4.3" fill="#333" transform="rotate(-74.29 641.67 431.22)" stroke="#333" stroke-width="0.12">30%</text><line x1="664.96" y1="441.76" x2="665.79" y2="440.05" stroke="#333" stroke-width="0.5"/><text x="666.23" y="440.55" font-size="4.3" fill="#333" transform="rotate(-64.08 666.23 440.55)" stroke="#333" stroke-width="0.12">60%</text><line x1="687.03" y1="455.04" x2="688.15" y2="453.5" stroke="#333" stroke-width="0.5"/><text x="688.74" y="454.1" font-size="4.3" fill="#333" transform="rotate(-53.86 688.74 454.1)" stroke="#333" stroke-width="0.12">90%</text><path d="M692.64 459.35A144.7 144.7 0 0 1 740.06 529.55" fill="none" stroke="#222" stroke-width="0.8" stroke-dasharray="1.3 0.6"/><line x1="693.82" y1="460.31" x2="695.03" y2="458.84" stroke="#333" stroke-width="0.5"/><text x="695.66" y="459.47" font-size="4.3" fill="#333" transform="rotate(-50.46 695.66 459.47)" stroke="#333" stroke-width="0.12">0%</text><line x1="712.14" y1="478.41" x2="713.59" y2="477.18" stroke="#333" stroke-width="0.5"/><text x="714.36" y="477.94" font-size="4.3" fill="#333" transform="rotate(-40.25 714.36 477.94)" stroke="#333" stroke-width="0.12">30%</text><line x1="726.97" y1="499.47" x2="728.61" y2="498.52" stroke="#333" stroke-width="0.5"/><text x="729.48" y="499.42" font-size="4.3" fill="#333" transform="rotate(-30.04 729.48 499.42)" stroke="#333" stroke-width="0.12">60%</text><line x1="737.82" y1="522.83" x2="739.61" y2="522.18" stroke="#333" stroke-width="0.5"/><text x="740.55" y="523.24" font-size="4.3" fill="#333" transform="rotate(-19.82 740.55 523.24)" stroke="#333" stroke-width="0.12">90%</text><path d="M740.06 529.55A144.7 144.7 0 0 1 740.06 614.25" fill="none" stroke="#222" stroke-width="0.8" stroke-dasharray="1.3 0.6"/><line x1="740.5" y1="531" x2="742.32" y2="530.46" stroke="#333" stroke-width="0.5"/><text x="743.28" y="531.58" font-size="4.3" fill="#333" transform="rotate(-16.42 743.28 531.58)" stroke="#333" stroke-width="0.12">0%</text><line x1="745.55" y1="556.25" x2="747.44" y2="556.05" stroke="#333" stroke-width="0.5"/><text x="748.43" y="557.34" font-size="4.3" fill="#333" transform="rotate(-6.21 748.43 557.34)" stroke="#333" stroke-width="0.12">30%</text><line x1="746.05" y1="582" x2="747.94" y2="582.14" stroke="#333" stroke-width="0.5"/><text x="748.94" y="583.61" font-size="4.3" fill="#333" transform="rotate(4 748.94 583.61)" stroke="#333" stroke-width="0.12">60%</text><line x1="741.97" y1="607.44" x2="743.81" y2="607.9" stroke="#333" stroke-width="0.5"/><text x="744.78" y="609.55" font-size="4.3" fill="#333" transform="rotate(14.22 744.78 609.55)" stroke="#333" stroke-width="0.12">90%</text><path d="M740.06 614.25A144.7 144.7 0 0 1 692.64 684.45" fill="none" stroke="#222" stroke-width="0.8" stroke-dasharray="1.3 0.6"/><line x1="739.61" y1="615.7" x2="741.42" y2="616.28" stroke="#333" stroke-width="0.5"/><text x="742.38" y="617.98" font-size="4.3" fill="#333" transform="rotate(17.62 742.38 617.98)" stroke="#333" stroke-width="0.12">0%</text><line x1="729.66" y1="639.46" x2="731.34" y2="640.34" stroke="#333" stroke-width="0.5"/><text x="732.23" y="642.21" font-size="4.3" fill="#333" transform="rotate(27.83 732.23 642.21)" stroke="#333" stroke-width="0.12">30%</text><line x1="715.66" y1="661.07" x2="717.15" y2="662.24" stroke="#333" stroke-width="0.5"/><text x="717.94" y="664.26" font-size="4.3" fill="#333" transform="rotate(38.04 717.94 664.26)" stroke="#333" stroke-width="0.12">60%</text><line x1="698.04" y1="679.86" x2="699.31" y2="681.28" stroke="#333" stroke-width="0.5"/><text x="699.97" y="683.43" font-size="4.3" fill="#333" transform="rotate(48.26 699.97 683.43)" stroke="#333" stroke-width="0.12">90%</text><path d="M692.64 684.45A144.7 144.7 0 0 1 614.06 716.07" fill="none" stroke="#222" stroke-width="0.8" stroke-dasharray="1.3 0.6"/><line x1="691.46" y1="685.39" x2="692.64" y2="686.88" stroke="#333" stroke-width="0.5"/><text x="693.26" y="689.07" font-size="4.3" fill="#333" transform="rotate(51.66 693.26 689.07)" stroke="#333" stroke-width="0.12">0%</text><line x1="669.92" y1="699.51" x2="670.81" y2="701.19" stroke="#333" stroke-width="0.5"/><text x="671.28" y="703.47" font-size="4.3" fill="#333" transform="rotate(61.87 671.28 703.47)" stroke="#333" stroke-width="0.12">30%</text><line x1="646.21" y1="709.58" x2="646.8" y2="711.39" stroke="#333" stroke-width="0.5"/><text x="647.11" y="713.74" font-size="4.3" fill="#333" transform="rotate(72.08 647.11 713.74)" stroke="#333" stroke-width="0.12">60%</text><line x1="621.1" y1="715.29" x2="621.35" y2="717.18" stroke="#333" stroke-width="0.5"/><text x="621.49" y="719.57" font-size="4.3" fill="#333" transform="rotate(82.3 621.49 719.57)" stroke="#333" stroke-width="0.12">90%</text><path d="M589.34 716.07A144.7 144.7 0 0 1 510.76 684.45" fill="none" stroke="#222" stroke-width="0.8" stroke-dasharray="1.3 0.6"/><line x1="587.83" y1="715.93" x2="587.65" y2="717.83" stroke="#333" stroke-width="0.5"/><text x="587.55" y="720.22" font-size="4.3" fill="#333" transform="rotate(275.5 587.55 720.22)" text-anchor="end" stroke="#333" stroke-width="0.12">0%</text><line x1="562.51" y1="711.19" x2="562" y2="713.02" stroke="#333" stroke-width="0.5"/><text x="561.73" y="715.38" font-size="4.3" fill="#333" transform="rotate(285.71 561.73 715.38)" text-anchor="end" stroke="#333" stroke-width="0.12">30%</text><line x1="538.44" y1="702.04" x2="537.61" y2="703.75" stroke="#333" stroke-width="0.5"/><text x="537.17" y="706.05" font-size="4.3" fill="#333" transform="rotate(295.92 537.17 706.05)" text-anchor="end" stroke="#333" stroke-width="0.12">60%</text><line x1="516.37" y1="688.76" x2="515.25" y2="690.3" stroke="#333" stroke-width="0.5"/><text x="514.66" y="692.5" font-size="4.3" fill="#333" transform="rotate(306.14 514.66 692.5)" text-anchor="end" stroke="#333" stroke-width="0.12">90%</text><path d="M510.76 684.45A144.7 144.7 0 0 1 463.34 614.25" fill="none" stroke="#222" stroke-width="0.8" stroke-dasharray="1.3 0.6"/><line x1="509.58" y1="683.49" x2="508.37" y2="684.96" stroke="#333" stroke-width="0.5"/><text x="507.74" y="687.13" font-size="4.3" fill="#333" transform="rotate(309.54 507.74 687.13)" text-anchor="end" stroke="#333" stroke-width="0.12">0%</text><line x1="491.26" y1="665.39" x2="489.81" y2="666.62" stroke="#333" stroke-width="0.5"/><text x="489.04" y="668.66" font-size="4.3" fill="#333" transform="rotate(319.75 489.04 668.66)" text-anchor="end" stroke="#333" stroke-width="0.12">30%</text><line x1="476.43" y1="644.33" x2="474.79" y2="645.28" stroke="#333" stroke-width="0.5"/><text x="473.92" y="647.18" font-size="4.3" fill="#333" transform="rotate(329.96 473.92 647.18)" text-anchor="end" stroke="#333" stroke-width="0.12">60%</text><line x1="465.58" y1="620.97" x2="463.79" y2="621.62" stroke="#333" stroke-width="0.5"/><text x="462.85" y="623.36" font-size="4.3" fill="#333" transform="rotate(340.18 462.85 623.36)" text-anchor="end" stroke="#333" stroke-width="0.12">90%</text><path d="M463.34 614.25A144.7 144.7 0 0 1 463.34 529.55" fill="none" stroke="#222" stroke-width="0.8" stroke-dasharray="1.3 0.6"/><line x1="462.9" y1="612.8" x2="461.08" y2="613.34" stroke="#333" stroke-width="0.5"/><text x="460.12" y="615.02" font-size="4.3" fill="#333" transform="rotate(343.58 460.12 615.02)" text-anchor="end" stroke="#333" stroke-width="0.12">0%</text><line x1="457.85" y1="587.55" x2="455.96" y2="587.75" stroke="#333" stroke-width="0.5"/><text x="454.97" y="589.26" font-size="4.3" fill="#333" transform="rotate(353.79 454.97 589.26)" text-anchor="end" stroke="#333" stroke-width="0.12">30%</text><line x1="457.35" y1="561.8" x2="455.46" y2="561.66" stroke="#333" stroke-width="0.5"/><text x="454.46" y="562.99" font-size="4.3" fill="#333" transform="rotate(364 454.46 562.99)" text-anchor="end" stroke="#333" stroke-width="0.12">60%</text><line x1="461.43" y1="536.36" x2="459.59" y2="535.9" stroke="#333" stroke-width="0.5"/><text x="458.62" y="537.05" font-size="4.3" fill="#333" transform="rotate(374.22 458.62 537.05)" text-anchor="end" stroke="#333" stroke-width="0.12">90%</text><path d="M463.34 529.55A144.7 144.7 0 0 1 510.76 459.35" fill="none" stroke="#222" stroke-width="0.8" stroke-dasharray="1.3 0.6"/><line x1="463.79" y1="528.1" x2="461.98" y2="527.52" stroke="#333" stroke-width="0.5"/><text x="461.02" y="528.62" font-size="4.3" fill="#333" transform="rotate(377.62 461.02 528.62)" text-anchor="end" stroke="#333" stroke-width="0.12">0%</text><line x1="473.74" y1="504.34" x2="472.06" y2="503.46" stroke="#333" stroke-width="0.5"/><text x="471.17" y="504.39" font-size="4.3" fill="#333" transform="rotate(387.83 471.17 504.39)" text-anchor="end" stroke="#333" stroke-width="0.12">30%</text><line x1="487.74" y1="482.73" x2="486.25" y2="481.56" stroke="#333" stroke-width="0.5"/><text x="485.46" y="482.34" font-size="4.3" fill="#333" transform="rotate(398.04 485.46 482.34)" text-anchor="end" stroke="#333" stroke-width="0.12">60%</text><line x1="505.36" y1="463.94" x2="504.09" y2="462.52" stroke="#333" stroke-width="0.5"/><text x="503.43" y="463.17" font-size="4.3" fill="#333" transform="rotate(408.26 503.43 463.17)" text-anchor="end" stroke="#333" stroke-width="0.12">90%</text><path d="M510.76 459.35A144.7 144.7 0 0 1 589.34 427.73" fill="none" stroke="#222" stroke-width="0.8" stroke-dasharray="1.3 0.6"/><line x1="511.94" y1="458.41" x2="510.76" y2="456.92" stroke="#333" stroke-width="0.5"/><text x="510.14" y="457.53" font-size="4.3" fill="#333" transform="rotate(411.66 510.14 457.53)" text-anchor="end" stroke="#333" stroke-width="0.12">0%</text><line x1="533.48" y1="444.29" x2="532.59" y2="442.61" stroke="#333" stroke-width="0.5"/><text x="532.12" y="443.13" font-size="4.3" fill="#333" transform="rotate(421.87 532.12 443.13)" text-anchor="end" stroke="#333" stroke-width="0.12">30%</text><line x1="557.19" y1="434.22" x2="556.6" y2="432.41" stroke="#333" stroke-width="0.5"/><text x="556.29" y="432.86" font-size="4.3" fill="#333" transform="rotate(432.08 556.29 432.86)" text-anchor="end" stroke="#333" stroke-width="0.12">60%</text><line x1="582.3" y1="428.51" x2="582.05" y2="426.62" stroke="#333" stroke-width="0.5"/><text x="581.91" y="427.03" font-size="4.3" fill="#333" transform="rotate(442.3 581.91 427.03)" text-anchor="end" stroke="#333" stroke-width="0.12">90%</text><text x="537.6" y="413.6" font-size="9" fill="#333" transform="rotate(65 537.6 413.6)" text-anchor="middle" dominant-baseline="central" stroke="#333" stroke-width="0.25">Sep</text><text x="459.5" y="471.4" font-size="9" fill="#333" transform="rotate(35 459.5 471.4)" text-anchor="middle" dominant-baseline="central" stroke="#333" stroke-width="0.25">Ctrl1</text><text x="433.6" y="569" font-size="9" fill="#333" transform="rotate(0 433.6 569)" text-anchor="middle" dominant-baseline="central" stroke="#333" stroke-width="0.25">Pla</text><text x="460.2" y="664.3" font-size="9" fill="#333" transform="rotate(-34 460.2 664.3)" text-anchor="middle" dominant-baseline="central" stroke="#333" stroke-width="0.25">Gly</text><text x="534" y="729" font-size="9" fill="#333" transform="rotate(-68 534 729)" text-anchor="middle" dominant-baseline="central" stroke="#333" stroke-width="0.25">Ctrl2</text><text x="673.3" y="400.5" font-size="7.3" fill="#333" transform="rotate(-67 673.3 400.5)" text-anchor="middle" dominant-baseline="central" stroke="#333" stroke-width="0.2">Ligilactobacillus</text><text x="751.9" y="473.8" font-size="7.3" fill="#333" transform="rotate(-35 751.9 473.8)" text-anchor="middle" dominant-baseline="central" stroke="#333" stroke-width="0.2">Bacteroides</text><text x="784" y="575" font-size="7.3" fill="#333" transform="rotate(0 784 575)" text-anchor="middle" dominant-baseline="central" stroke="#333" stroke-width="0.2">Rodentibacter</text><text x="760.2" y="683.3" font-size="7.3" fill="#333" transform="rotate(34.5 760.2 683.3)" text-anchor="middle" dominant-baseline="central" stroke="#333" stroke-width="0.2">Escherichia−Shigella</text><text x="668.6" y="746.9" font-size="7.3" fill="#333" transform="rotate(67.5 668.6 746.9)" text-anchor="middle" dominant-baseline="central" stroke="#333" stroke-width="0.2">Parabacteroides</text></g>
<g id="pg"><text x="846.5" y="385.3" font-size="25.5" fill="#111" stroke="#111" stroke-width="0.71">G</text><text x="1028.2" y="417.3" font-size="14.6" fill="#1a1a1a" font-weight="bold" text-anchor="middle" stroke="#1a1a1a" stroke-width="0.41">Stacked Barplot</text><text x="1028.2" y="433.8" font-size="10.8" fill="#333" text-anchor="middle" stroke="#333" stroke-width="0.3">Top 30</text><rect x="856.1" y="441.3" width="344.1" height="285.2" fill="#fff" stroke="#C4C4C4" stroke-width="1.2"/><line x1="853.9" y1="726.5" x2="856.1" y2="726.5" stroke="#777" stroke-width="0.6"/><text x="852.7" y="727.9" font-size="3.8" fill="#333" text-anchor="end" stroke="#333" stroke-width="0.11">0</text><line x1="853.9" y1="655.42" x2="856.1" y2="655.42" stroke="#777" stroke-width="0.6"/><text x="852.7" y="656.82" font-size="3.8" fill="#333" text-anchor="end" stroke="#333" stroke-width="0.11">25</text><line x1="853.9" y1="584.35" x2="856.1" y2="584.35" stroke="#777" stroke-width="0.6"/><text x="852.7" y="585.75" font-size="3.8" fill="#333" text-anchor="end" stroke="#333" stroke-width="0.11">50</text><line x1="853.9" y1="513.27" x2="856.1" y2="513.27" stroke="#777" stroke-width="0.6"/><text x="852.7" y="514.67" font-size="3.8" fill="#333" text-anchor="end" stroke="#333" stroke-width="0.11">75</text><line x1="853.9" y1="442.2" x2="856.1" y2="442.2" stroke="#777" stroke-width="0.6"/><text x="852.7" y="443.6" font-size="3.8" fill="#333" text-anchor="end" stroke="#333" stroke-width="0.11">100</text><text x="828.5" y="585.4" font-size="11.2" fill="#1a1a1a" transform="rotate(-90 828.5 585.4)" font-weight="bold" text-anchor="middle" stroke="#1a1a1a" stroke-width="0.31">Relative Abundance(%)</text><rect x="872.6" y="442.2" width="46.8" height="0.95" fill="#C8A0D0"/><rect x="872.6" y="443" width="46.8" height="2.15" fill="#90D890"/><rect x="872.6" y="445" width="46.8" height="52.05" fill="#6E6FDB"/><rect x="872.6" y="496.9" width="46.8" height="79.55" fill="#8CB3D9"/><rect x="872.6" y="576.3" width="46.8" height="150.35" fill="#C74694"/><rect x="938.6" y="442.2" width="46.8" height="0.75" fill="#C8B090"/><rect x="938.6" y="442.8" width="46.8" height="29.35" fill="#6E6FDB"/><rect x="938.6" y="472" width="46.8" height="129.35" fill="#8CB3D9"/><rect x="938.6" y="601.2" width="46.8" height="125.45" fill="#C74694"/><rect x="1004.9" y="442.2" width="46.8" height="0.95" fill="#A0A0A0"/><rect x="1004.9" y="443" width="46.8" height="71.95" fill="#6E6FDB"/><rect x="1004.9" y="514.8" width="46.8" height="9.15" fill="#8CB3D9"/><rect x="1004.9" y="523.8" width="46.8" height="202.85" fill="#C74694"/><rect x="1071" y="442.2" width="46.8" height="0.75" fill="#B080A0"/><rect x="1071" y="442.8" width="46.8" height="1.15" fill="#6E6FDB"/><rect x="1071" y="443.8" width="46.8" height="52.35" fill="#8CB3D9"/><rect x="1071" y="496" width="46.8" height="230.65" fill="#C74694"/><rect x="1137.3" y="442.2" width="46.8" height="0.55" fill="#B090C0"/><rect x="1137.3" y="442.6" width="46.8" height="40.25" fill="#6E6FDB"/><rect x="1137.3" y="482.7" width="46.8" height="243.95" fill="#C74694"/><line x1="896" y1="726.5" x2="896" y2="728.7" stroke="#777" stroke-width="0.6"/><text x="897" y="732.5" font-size="4.3" fill="#333" transform="rotate(-50 897 732.5)" text-anchor="end" stroke="#333" stroke-width="0.12">Ctrl2</text><line x1="962" y1="726.5" x2="962" y2="728.7" stroke="#777" stroke-width="0.6"/><text x="963" y="732.5" font-size="4.3" fill="#333" transform="rotate(-50 963 732.5)" text-anchor="end" stroke="#333" stroke-width="0.12">Gly</text><line x1="1028.3" y1="726.5" x2="1028.3" y2="728.7" stroke="#777" stroke-width="0.6"/><text x="1029.3" y="732.5" font-size="4.3" fill="#333" transform="rotate(-50 1029.3 732.5)" text-anchor="end" stroke="#333" stroke-width="0.12">Pla</text><line x1="1094.4" y1="726.5" x2="1094.4" y2="728.7" stroke="#777" stroke-width="0.6"/><text x="1095.4" y="732.5" font-size="4.3" fill="#333" transform="rotate(-50 1095.4 732.5)" text-anchor="end" stroke="#333" stroke-width="0.12">Ctrl1</text><line x1="1160.7" y1="726.5" x2="1160.7" y2="728.7" stroke="#777" stroke-width="0.6"/><text x="1161.7" y="732.5" font-size="4.3" fill="#333" transform="rotate(-50 1161.7 732.5)" text-anchor="end" stroke="#333" stroke-width="0.12">Sep</text><text x="1207.4" y="506" font-size="10.3" fill="#1a1a1a" font-weight="bold" stroke="#1a1a1a" stroke-width="0.29">Phylum</text><rect x="1207.4" y="515.25" width="3.4" height="8.11" fill="#C74694"/><text x="1216.6" y="522" font-size="8.75" fill="#333" stroke="#333" stroke-width="0.24">Firmicutes</text><rect x="1207.4" y="523.36" width="3.4" height="8.11" fill="#8CB3D9"/><text x="1216.6" y="530.11" font-size="8.75" fill="#333" stroke="#333" stroke-width="0.24">Bacteroidota</text><rect x="1207.4" y="531.47" width="3.4" height="8.11" fill="#6E6FDB"/><text x="1216.6" y="538.22" font-size="8.75" fill="#333" stroke="#333" stroke-width="0.24">Proteobacteria</text><rect x="1207.4" y="539.58" width="3.4" height="8.11" fill="#D8A43C"/><text x="1216.6" y="546.33" font-size="8.75" fill="#333" stroke="#333" stroke-width="0.24">Actinobacteriota</text><rect x="1207.4" y="547.69" width="3.4" height="8.11" fill="#95DCCC"/><text x="1216.6" y="554.44" font-size="8.75" fill="#333" stroke="#333" stroke-width="0.24">Campylobacterota</text><rect x="1207.4" y="555.8" width="3.4" height="8.11" fill="#7DB37D"/><text x="1216.6" y="562.55" font-size="8.75" fill="#333" stroke="#333" stroke-width="0.24">Cyanobacteria</text><rect x="1207.4" y="563.91" width="3.4" height="8.11" fill="#B884D8"/><text x="1216.6" y="570.66" font-size="8.75" fill="#333" stroke="#333" stroke-width="0.24">Verrucomicrobiota</text><rect x="1207.4" y="572.02" width="3.4" height="8.11" fill="#D8D07C"/><text x="1216.6" y="578.77" font-size="8.75" fill="#333" stroke="#333" stroke-width="0.24">Desulfobacterota</text><rect x="1207.4" y="580.13" width="3.4" height="8.11" fill="#D88CB8"/><text x="1216.6" y="586.88" font-size="8.75" fill="#333" stroke="#333" stroke-width="0.24">Deferribacterota</text><rect x="1207.4" y="588.24" width="3.4" height="8.11" fill="#90E8A0"/><text x="1216.6" y="594.99" font-size="8.75" fill="#333" stroke="#333" stroke-width="0.24">Patescibacteria</text><rect x="1207.4" y="596.35" width="3.4" height="8.11" fill="#3E4C8C"/><text x="1216.6" y="603.1" font-size="8.75" fill="#333" stroke="#333" stroke-width="0.24">Chloroflexi</text><rect x="1207.4" y="604.46" width="3.4" height="8.11" fill="#5E9E80"/><text x="1216.6" y="611.21" font-size="8.75" fill="#333" stroke="#333" stroke-width="0.24">Acidobacteriota</text><rect x="1207.4" y="612.57" width="3.4" height="8.11" fill="#9ADCF0"/><text x="1216.6" y="619.32" font-size="8.75" fill="#333" stroke="#333" stroke-width="0.24">Gemmatimonadota</text><rect x="1207.4" y="620.68" width="3.4" height="8.11" fill="#70A830"/><text x="1216.6" y="627.43" font-size="8.75" fill="#333" stroke="#333" stroke-width="0.24">Deferrisomatota</text><rect x="1207.4" y="628.79" width="3.4" height="8.11" fill="#4A2420"/><text x="1216.6" y="635.54" font-size="8.75" fill="#333" stroke="#333" stroke-width="0.24">Planctomycetota</text><rect x="1207.4" y="636.9" width="3.4" height="8.11" fill="#D87838"/><text x="1216.6" y="643.65" font-size="8.75" fill="#333" stroke="#333" stroke-width="0.24">Elusimicrobiota</text><rect x="1207.4" y="645.01" width="3.4" height="8.11" fill="#E8E040"/><text x="1216.6" y="651.76" font-size="8.75" fill="#333" stroke="#333" stroke-width="0.24">Deinococcota</text><rect x="1207.4" y="653.12" width="3.4" height="8.11" fill="#407850"/><text x="1216.6" y="659.87" font-size="8.75" fill="#333" stroke="#333" stroke-width="0.24">NB1−j</text><rect x="1207.4" y="661.23" width="3.4" height="8.11" fill="#C8B8F0"/><text x="1216.6" y="667.98" font-size="8.75" fill="#333" stroke="#333" stroke-width="0.24">Others</text><text x="1290.2" y="385.3" font-size="25.5" fill="#111" stroke="#111" stroke-width="0.71">H</text><text x="1470.4" y="414.2" font-size="14.6" fill="#1a1a1a" font-weight="bold" text-anchor="middle" stroke="#1a1a1a" stroke-width="0.41">Stacked Barplot</text><text x="1470.4" y="431" font-size="10.8" fill="#333" text-anchor="middle" stroke="#333" stroke-width="0.3">Top 30</text><rect x="1325.9" y="438.5" width="289.9" height="290.8" fill="#fff" stroke="#C4C4C4" stroke-width="1.2"/><line x1="1323.7" y1="729.3" x2="1325.9" y2="729.3" stroke="#777" stroke-width="0.6"/><text x="1322.5" y="730.7" font-size="3.8" fill="#333" text-anchor="end" stroke="#333" stroke-width="0.11">0</text><line x1="1323.7" y1="656.82" x2="1325.9" y2="656.82" stroke="#777" stroke-width="0.6"/><text x="1322.5" y="658.22" font-size="3.8" fill="#333" text-anchor="end" stroke="#333" stroke-width="0.11">25</text><line x1="1323.7" y1="584.35" x2="1325.9" y2="584.35" stroke="#777" stroke-width="0.6"/><text x="1322.5" y="585.75" font-size="3.8" fill="#333" text-anchor="end" stroke="#333" stroke-width="0.11">50</text><line x1="1323.7" y1="511.87" x2="1325.9" y2="511.87" stroke="#777" stroke-width="0.6"/><text x="1322.5" y="513.27" font-size="3.8" fill="#333" text-anchor="end" stroke="#333" stroke-width="0.11">75</text><line x1="1323.7" y1="439.4" x2="1325.9" y2="439.4" stroke="#777" stroke-width="0.6"/><text x="1322.5" y="440.8" font-size="3.8" fill="#333" text-anchor="end" stroke="#333" stroke-width="0.11">100</text><text x="1297.5" y="585.4" font-size="11.2" fill="#1a1a1a" transform="rotate(-90 1297.5 585.4)" font-weight="bold" text-anchor="middle" stroke="#1a1a1a" stroke-width="0.31">Relative Abundance(%)</text><rect x="1340.1" y="439.35" width="39.2" height="27.87" fill="#5C4A94"/><rect x="1340.1" y="467.07" width="39.2" height="2.53" fill="#A888B8"/><rect x="1340.1" y="469.46" width="39.2" height="3.21" fill="#C090C8"/><rect x="1340.1" y="472.52" width="39.2" height="2.19" fill="#8C5030"/><rect x="1340.1" y="474.56" width="39.2" height="2.36" fill="#60A888"/><rect x="1340.1" y="476.77" width="39.2" height="12.91" fill="#CC88B8"/><rect x="1340.1" y="489.52" width="39.2" height="3.21" fill="#D8D080"/><rect x="1340.1" y="492.59" width="39.2" height="22.6" fill="#B888D8"/><rect x="1340.1" y="515.03" width="39.2" height="39.27" fill="#95DCCC"/><rect x="1340.1" y="554.15" width="39.2" height="1.51" fill="#D8A43C"/><rect x="1340.1" y="555.51" width="39.2" height="50.14" fill="#6E6FDB"/><rect x="1340.1" y="605.5" width="39.2" height="38.05" fill="#8CB3D9"/><rect x="1340.1" y="643.4" width="39.2" height="86.05" fill="#C74694"/><rect x="1395.7" y="439.35" width="39.2" height="17.67" fill="#5C4A94"/><rect x="1395.7" y="456.87" width="39.2" height="3.89" fill="#502020"/><rect x="1395.7" y="460.61" width="39.2" height="1.17" fill="#70A830"/><rect x="1395.7" y="461.63" width="39.2" height="4.23" fill="#9ADCF0"/><rect x="1395.7" y="465.71" width="39.2" height="1.85" fill="#D8D080"/><rect x="1395.7" y="467.41" width="39.2" height="1.85" fill="#D898B0"/><rect x="1395.7" y="469.12" width="39.2" height="2.7" fill="#7DB37D"/><rect x="1395.7" y="471.67" width="39.2" height="35.86" fill="#95DCCC"/><rect x="1395.7" y="507.38" width="39.2" height="19.37" fill="#D8A43C"/><rect x="1395.7" y="526.6" width="39.2" height="9.33" fill="#6E6FDB"/><rect x="1395.7" y="535.78" width="39.2" height="91.67" fill="#8CB3D9"/><rect x="1395.7" y="627.3" width="39.2" height="102.15" fill="#C74694"/><rect x="1451" y="439.35" width="39.2" height="19.71" fill="#5C4A94"/><rect x="1451" y="458.91" width="39.2" height="3.89" fill="#807860"/><rect x="1451" y="462.65" width="39.2" height="3.21" fill="#B07830"/><rect x="1451" y="465.71" width="39.2" height="1.85" fill="#58A850"/><rect x="1451" y="467.41" width="39.2" height="5.59" fill="#5E9E80"/><rect x="1451" y="472.86" width="39.2" height="5.42" fill="#D8D080"/><rect x="1451" y="478.13" width="39.2" height="20.9" fill="#7DB37D"/><rect x="1451" y="498.88" width="39.2" height="62.74" fill="#D8A43C"/><rect x="1451" y="561.46" width="39.2" height="9.5" fill="#6E6FDB"/><rect x="1451" y="570.82" width="39.2" height="5.93" fill="#8CB3D9"/><rect x="1451" y="576.6" width="39.2" height="152.85" fill="#C74694"/><rect x="1506.7" y="439.35" width="39.2" height="14.95" fill="#5C4A94"/><rect x="1506.7" y="454.15" width="39.2" height="3.21" fill="#8C8050"/><rect x="1506.7" y="457.21" width="39.2" height="2.7" fill="#907030"/><rect x="1506.7" y="459.76" width="39.2" height="1.34" fill="#60A040"/><rect x="1506.7" y="460.95" width="39.2" height="3.21" fill="#E8E040"/><rect x="1506.7" y="464.01" width="39.2" height="1.34" fill="#406040"/><rect x="1506.7" y="465.2" width="39.2" height="5.42" fill="#3E4C8C"/><rect x="1506.7" y="470.48" width="39.2" height="7.29" fill="#90E8A0"/><rect x="1506.7" y="477.62" width="39.2" height="4.06" fill="#D8D080"/><rect x="1506.7" y="481.53" width="39.2" height="4.23" fill="#B888D8"/><rect x="1506.7" y="485.61" width="39.2" height="3.55" fill="#7DB37D"/><rect x="1506.7" y="489.01" width="39.2" height="46.58" fill="#8CB3D9"/><rect x="1506.7" y="535.44" width="39.2" height="194.01" fill="#C74694"/><rect x="1562.3" y="439.35" width="39.2" height="1.85" fill="#7860B0"/><rect x="1562.3" y="441.05" width="39.2" height="18.35" fill="#7DB37D"/><rect x="1562.3" y="459.25" width="39.2" height="39.78" fill="#6E6FDB"/><rect x="1562.3" y="498.88" width="39.2" height="230.57" fill="#C74694"/><line x1="1359.7" y1="729.3" x2="1359.7" y2="731.5" stroke="#777" stroke-width="0.6"/><text x="1360.7" y="735.3" font-size="4.3" fill="#333" transform="rotate(-50 1360.7 735.3)" text-anchor="end" stroke="#333" stroke-width="0.12">Ctrl2</text><line x1="1415.3" y1="729.3" x2="1415.3" y2="731.5" stroke="#777" stroke-width="0.6"/><text x="1416.3" y="735.3" font-size="4.3" fill="#333" transform="rotate(-50 1416.3 735.3)" text-anchor="end" stroke="#333" stroke-width="0.12">Gly</text><line x1="1470.6" y1="729.3" x2="1470.6" y2="731.5" stroke="#777" stroke-width="0.6"/><text x="1471.6" y="735.3" font-size="4.3" fill="#333" transform="rotate(-50 1471.6 735.3)" text-anchor="end" stroke="#333" stroke-width="0.12">Pla</text><line x1="1526.3" y1="729.3" x2="1526.3" y2="731.5" stroke="#777" stroke-width="0.6"/><text x="1527.3" y="735.3" font-size="4.3" fill="#333" transform="rotate(-50 1527.3 735.3)" text-anchor="end" stroke="#333" stroke-width="0.12">Ctrl1</text><line x1="1581.9" y1="729.3" x2="1581.9" y2="731.5" stroke="#777" stroke-width="0.6"/><text x="1582.9" y="735.3" font-size="4.3" fill="#333" transform="rotate(-50 1582.9 735.3)" text-anchor="end" stroke="#333" stroke-width="0.12">Sep</text><text x="1622.8" y="454.8" font-size="10.3" fill="#1a1a1a" font-weight="bold" stroke="#1a1a1a" stroke-width="0.29">Genus</text><rect x="1622.8" y="464.47" width="3.4" height="8.27" fill="#C74694"/><text x="1631.8" y="471.3" font-size="8.75" fill="#333" stroke="#333" stroke-width="0.24">Ligilactobacillus</text><rect x="1622.8" y="472.74" width="3.4" height="8.27" fill="#8CB3D9"/><text x="1631.8" y="479.57" font-size="8.75" fill="#333" stroke="#333" stroke-width="0.24">Bacteroides</text><rect x="1622.8" y="481" width="3.4" height="8.27" fill="#6E6FDB"/><text x="1631.8" y="487.83" font-size="8.75" fill="#333" stroke="#333" stroke-width="0.24">Rodentibacter</text><rect x="1622.8" y="489.27" width="3.4" height="8.27" fill="#D8A43C"/><text x="1631.8" y="496.1" font-size="8.75" fill="#333" stroke="#333" stroke-width="0.24">Escherichia−Shigella</text><rect x="1622.8" y="497.54" width="3.4" height="8.27" fill="#95DCCC"/><text x="1631.8" y="504.37" font-size="8.75" fill="#333" stroke="#333" stroke-width="0.24">Parabacteroides</text><rect x="1622.8" y="505.81" width="3.4" height="8.27" fill="#7DB37D"/><text x="1631.8" y="512.63" font-size="8.75" fill="#333" stroke="#333" stroke-width="0.24">Streptococcus</text><rect x="1622.8" y="514.07" width="3.4" height="8.27" fill="#B884D8"/><text x="1631.8" y="520.9" font-size="8.75" fill="#333" stroke="#333" stroke-width="0.24">Enterococcus</text><rect x="1622.8" y="522.34" width="3.4" height="8.27" fill="#D8D07C"/><text x="1631.8" y="529.17" font-size="8.75" fill="#333" stroke="#333" stroke-width="0.24">Lachnospiraceae_NK4A136_group</text><rect x="1622.8" y="530.61" width="3.4" height="8.27" fill="#D88CB8"/><text x="1631.8" y="537.44" font-size="8.75" fill="#333" stroke="#333" stroke-width="0.24">Clostridium_sensu_stricto_1</text><rect x="1622.8" y="538.87" width="3.4" height="8.27" fill="#90E8A0"/><text x="1631.8" y="545.7" font-size="8.75" fill="#333" stroke="#333" stroke-width="0.24">Eisenbergiella</text><rect x="1622.8" y="547.14" width="3.4" height="8.27" fill="#3E4C8C"/><text x="1631.8" y="553.97" font-size="8.75" fill="#333" stroke="#333" stroke-width="0.24">Alistipes</text><rect x="1622.8" y="555.41" width="3.4" height="8.27" fill="#5E9E80"/><text x="1631.8" y="562.24" font-size="8.75" fill="#333" stroke="#333" stroke-width="0.24">Dorea</text><rect x="1622.8" y="563.67" width="3.4" height="8.27" fill="#9ADCF0"/><text x="1631.8" y="570.5" font-size="8.75" fill="#333" stroke="#333" stroke-width="0.24">Lactobacillus</text><rect x="1622.8" y="571.94" width="3.4" height="8.27" fill="#70A830"/><text x="1631.8" y="578.77" font-size="8.75" fill="#333" stroke="#333" stroke-width="0.24">Clostridium</text><rect x="1622.8" y="580.21" width="3.4" height="8.27" fill="#4A2420"/><text x="1631.8" y="587.04" font-size="8.75" fill="#333" stroke="#333" stroke-width="0.24">Anaerotruncus</text><rect x="1622.8" y="588.48" width="3.4" height="8.27" fill="#D87838"/><text x="1631.8" y="595.31" font-size="8.75" fill="#333" stroke="#333" stroke-width="0.24">Anaerotignum</text><rect x="1622.8" y="596.74" width="3.4" height="8.27" fill="#E8E040"/><text x="1631.8" y="603.57" font-size="8.75" fill="#333" stroke="#333" stroke-width="0.24">Colidextribacter</text><rect x="1622.8" y="605.01" width="3.4" height="8.27" fill="#407850"/><text x="1631.8" y="611.84" font-size="8.75" fill="#333" stroke="#333" stroke-width="0.24">Marvinbryantia</text><rect x="1622.8" y="613.28" width="3.4" height="8.27" fill="#C8B8F0"/><text x="1631.8" y="620.11" font-size="8.75" fill="#333" stroke="#333" stroke-width="0.24">Helicobacter</text><rect x="1622.8" y="621.54" width="3.4" height="8.27" fill="#8C7020"/><text x="1631.8" y="628.37" font-size="8.75" fill="#333" stroke="#333" stroke-width="0.24">Erysipelatoclostridium</text><rect x="1622.8" y="629.81" width="3.4" height="8.27" fill="#404060"/><text x="1631.8" y="636.64" font-size="8.75" fill="#333" stroke="#333" stroke-width="0.24">Intestinimonas</text><rect x="1622.8" y="638.08" width="3.4" height="8.27" fill="#B050E8"/><text x="1631.8" y="644.91" font-size="8.75" fill="#333" stroke="#333" stroke-width="0.24">Klebsiella</text><rect x="1622.8" y="646.34" width="3.4" height="8.27" fill="#5888A8"/><text x="1631.8" y="653.17" font-size="8.75" fill="#333" stroke="#333" stroke-width="0.24">Faecalibacterium</text><rect x="1622.8" y="654.61" width="3.4" height="8.27" fill="#DCE4DC"/><text x="1631.8" y="661.44" font-size="8.75" fill="#333" stroke="#333" stroke-width="0.24">Roseburia</text><rect x="1622.8" y="662.88" width="3.4" height="8.27" fill="#884818"/><text x="1631.8" y="669.71" font-size="8.75" fill="#333" stroke="#333" stroke-width="0.24">Monoglobus</text><rect x="1622.8" y="671.14" width="3.4" height="8.27" fill="#F0C8C8"/><text x="1631.8" y="677.98" font-size="8.75" fill="#333" stroke="#333" stroke-width="0.24">Dubosiella</text><rect x="1622.8" y="679.41" width="3.4" height="8.27" fill="#507828"/><text x="1631.8" y="686.24" font-size="8.75" fill="#333" stroke="#333" stroke-width="0.24">Odoribacter</text><rect x="1622.8" y="687.68" width="3.4" height="8.27" fill="#802020"/><text x="1631.8" y="694.51" font-size="8.75" fill="#333" stroke="#333" stroke-width="0.24">Bifidobacterium</text><rect x="1622.8" y="695.95" width="3.4" height="8.27" fill="#E05050"/><text x="1631.8" y="702.78" font-size="8.75" fill="#333" stroke="#333" stroke-width="0.24">Corynebacterium</text><rect x="1622.8" y="704.21" width="3.4" height="8.27" fill="#90E850"/><text x="1631.8" y="711.04" font-size="8.75" fill="#333" stroke="#333" stroke-width="0.24">Tuzzerella</text><rect x="1622.8" y="712.48" width="3.4" height="8.27" fill="#4838A0"/><text x="1631.8" y="719.31" font-size="8.75" fill="#333" stroke="#333" stroke-width="0.24">Others</text></g>
<g id="pi"><text x="24.6" y="804.6" font-size="25.5" fill="#111" stroke="#111" stroke-width="0.71">I</text><rect x="72.9" y="844.4" width="61.61" height="10.9" fill="#C74694"/><rect x="134.46" y="844.4" width="61.61" height="10.9" fill="#8CB3D9"/><rect x="196.02" y="844.4" width="61.61" height="10.9" fill="#6E6FDB"/><rect x="257.58" y="844.4" width="61.61" height="10.9" fill="#D8A43C"/><rect x="319.14" y="844.4" width="61.61" height="10.9" fill="#95DCCC"/><text x="386.8" y="854.2" font-size="11.3" fill="#222" font-weight="bold" stroke="#222" stroke-width="0.32">Group</text><rect x="72.9" y="859.3" width="61.61" height="25.35" fill="#8A0541"/><rect x="134.46" y="859.3" width="61.61" height="25.35" fill="#B0D9A4"/><rect x="196.02" y="859.3" width="61.61" height="25.35" fill="#B0D9A4"/><rect x="257.58" y="859.3" width="61.61" height="25.35" fill="#B0D9A4"/><rect x="319.14" y="859.3" width="61.61" height="25.35" fill="#B0D9A4"/><rect x="72.9" y="884.6" width="61.61" height="25.35" fill="#8A0541"/><rect x="134.46" y="884.6" width="61.61" height="25.35" fill="#B0D9A4"/><rect x="196.02" y="884.6" width="61.61" height="25.35" fill="#B0D9A4"/><rect x="257.58" y="884.6" width="61.61" height="25.35" fill="#B0D9A4"/><rect x="319.14" y="884.6" width="61.61" height="25.35" fill="#B0D9A4"/><rect x="72.9" y="909.9" width="61.61" height="25.35" fill="#9A1844"/><rect x="134.46" y="909.9" width="61.61" height="25.35" fill="#DEDD9A"/><rect x="196.02" y="909.9" width="61.61" height="25.35" fill="#70A4B0"/><rect x="257.58" y="909.9" width="61.61" height="25.35" fill="#BCD9A0"/><rect x="319.14" y="909.9" width="61.61" height="25.35" fill="#DEDD9A"/><rect x="72.9" y="935.2" width="61.61" height="25.35" fill="#C4504C"/><rect x="134.46" y="935.2" width="61.61" height="25.35" fill="#EEC880"/><rect x="196.02" y="935.2" width="61.61" height="25.35" fill="#E09860"/><rect x="257.58" y="935.2" width="61.61" height="25.35" fill="#78ACA8"/><rect x="319.14" y="935.2" width="61.61" height="25.35" fill="#6094B4"/><rect x="72.9" y="960.5" width="61.61" height="25.35" fill="#A02048"/><rect x="134.46" y="960.5" width="61.61" height="25.35" fill="#DADE9C"/><rect x="196.02" y="960.5" width="61.61" height="25.35" fill="#DADE9C"/><rect x="257.58" y="960.5" width="61.61" height="25.35" fill="#E8DC94"/><rect x="319.14" y="960.5" width="61.61" height="25.35" fill="#5C8CB8"/><rect x="72.9" y="985.8" width="61.61" height="25.35" fill="#DCE09C"/><rect x="134.46" y="985.8" width="61.61" height="25.35" fill="#E09058"/><rect x="196.02" y="985.8" width="61.61" height="25.35" fill="#E09058"/><rect x="257.58" y="985.8" width="61.61" height="25.35" fill="#5C50A0"/><rect x="319.14" y="985.8" width="61.61" height="25.35" fill="#E8AC68"/><rect x="72.9" y="1011.1" width="61.61" height="25.35" fill="#E8AC68"/><rect x="134.46" y="1011.1" width="61.61" height="25.35" fill="#C0DCA0"/><rect x="196.02" y="1011.1" width="61.61" height="25.35" fill="#C04C4C"/><rect x="257.58" y="1011.1" width="61.61" height="25.35" fill="#5670B0"/><rect x="319.14" y="1011.1" width="61.61" height="25.35" fill="#EEDC90"/><rect x="72.9" y="1036.4" width="61.61" height="25.35" fill="#80B8A8"/><rect x="134.46" y="1036.4" width="61.61" height="25.35" fill="#EECC84"/><rect x="196.02" y="1036.4" width="61.61" height="25.35" fill="#A02448"/><rect x="257.58" y="1036.4" width="61.61" height="25.35" fill="#80B8A8"/><rect x="319.14" y="1036.4" width="61.61" height="25.35" fill="#EEDC90"/><rect x="72.9" y="1061.7" width="61.61" height="25.35" fill="#D8E09C"/><rect x="134.46" y="1061.7" width="61.61" height="25.35" fill="#94C8A4"/><rect x="196.02" y="1061.7" width="61.61" height="25.35" fill="#8B0A42"/><rect x="257.58" y="1061.7" width="61.61" height="25.35" fill="#94C8A4"/><rect x="319.14" y="1061.7" width="61.61" height="25.35" fill="#CCDCA0"/><rect x="72.9" y="1087" width="61.61" height="25.35" fill="#6498B4"/><rect x="134.46" y="1087" width="61.61" height="25.35" fill="#B0D9A4"/><rect x="196.02" y="1087" width="61.61" height="25.35" fill="#AC304C"/><rect x="257.58" y="1087" width="61.61" height="25.35" fill="#E8AC68"/><rect x="319.14" y="1087" width="61.61" height="25.35" fill="#B4DAA4"/><rect x="72.9" y="1112.3" width="61.61" height="25.35" fill="#84BCA8"/><rect x="134.46" y="1112.3" width="61.61" height="25.35" fill="#5880B8"/><rect x="196.02" y="1112.3" width="61.61" height="25.35" fill="#EECC84"/><rect x="257.58" y="1112.3" width="61.61" height="25.35" fill="#E08C58"/><rect x="319.14" y="1112.3" width="61.61" height="25.35" fill="#D06048"/><rect x="72.9" y="1137.6" width="61.61" height="25.35" fill="#B0D9A4"/><rect x="134.46" y="1137.6" width="61.61" height="25.35" fill="#8A0541"/><rect x="196.02" y="1137.6" width="61.61" height="25.35" fill="#B0D9A4"/><rect x="257.58" y="1137.6" width="61.61" height="25.35" fill="#B0D9A4"/><rect x="319.14" y="1137.6" width="61.61" height="25.35" fill="#B0D9A4"/><rect x="72.9" y="1162.9" width="61.61" height="25.35" fill="#B0D9A4"/><rect x="134.46" y="1162.9" width="61.61" height="25.35" fill="#8A0541"/><rect x="196.02" y="1162.9" width="61.61" height="25.35" fill="#B0D9A4"/><rect x="257.58" y="1162.9" width="61.61" height="25.35" fill="#B0D9A4"/><rect x="319.14" y="1162.9" width="61.61" height="25.35" fill="#B0D9A4"/><rect x="72.9" y="1188.2" width="61.61" height="25.35" fill="#E8B06C"/><rect x="134.46" y="1188.2" width="61.61" height="25.35" fill="#B03C4C"/><rect x="196.02" y="1188.2" width="61.61" height="25.35" fill="#84BCA8"/><rect x="257.58" y="1188.2" width="61.61" height="25.35" fill="#E8DC94"/><rect x="319.14" y="1188.2" width="61.61" height="25.35" fill="#70A4B0"/><rect x="72.9" y="1213.5" width="61.61" height="25.35" fill="#EEDC90"/><rect x="134.46" y="1213.5" width="61.61" height="25.35" fill="#C04C4C"/><rect x="196.02" y="1213.5" width="61.61" height="25.35" fill="#E09058"/><rect x="257.58" y="1213.5" width="61.61" height="25.35" fill="#74A8AC"/><rect x="319.14" y="1213.5" width="61.61" height="25.35" fill="#74A8AC"/><rect x="72.9" y="1238.8" width="61.61" height="25.35" fill="#94C8A4"/><rect x="134.46" y="1238.8" width="61.61" height="25.35" fill="#B03C4C"/><rect x="196.02" y="1238.8" width="61.61" height="25.35" fill="#94C8A4"/><rect x="257.58" y="1238.8" width="61.61" height="25.35" fill="#E08C58"/><rect x="319.14" y="1238.8" width="61.61" height="25.35" fill="#94C8A4"/><rect x="72.9" y="1264.1" width="61.61" height="25.35" fill="#80B4A8"/><rect x="134.46" y="1264.1" width="61.61" height="25.35" fill="#A42448"/><rect x="196.02" y="1264.1" width="61.61" height="25.35" fill="#E4DC94"/><rect x="257.58" y="1264.1" width="61.61" height="25.35" fill="#EEC880"/><rect x="319.14" y="1264.1" width="61.61" height="25.35" fill="#80B8A8"/><rect x="72.9" y="1289.4" width="61.61" height="25.35" fill="#94C8A4"/><rect x="134.46" y="1289.4" width="61.61" height="25.35" fill="#E08C58"/><rect x="196.02" y="1289.4" width="61.61" height="25.35" fill="#94C8A4"/><rect x="257.58" y="1289.4" width="61.61" height="25.35" fill="#B0384C"/><rect x="319.14" y="1289.4" width="61.61" height="25.35" fill="#94C8A4"/><path d="M72.9 884.6H380.7M72.9 909.9H380.7M72.9 935.2H380.7M72.9 960.5H380.7M72.9 985.8H380.7M72.9 1011.1H380.7M72.9 1036.4H380.7M72.9 1061.7H380.7M72.9 1087H380.7M72.9 1112.3H380.7M72.9 1137.6H380.7M72.9 1162.9H380.7M72.9 1188.2H380.7M72.9 1213.5H380.7M72.9 1238.8H380.7M72.9 1264.1H380.7M72.9 1289.4H380.7M134.46 859.3V1314.7M196.02 859.3V1314.7M257.58 859.3V1314.7M319.14 859.3V1314.7" fill="none" stroke="#1E3A30" stroke-width="0.55" stroke-opacity="0.5"/><text x="386.8" y="876.09" font-size="11.5" fill="#333" stroke="#333" stroke-width="0.32">Elusimicrobiota</text><text x="386.8" y="901.39" font-size="11.5" fill="#333" stroke="#333" stroke-width="0.32">Campylobacterota</text><text x="386.8" y="926.69" font-size="11.5" fill="#333" stroke="#333" stroke-width="0.32">Deferribacterota</text><text x="386.8" y="951.99" font-size="11.5" fill="#333" stroke="#333" stroke-width="0.32">Cyanobacteria</text><text x="386.8" y="977.29" font-size="11.5" fill="#333" stroke="#333" stroke-width="0.32">Actinobacteriota</text><text x="386.8" y="1002.59" font-size="11.5" fill="#333" stroke="#333" stroke-width="0.32">Acidobacteriota</text><text x="386.8" y="1027.89" font-size="11.5" fill="#333" stroke="#333" stroke-width="0.32">Proteobacteria</text><text x="386.8" y="1053.19" font-size="11.5" fill="#333" stroke="#333" stroke-width="0.32">Patescibacteria</text><text x="386.8" y="1078.49" font-size="11.5" fill="#333" stroke="#333" stroke-width="0.32">Verrucomicrobiota</text><text x="386.8" y="1103.79" font-size="11.5" fill="#333" stroke="#333" stroke-width="0.32">Desulfobacterota</text><text x="386.8" y="1129.09" font-size="11.5" fill="#333" stroke="#333" stroke-width="0.32">Firmicutes</text><text x="386.8" y="1154.39" font-size="11.5" fill="#333" stroke="#333" stroke-width="0.32">NB1−j</text><text x="386.8" y="1179.69" font-size="11.5" fill="#333" stroke="#333" stroke-width="0.32">Deinococcota</text><text x="386.8" y="1204.99" font-size="11.5" fill="#333" stroke="#333" stroke-width="0.32">Bacteroidota</text><text x="386.8" y="1230.29" font-size="11.5" fill="#333" stroke="#333" stroke-width="0.32">Chloroflexi</text><text x="386.8" y="1255.59" font-size="11.5" fill="#333" stroke="#333" stroke-width="0.32">Planctomycetota</text><text x="386.8" y="1280.89" font-size="11.5" fill="#333" stroke="#333" stroke-width="0.32">Gemmatimonadota</text><text x="386.8" y="1306.19" font-size="11.5" fill="#333" stroke="#333" stroke-width="0.32">Deferrisomatota</text><text x="107.28" y="1319.5" font-size="10.3" fill="#333" transform="rotate(-90 107.28 1319.5)" text-anchor="end" stroke="#333" stroke-width="0.29">Ctrl2</text><text x="168.84" y="1319.5" font-size="10.3" fill="#333" transform="rotate(-90 168.84 1319.5)" text-anchor="end" stroke="#333" stroke-width="0.29">Gly</text><text x="230.4" y="1319.5" font-size="10.3" fill="#333" transform="rotate(-90 230.4 1319.5)" text-anchor="end" stroke="#333" stroke-width="0.29">Pla</text><text x="291.96" y="1319.5" font-size="10.3" fill="#333" transform="rotate(-90 291.96 1319.5)" text-anchor="end" stroke="#333" stroke-width="0.29">Ctrl1</text><text x="353.52" y="1319.5" font-size="10.3" fill="#333" transform="rotate(-90 353.52 1319.5)" text-anchor="end" stroke="#333" stroke-width="0.29">Sep</text><path d="M63.9 871.95H53.4V897.25H63.9" fill="none" stroke="#3A3A3A" stroke-width="1"/><path d="M53.4 884.6H44.5V922.55H63.9" fill="none" stroke="#3A3A3A" stroke-width="1"/><path d="M63.9 947.85H53.4V973.15H63.9" fill="none" stroke="#3A3A3A" stroke-width="1"/><path d="M44.5 903.57H34.9V960.5H53.4" fill="none" stroke="#3A3A3A" stroke-width="1"/><path d="M63.9 998.45H53.4V1023.75H63.9" fill="none" stroke="#3A3A3A" stroke-width="1"/><path d="M34.9 932.04H24.8V1011.1H53.4" fill="none" stroke="#3A3A3A" stroke-width="1"/><path d="M63.9 1049.05H53.4V1074.35H63.9" fill="none" stroke="#3A3A3A" stroke-width="1"/><path d="M53.4 1061.7H44.5V1099.65H63.9" fill="none" stroke="#3A3A3A" stroke-width="1"/><path d="M44.5 1080.67H34.9V1124.95H63.9" fill="none" stroke="#3A3A3A" stroke-width="1"/><path d="M24.8 971.57H15.2V1102.81H34.9" fill="none" stroke="#3A3A3A" stroke-width="1"/><path d="M63.9 1150.25H53.4V1175.55H63.9" fill="none" stroke="#3A3A3A" stroke-width="1"/><path d="M53.4 1162.9H44.5V1200.85H63.9" fill="none" stroke="#3A3A3A" stroke-width="1"/><path d="M44.5 1181.88H34.9V1226.15H63.9" fill="none" stroke="#3A3A3A" stroke-width="1"/><path d="M63.9 1251.45H53.4V1276.75H63.9" fill="none" stroke="#3A3A3A" stroke-width="1"/><path d="M53.4 1264.1H44.5V1302.05H63.9" fill="none" stroke="#3A3A3A" stroke-width="1"/><path d="M34.9 1204.01H24.8V1283.07H44.5" fill="none" stroke="#3A3A3A" stroke-width="1"/><path d="M15.2 1037.19H4.8V1243.54H24.8" fill="none" stroke="#3A3A3A" stroke-width="1"/><text x="498.3" y="1014.4" font-size="7.3" fill="#222" font-weight="bold" stroke="#222" stroke-width="0.2">Group</text><rect x="498.3" y="1021" width="5.6" height="7.05" fill="#C74694"/><text x="507.8" y="1027" font-size="7.4" fill="#333" stroke="#333" stroke-width="0.21">Ctrl2</text><rect x="498.3" y="1028.05" width="5.6" height="7.05" fill="#8CB3D9"/><text x="507.8" y="1034.05" font-size="7.4" fill="#333" stroke="#333" stroke-width="0.21">Gly</text><rect x="498.3" y="1035.1" width="5.6" height="7.05" fill="#6E6FDB"/><text x="507.8" y="1041.1" font-size="7.4" fill="#333" stroke="#333" stroke-width="0.21">Pla</text><rect x="498.3" y="1042.15" width="5.6" height="7.05" fill="#D8A43C"/><text x="507.8" y="1048.15" font-size="7.4" fill="#333" stroke="#333" stroke-width="0.21">Ctrl1</text><rect x="498.3" y="1049.2" width="5.6" height="7.05" fill="#95DCCC"/><text x="507.8" y="1055.2" font-size="7.4" fill="#333" stroke="#333" stroke-width="0.21">Sep</text><text x="498.3" y="1067.8" font-size="7.3" fill="#222" font-weight="bold" stroke="#222" stroke-width="0.2">Relative Abundance (z−sco</text><defs><linearGradient id="zgI" x1="0" y1="1" x2="0" y2="0"><stop offset="0" stop-color="#5C4FA0"/><stop offset="0.11" stop-color="#5878B4"/><stop offset="0.16" stop-color="#6898B8"/><stop offset="0.22" stop-color="#78B0A8"/><stop offset="0.28" stop-color="#90C8A4"/><stop offset="0.35" stop-color="#B0D9A4"/><stop offset="0.45" stop-color="#D8E09C"/><stop offset="0.51" stop-color="#E8E098"/><stop offset="0.57" stop-color="#EED088"/><stop offset="0.66" stop-color="#E8A868"/><stop offset="0.74" stop-color="#E08858"/><stop offset="0.8" stop-color="#D0584C"/><stop offset="0.9" stop-color="#B0304C"/><stop offset="1" stop-color="#8B0A42"/></linearGradient></defs><rect x="498.3" y="1075.3" width="5.6" height="76.6" fill="url(#zgI)"/><text x="508" y="1094.5" font-size="7" fill="#333" stroke="#333" stroke-width="0.2">1</text><text x="508" y="1117.1" font-size="7" fill="#333" stroke="#333" stroke-width="0.2">0</text><text x="508" y="1139.3" font-size="7" fill="#333" stroke="#333" stroke-width="0.2">−1</text><text x="618.6" y="811.5" font-size="25.5" fill="#111" stroke="#111" stroke-width="0.71">J</text><rect x="680.7" y="844.4" width="46.55" height="10.9" fill="#C74694"/><rect x="727.2" y="844.4" width="46.55" height="10.9" fill="#8CB3D9"/><rect x="773.7" y="844.4" width="46.55" height="10.9" fill="#6E6FDB"/><rect x="820.2" y="844.4" width="46.55" height="10.9" fill="#D8A43C"/><rect x="866.7" y="844.4" width="46.55" height="10.9" fill="#95DCCC"/><text x="918" y="854.2" font-size="11.3" fill="#222" font-weight="bold" stroke="#222" stroke-width="0.32">Group</text><rect x="680.7" y="858.1" width="46.55" height="14.79" fill="#9ACDA5"/><rect x="727.2" y="858.1" width="46.55" height="14.79" fill="#9ACDA5"/><rect x="773.7" y="858.1" width="46.55" height="14.79" fill="#9ACDA5"/><rect x="820.2" y="858.1" width="46.55" height="14.79" fill="#8A0541"/><rect x="866.7" y="858.1" width="46.55" height="14.79" fill="#9ACDA5"/><rect x="680.7" y="872.84" width="46.55" height="14.79" fill="#9ACDA5"/><rect x="727.2" y="872.84" width="46.55" height="14.79" fill="#9ACDA5"/><rect x="773.7" y="872.84" width="46.55" height="14.79" fill="#9ACDA5"/><rect x="820.2" y="872.84" width="46.55" height="14.79" fill="#8A0541"/><rect x="866.7" y="872.84" width="46.55" height="14.79" fill="#9ACDA5"/><rect x="680.7" y="887.58" width="46.55" height="14.79" fill="#9ACDA5"/><rect x="727.2" y="887.58" width="46.55" height="14.79" fill="#9ACDA5"/><rect x="773.7" y="887.58" width="46.55" height="14.79" fill="#9ACDA5"/><rect x="820.2" y="887.58" width="46.55" height="14.79" fill="#8A0541"/><rect x="866.7" y="887.58" width="46.55" height="14.79" fill="#9ACDA5"/><rect x="680.7" y="902.32" width="46.55" height="14.79" fill="#9ACDA5"/><rect x="727.2" y="902.32" width="46.55" height="14.79" fill="#9ACDA5"/><rect x="773.7" y="902.32" width="46.55" height="14.79" fill="#9ACDA5"/><rect x="820.2" y="902.32" width="46.55" height="14.79" fill="#8A0541"/><rect x="866.7" y="902.32" width="46.55" height="14.79" fill="#9ACDA5"/><rect x="680.7" y="917.06" width="46.55" height="14.79" fill="#9ACDA5"/><rect x="727.2" y="917.06" width="46.55" height="14.79" fill="#9ACDA5"/><rect x="773.7" y="917.06" width="46.55" height="14.79" fill="#9ACDA5"/><rect x="820.2" y="917.06" width="46.55" height="14.79" fill="#8A0541"/><rect x="866.7" y="917.06" width="46.55" height="14.79" fill="#9ACDA5"/><rect x="680.7" y="931.8" width="46.55" height="14.79" fill="#9ACDA5"/><rect x="727.2" y="931.8" width="46.55" height="14.79" fill="#92C8A4"/><rect x="773.7" y="931.8" width="46.55" height="14.79" fill="#A2D2A6"/><rect x="820.2" y="931.8" width="46.55" height="14.79" fill="#8A0541"/><rect x="866.7" y="931.8" width="46.55" height="14.79" fill="#90C6A4"/><rect x="680.7" y="946.54" width="46.55" height="14.79" fill="#74ACAC"/><rect x="727.2" y="946.54" width="46.55" height="14.79" fill="#74ACAC"/><rect x="773.7" y="946.54" width="46.55" height="14.79" fill="#E08C58"/><rect x="820.2" y="946.54" width="46.55" height="14.79" fill="#C0484C"/><rect x="866.7" y="946.54" width="46.55" height="14.79" fill="#78B0AC"/><rect x="680.7" y="961.28" width="46.55" height="14.79" fill="#B4DAA4"/><rect x="727.2" y="961.28" width="46.55" height="14.79" fill="#B8DCA4"/><rect x="773.7" y="961.28" width="46.55" height="14.79" fill="#CC5C4C"/><rect x="820.2" y="961.28" width="46.55" height="14.79" fill="#E49860"/><rect x="866.7" y="961.28" width="46.55" height="14.79" fill="#5C509C"/><rect x="680.7" y="976.02" width="46.55" height="14.79" fill="#98CCA4"/><rect x="727.2" y="976.02" width="46.55" height="14.79" fill="#9ACDA5"/><rect x="773.7" y="976.02" width="46.55" height="14.79" fill="#8A0541"/><rect x="820.2" y="976.02" width="46.55" height="14.79" fill="#9CCEA4"/><rect x="866.7" y="976.02" width="46.55" height="14.79" fill="#9ACDA5"/><rect x="680.7" y="990.76" width="46.55" height="14.79" fill="#88C0A8"/><rect x="727.2" y="990.76" width="46.55" height="14.79" fill="#E8DE98"/><rect x="773.7" y="990.76" width="46.55" height="14.79" fill="#941644"/><rect x="820.2" y="990.76" width="46.55" height="14.79" fill="#88C0A8"/><rect x="866.7" y="990.76" width="46.55" height="14.79" fill="#88C0A8"/><rect x="680.7" y="1005.5" width="46.55" height="14.79" fill="#70A8B0"/><rect x="727.2" y="1005.5" width="46.55" height="14.79" fill="#C8DEA0"/><rect x="773.7" y="1005.5" width="46.55" height="14.79" fill="#9C1C46"/><rect x="820.2" y="1005.5" width="46.55" height="14.79" fill="#E6DE98"/><rect x="866.7" y="1005.5" width="46.55" height="14.79" fill="#6C9CB4"/><rect x="680.7" y="1020.24" width="46.55" height="14.79" fill="#C4DEA0"/><rect x="727.2" y="1020.24" width="46.55" height="14.79" fill="#EEDC90"/><rect x="773.7" y="1020.24" width="46.55" height="14.79" fill="#A02448"/><rect x="820.2" y="1020.24" width="46.55" height="14.79" fill="#A0D0A4"/><rect x="866.7" y="1020.24" width="46.55" height="14.79" fill="#5474B0"/><rect x="680.7" y="1034.98" width="46.55" height="14.79" fill="#B4DAA4"/><rect x="727.2" y="1034.98" width="46.55" height="14.79" fill="#6498B4"/><rect x="773.7" y="1034.98" width="46.55" height="14.79" fill="#AC304C"/><rect x="820.2" y="1034.98" width="46.55" height="14.79" fill="#EEC078"/><rect x="866.7" y="1034.98" width="46.55" height="14.79" fill="#6498B4"/><rect x="680.7" y="1049.72" width="46.55" height="14.79" fill="#EEB46C"/><rect x="727.2" y="1049.72" width="46.55" height="14.79" fill="#5C88B8"/><rect x="773.7" y="1049.72" width="46.55" height="14.79" fill="#C0484C"/><rect x="820.2" y="1049.72" width="46.55" height="14.79" fill="#EEDC8C"/><rect x="866.7" y="1049.72" width="46.55" height="14.79" fill="#5C88B8"/><rect x="680.7" y="1064.46" width="46.55" height="14.79" fill="#6498B4"/><rect x="727.2" y="1064.46" width="46.55" height="14.79" fill="#84BCA8"/><rect x="773.7" y="1064.46" width="46.55" height="14.79" fill="#C4504C"/><rect x="820.2" y="1064.46" width="46.55" height="14.79" fill="#80B8A8"/><rect x="866.7" y="1064.46" width="46.55" height="14.79" fill="#E07C50"/><rect x="680.7" y="1079.2" width="46.55" height="14.79" fill="#5478B4"/><rect x="727.2" y="1079.2" width="46.55" height="14.79" fill="#6CA0B0"/><rect x="773.7" y="1079.2" width="46.55" height="14.79" fill="#DCE09C"/><rect x="820.2" y="1079.2" width="46.55" height="14.79" fill="#E8A060"/><rect x="866.7" y="1079.2" width="46.55" height="14.79" fill="#C4504C"/><rect x="680.7" y="1093.94" width="46.55" height="14.79" fill="#C4DEA0"/><rect x="727.2" y="1093.94" width="46.55" height="14.79" fill="#901044"/><rect x="773.7" y="1093.94" width="46.55" height="14.79" fill="#A4D2A6"/><rect x="820.2" y="1093.94" width="46.55" height="14.79" fill="#A0D0A4"/><rect x="866.7" y="1093.94" width="46.55" height="14.79" fill="#70A4B0"/><rect x="680.7" y="1108.68" width="46.55" height="14.79" fill="#CCDEA0"/><rect x="727.2" y="1108.68" width="46.55" height="14.79" fill="#8E0E44"/><rect x="773.7" y="1108.68" width="46.55" height="14.79" fill="#8CC4A6"/><rect x="820.2" y="1108.68" width="46.55" height="14.79" fill="#90C6A6"/><rect x="866.7" y="1108.68" width="46.55" height="14.79" fill="#8CC4A6"/><rect x="680.7" y="1123.42" width="46.55" height="14.79" fill="#E6DE98"/><rect x="727.2" y="1123.42" width="46.55" height="14.79" fill="#A82C4C"/><rect x="773.7" y="1123.42" width="46.55" height="14.79" fill="#6CA0B0"/><rect x="820.2" y="1123.42" width="46.55" height="14.79" fill="#F4D080"/><rect x="866.7" y="1123.42" width="46.55" height="14.79" fill="#5C88B8"/><rect x="680.7" y="1138.16" width="46.55" height="14.79" fill="#CC5848"/><rect x="727.2" y="1138.16" width="46.55" height="14.79" fill="#D86C4C"/><rect x="773.7" y="1138.16" width="46.55" height="14.79" fill="#7AB0AC"/><rect x="820.2" y="1138.16" width="46.55" height="14.79" fill="#7AB0AC"/><rect x="866.7" y="1138.16" width="46.55" height="14.79" fill="#78AEAC"/><rect x="680.7" y="1152.9" width="46.55" height="14.79" fill="#E08050"/><rect x="727.2" y="1152.9" width="46.55" height="14.79" fill="#ECA864"/><rect x="773.7" y="1152.9" width="46.55" height="14.79" fill="#E89C5C"/><rect x="820.2" y="1152.9" width="46.55" height="14.79" fill="#6CA0B0"/><rect x="866.7" y="1152.9" width="46.55" height="14.79" fill="#5C58A4"/><rect x="680.7" y="1167.64" width="46.55" height="14.79" fill="#DC7048"/><rect x="727.2" y="1167.64" width="46.55" height="14.79" fill="#F4CC7C"/><rect x="773.7" y="1167.64" width="46.55" height="14.79" fill="#E49058"/><rect x="820.2" y="1167.64" width="46.55" height="14.79" fill="#6094B8"/><rect x="866.7" y="1167.64" width="46.55" height="14.79" fill="#5868AC"/><rect x="680.7" y="1182.38" width="46.55" height="14.79" fill="#D86848"/><rect x="727.2" y="1182.38" width="46.55" height="14.79" fill="#ECA464"/><rect x="773.7" y="1182.38" width="46.55" height="14.79" fill="#F0C878"/><rect x="820.2" y="1182.38" width="46.55" height="14.79" fill="#649CB4"/><rect x="866.7" y="1182.38" width="46.55" height="14.79" fill="#5864A8"/><rect x="680.7" y="1197.12" width="46.55" height="14.79" fill="#8A0541"/><rect x="727.2" y="1197.12" width="46.55" height="14.79" fill="#9ACDA5"/><rect x="773.7" y="1197.12" width="46.55" height="14.79" fill="#9ACDA5"/><rect x="820.2" y="1197.12" width="46.55" height="14.79" fill="#9ACDA5"/><rect x="866.7" y="1197.12" width="46.55" height="14.79" fill="#9ACDA5"/><rect x="680.7" y="1211.86" width="46.55" height="14.79" fill="#8A0541"/><rect x="727.2" y="1211.86" width="46.55" height="14.79" fill="#9ACDA5"/><rect x="773.7" y="1211.86" width="46.55" height="14.79" fill="#9ACDA5"/><rect x="820.2" y="1211.86" width="46.55" height="14.79" fill="#9ACDA5"/><rect x="866.7" y="1211.86" width="46.55" height="14.79" fill="#9ACDA5"/><rect x="680.7" y="1226.6" width="46.55" height="14.79" fill="#8A0541"/><rect x="727.2" y="1226.6" width="46.55" height="14.79" fill="#9ACDA5"/><rect x="773.7" y="1226.6" width="46.55" height="14.79" fill="#A8D4A6"/><rect x="820.2" y="1226.6" width="46.55" height="14.79" fill="#9ACDA5"/><rect x="866.7" y="1226.6" width="46.55" height="14.79" fill="#90C8A6"/><rect x="680.7" y="1241.34" width="46.55" height="14.79" fill="#8E0842"/><rect x="727.2" y="1241.34" width="46.55" height="14.79" fill="#90C8A6"/><rect x="773.7" y="1241.34" width="46.55" height="14.79" fill="#8CC4A6"/><rect x="820.2" y="1241.34" width="46.55" height="14.79" fill="#C4DEA0"/><rect x="866.7" y="1241.34" width="46.55" height="14.79" fill="#8CC4A6"/><rect x="680.7" y="1256.08" width="46.55" height="14.79" fill="#9C1E46"/><rect x="727.2" y="1256.08" width="46.55" height="14.79" fill="#EEDE90"/><rect x="773.7" y="1256.08" width="46.55" height="14.79" fill="#DCE09C"/><rect x="820.2" y="1256.08" width="46.55" height="14.79" fill="#649CB4"/><rect x="866.7" y="1256.08" width="46.55" height="14.79" fill="#6498B4"/><rect x="680.7" y="1270.82" width="46.55" height="14.79" fill="#B0344C"/><rect x="727.2" y="1270.82" width="46.55" height="14.79" fill="#6498B4"/><rect x="773.7" y="1270.82" width="46.55" height="14.79" fill="#5880B8"/><rect x="820.2" y="1270.82" width="46.55" height="14.79" fill="#F4D080"/><rect x="866.7" y="1270.82" width="46.55" height="14.79" fill="#E4E098"/><rect x="680.7" y="1285.56" width="46.55" height="14.79" fill="#C0484C"/><rect x="727.2" y="1285.56" width="46.55" height="14.79" fill="#8CC4A6"/><rect x="773.7" y="1285.56" width="46.55" height="14.79" fill="#8CC4A6"/><rect x="820.2" y="1285.56" width="46.55" height="14.79" fill="#5C88B8"/><rect x="866.7" y="1285.56" width="46.55" height="14.79" fill="#E49058"/><path d="M680.7 872.84H913.2M680.7 887.58H913.2M680.7 902.32H913.2M680.7 917.06H913.2M680.7 931.8H913.2M680.7 946.54H913.2M680.7 961.28H913.2M680.7 976.02H913.2M680.7 990.76H913.2M680.7 1005.5H913.2M680.7 1020.24H913.2M680.7 1034.98H913.2M680.7 1049.72H913.2M680.7 1064.46H913.2M680.7 1079.2H913.2M680.7 1093.94H913.2M680.7 1108.68H913.2M680.7 1123.42H913.2M680.7 1138.16H913.2M680.7 1152.9H913.2M680.7 1167.64H913.2M680.7 1182.38H913.2M680.7 1197.12H913.2M680.7 1211.86H913.2M680.7 1226.6H913.2M680.7 1241.34H913.2M680.7 1256.08H913.2M680.7 1270.82H913.2M680.7 1285.56H913.2M727.2 858.1V1300.3M773.7 858.1V1300.3M820.2 858.1V1300.3M866.7 858.1V1300.3" fill="none" stroke="#1E3A30" stroke-width="0.55" stroke-opacity="0.5"/><text x="918.2" y="869.61" font-size="11.5" fill="#333" stroke="#333" stroke-width="0.32">Dubosiella</text><text x="918.2" y="884.35" font-size="11.5" fill="#333" stroke="#333" stroke-width="0.32">Erysipelatoclostridium</text><text x="918.2" y="899.09" font-size="11.5" fill="#333" stroke="#333" stroke-width="0.32">Eisenbergiella</text><text x="918.2" y="913.83" font-size="11.5" fill="#333" stroke="#333" stroke-width="0.32">Odoribacter</text><text x="918.2" y="928.57" font-size="11.5" fill="#333" stroke="#333" stroke-width="0.32">Alistipes</text><text x="918.2" y="943.31" font-size="11.5" fill="#333" stroke="#333" stroke-width="0.32">Colidextribacter</text><text x="918.2" y="958.05" font-size="11.5" fill="#333" stroke="#333" stroke-width="0.32">Marvinbryantia</text><text x="918.2" y="972.79" font-size="11.5" fill="#333" stroke="#333" stroke-width="0.32">Lachnospiraceae_NK4A136_group</text><text x="918.2" y="987.53" font-size="11.5" fill="#333" stroke="#333" stroke-width="0.32">Dorea</text><text x="918.2" y="1002.27" font-size="11.5" fill="#333" stroke="#333" stroke-width="0.32">Escherichia−Shigella</text><text x="918.2" y="1017.01" font-size="11.5" fill="#333" stroke="#333" stroke-width="0.32">Tuzzerella</text><text x="918.2" y="1031.75" font-size="11.5" fill="#333" stroke="#333" stroke-width="0.32">Clostridium</text><text x="918.2" y="1046.49" font-size="11.5" fill="#333" stroke="#333" stroke-width="0.32">Intestinimonas</text><text x="918.2" y="1061.23" font-size="11.5" fill="#333" stroke="#333" stroke-width="0.32">Anaerotignum</text><text x="918.2" y="1075.97" font-size="11.5" fill="#333" stroke="#333" stroke-width="0.32">Streptococcus</text><text x="918.2" y="1090.71" font-size="11.5" fill="#333" stroke="#333" stroke-width="0.32">Ligilactobacillus</text><text x="918.2" y="1105.45" font-size="11.5" fill="#333" stroke="#333" stroke-width="0.32">Anaerotruncus</text><text x="918.2" y="1120.19" font-size="11.5" fill="#333" stroke="#333" stroke-width="0.32">Lactobacillus</text><text x="918.2" y="1134.93" font-size="11.5" fill="#333" stroke="#333" stroke-width="0.32">Bacteroides</text><text x="918.2" y="1149.67" font-size="11.5" fill="#333" stroke="#333" stroke-width="0.32">Parabacteroides</text><text x="918.2" y="1164.41" font-size="11.5" fill="#333" stroke="#333" stroke-width="0.32">Bifidobacterium</text><text x="918.2" y="1179.15" font-size="11.5" fill="#333" stroke="#333" stroke-width="0.32">Monoglobus</text><text x="918.2" y="1193.89" font-size="11.5" fill="#333" stroke="#333" stroke-width="0.32">Faecalibacterium</text><text x="918.2" y="1208.63" font-size="11.5" fill="#333" stroke="#333" stroke-width="0.32">Helicobacter</text><text x="918.2" y="1223.37" font-size="11.5" fill="#333" stroke="#333" stroke-width="0.32">Clostridium_sensu_stricto_1</text><text x="918.2" y="1238.11" font-size="11.5" fill="#333" stroke="#333" stroke-width="0.32">Roseburia</text><text x="918.2" y="1252.85" font-size="11.5" fill="#333" stroke="#333" stroke-width="0.32">Enterococcus</text><text x="918.2" y="1267.59" font-size="11.5" fill="#333" stroke="#333" stroke-width="0.32">Klebsiella</text><text x="918.2" y="1282.33" font-size="11.5" fill="#333" stroke="#333" stroke-width="0.32">Corynebacterium</text><text x="918.2" y="1297.07" font-size="11.5" fill="#333" stroke="#333" stroke-width="0.32">Rodentibacter</text><rect x="665.3" y="858.1" width="9.7" height="44.27" fill="#C74694"/><rect x="665.3" y="902.32" width="9.7" height="29.53" fill="#8CB3D9"/><rect x="665.3" y="931.8" width="9.7" height="59.01" fill="#C74694"/><rect x="665.3" y="990.76" width="9.7" height="14.79" fill="#6E6FDB"/><rect x="665.3" y="1005.5" width="9.7" height="117.97" fill="#C74694"/><rect x="665.3" y="1123.42" width="9.7" height="29.53" fill="#8CB3D9"/><rect x="665.3" y="1152.9" width="9.7" height="14.79" fill="#95DCCC"/><rect x="665.3" y="1167.64" width="9.7" height="29.53" fill="#C74694"/><rect x="665.3" y="1197.12" width="9.7" height="14.79" fill="#D8A43C"/><rect x="665.3" y="1211.86" width="9.7" height="44.27" fill="#C74694"/><rect x="665.3" y="1256.08" width="9.7" height="14.79" fill="#6E6FDB"/><rect x="665.3" y="1270.82" width="9.7" height="14.79" fill="#95DCCC"/><rect x="665.3" y="1285.56" width="9.7" height="14.79" fill="#6E6FDB"/><text x="707.55" y="1303.5" font-size="10.3" fill="#333" transform="rotate(-90 707.55 1303.5)" text-anchor="end" stroke="#333" stroke-width="0.29">Ctrl2</text><text x="754.05" y="1303.5" font-size="10.3" fill="#333" transform="rotate(-90 754.05 1303.5)" text-anchor="end" stroke="#333" stroke-width="0.29">Gly</text><text x="800.55" y="1303.5" font-size="10.3" fill="#333" transform="rotate(-90 800.55 1303.5)" text-anchor="end" stroke="#333" stroke-width="0.29">Pla</text><text x="847.05" y="1303.5" font-size="10.3" fill="#333" transform="rotate(-90 847.05 1303.5)" text-anchor="end" stroke="#333" stroke-width="0.29">Ctrl1</text><text x="893.55" y="1303.5" font-size="10.3" fill="#333" transform="rotate(-90 893.55 1303.5)" text-anchor="end" stroke="#333" stroke-width="0.29">Sep</text><text x="674" y="1303" font-size="10.6" fill="#222" transform="rotate(-90 674 1303)" font-weight="bold" text-anchor="end" stroke="#222" stroke-width="0.3">Phylum</text><path d="M661.7 865.47H656.2V880.21H661.7" fill="none" stroke="#3A3A3A" stroke-width="0.95"/><path d="M656.2 872.84H650.4V894.95H661.7" fill="none" stroke="#3A3A3A" stroke-width="0.95"/><path d="M661.7 909.69H656.2V924.43H661.7" fill="none" stroke="#3A3A3A" stroke-width="0.95"/><path d="M650.4 883.89H645.6V917.06H656.2" fill="none" stroke="#3A3A3A" stroke-width="0.95"/><path d="M645.6 900.48H640.1V939.17H661.7" fill="none" stroke="#3A3A3A" stroke-width="0.95"/><path d="M661.7 953.91H656.2V968.65H661.7" fill="none" stroke="#3A3A3A" stroke-width="0.95"/><path d="M640.1 919.82H634.8V961.28H656.2" fill="none" stroke="#3A3A3A" stroke-width="0.95"/><path d="M661.7 983.39H656.2V998.13H661.7" fill="none" stroke="#3A3A3A" stroke-width="0.95"/><path d="M656.2 990.76H650.4V1012.87H661.7" fill="none" stroke="#3A3A3A" stroke-width="0.95"/><path d="M650.4 1001.82H645.6V1027.61H661.7" fill="none" stroke="#3A3A3A" stroke-width="0.95"/><path d="M661.7 1042.35H656.2V1057.09H661.7" fill="none" stroke="#3A3A3A" stroke-width="0.95"/><path d="M645.6 1014.71H640.1V1049.72H656.2" fill="none" stroke="#3A3A3A" stroke-width="0.95"/><path d="M634.8 940.55H629.2V1032.22H640.1" fill="none" stroke="#3A3A3A" stroke-width="0.95"/><path d="M661.7 1071.83H656.2V1086.57H661.7" fill="none" stroke="#3A3A3A" stroke-width="0.95"/><path d="M629.2 986.38H623.7V1079.2H656.2" fill="none" stroke="#3A3A3A" stroke-width="0.95"/><path d="M661.7 1101.31H656.2V1116.05H661.7" fill="none" stroke="#3A3A3A" stroke-width="0.95"/><path d="M656.2 1108.68H650.4V1130.79H661.7" fill="none" stroke="#3A3A3A" stroke-width="0.95"/><path d="M650.4 1119.73H645.6V1145.53H661.7" fill="none" stroke="#3A3A3A" stroke-width="0.95"/><path d="M661.7 1160.27H656.2V1175.01H661.7" fill="none" stroke="#3A3A3A" stroke-width="0.95"/><path d="M656.2 1167.64H650.4V1189.75H661.7" fill="none" stroke="#3A3A3A" stroke-width="0.95"/><path d="M645.6 1132.63H640.1V1178.69H650.4" fill="none" stroke="#3A3A3A" stroke-width="0.95"/><path d="M661.7 1204.49H656.2V1219.23H661.7" fill="none" stroke="#3A3A3A" stroke-width="0.95"/><path d="M656.2 1211.86H650.4V1233.97H661.7" fill="none" stroke="#3A3A3A" stroke-width="0.95"/><path d="M650.4 1222.91H645.6V1248.71H661.7" fill="none" stroke="#3A3A3A" stroke-width="0.95"/><path d="M645.6 1235.81H640.1V1263.45H661.7" fill="none" stroke="#3A3A3A" stroke-width="0.95"/><path d="M661.7 1278.19H656.2V1292.93H661.7" fill="none" stroke="#3A3A3A" stroke-width="0.95"/><path d="M640.1 1249.63H634.8V1285.56H656.2" fill="none" stroke="#3A3A3A" stroke-width="0.95"/><path d="M640.1 1155.66H629.2V1267.6H634.8" fill="none" stroke="#3A3A3A" stroke-width="0.95"/><path d="M623.7 1032.79H617.9V1211.63H629.2" fill="none" stroke="#3A3A3A" stroke-width="0.95"/><text x="1111.3" y="979.3" font-size="7.3" fill="#222" font-weight="bold" stroke="#222" stroke-width="0.2">Phylum</text><rect x="1111.3" y="986" width="5.8" height="7.2" fill="#C74694"/><text x="1121.2" y="992.1" font-size="7.4" fill="#333" stroke="#333" stroke-width="0.21">Firmicutes</text><rect x="1111.3" y="993.2" width="5.8" height="7.2" fill="#8CB3D9"/><text x="1121.2" y="999.3" font-size="7.4" fill="#333" stroke="#333" stroke-width="0.21">Bacteroidota</text><rect x="1111.3" y="1000.4" width="5.8" height="7.2" fill="#6E6FDB"/><text x="1121.2" y="1006.5" font-size="7.4" fill="#333" stroke="#333" stroke-width="0.21">Proteobacteria</text><rect x="1111.3" y="1007.6" width="5.8" height="7.2" fill="#D8A43C"/><text x="1121.2" y="1013.7" font-size="7.4" fill="#333" stroke="#333" stroke-width="0.21">Campylobacterota</text><rect x="1111.3" y="1014.8" width="5.8" height="7.2" fill="#95DCCC"/><text x="1121.2" y="1020.9" font-size="7.4" fill="#333" stroke="#333" stroke-width="0.21">Actinobacteriota</text><text x="1111.3" y="1033.2" font-size="7.3" fill="#222" font-weight="bold" stroke="#222" stroke-width="0.2">Group</text><rect x="1111.3" y="1039.8" width="5.8" height="7.05" fill="#C74694"/><text x="1121.2" y="1045.8" font-size="7.4" fill="#333" stroke="#333" stroke-width="0.21">Ctrl2</text><rect x="1111.3" y="1046.85" width="5.8" height="7.05" fill="#8CB3D9"/><text x="1121.2" y="1052.85" font-size="7.4" fill="#333" stroke="#333" stroke-width="0.21">Gly</text><rect x="1111.3" y="1053.9" width="5.8" height="7.05" fill="#6E6FDB"/><text x="1121.2" y="1059.9" font-size="7.4" fill="#333" stroke="#333" stroke-width="0.21">Pla</text><rect x="1111.3" y="1060.95" width="5.8" height="7.05" fill="#D8A43C"/><text x="1121.2" y="1066.95" font-size="7.4" fill="#333" stroke="#333" stroke-width="0.21">Ctrl1</text><rect x="1111.3" y="1068" width="5.8" height="7.05" fill="#95DCCC"/><text x="1121.2" y="1074" font-size="7.4" fill="#333" stroke="#333" stroke-width="0.21">Sep</text><text x="1111.3" y="1086.5" font-size="7.45" fill="#222" font-weight="bold" stroke="#222" stroke-width="0.21">Relative Abundance (z−score)</text><defs><linearGradient id="zgJ" x1="0" y1="1" x2="0" y2="0"><stop offset="0" stop-color="#5C4FA0"/><stop offset="0.11" stop-color="#5878B4"/><stop offset="0.16" stop-color="#6898B8"/><stop offset="0.22" stop-color="#78B0A8"/><stop offset="0.28" stop-color="#90C8A4"/><stop offset="0.35" stop-color="#B0D9A4"/><stop offset="0.45" stop-color="#D8E09C"/><stop offset="0.51" stop-color="#E8E098"/><stop offset="0.57" stop-color="#EED088"/><stop offset="0.66" stop-color="#E8A868"/><stop offset="0.74" stop-color="#E08858"/><stop offset="0.8" stop-color="#D0584C"/><stop offset="0.9" stop-color="#B0304C"/><stop offset="1" stop-color="#8B0A42"/></linearGradient></defs><rect x="1111.3" y="1092.5" width="5.8" height="77.5" fill="url(#zgJ)"/><text x="1121.5" y="1114.8" font-size="7" fill="#333" stroke="#333" stroke-width="0.2">1</text><text x="1121.5" y="1138.9" font-size="7" fill="#333" stroke="#333" stroke-width="0.2">0</text><text x="1121.5" y="1163.3" font-size="7" fill="#333" stroke="#333" stroke-width="0.2">−1</text></g>
<g id="pk"><text x="1218.2" y="819.8" font-size="25.5" fill="#111" stroke="#111" stroke-width="0.71">K</text><line x1="1490.2" y1="789" x2="1490.2" y2="1435.9" stroke="#E4E4E4" stroke-width="0.8"/><line x1="1554.6" y1="789" x2="1554.6" y2="1435.9" stroke="#E4E4E4" stroke-width="0.8"/><line x1="1619.2" y1="789" x2="1619.2" y2="1435.9" stroke="#E4E4E4" stroke-width="0.8"/><rect x="1554.3" y="796.5" width="116.1" height="27.6" fill="#5E8A66"/><text x="1434.5" y="813.6" font-size="9.6" fill="#2a2a2a" text-anchor="end" stroke="#2a2a2a" stroke-width="0.27">o__Bacteroidales</text><line x1="1436.2" y1="810.3" x2="1438.8" y2="810.3" stroke="#666" stroke-width="0.7"/><rect x="1554.3" y="830.2" width="116.1" height="27.6" fill="#5E8A66"/><text x="1434.5" y="847.3" font-size="9.6" fill="#2a2a2a" text-anchor="end" stroke="#2a2a2a" stroke-width="0.27">c__Bacteroidia</text><line x1="1436.2" y1="844" x2="1438.8" y2="844" stroke="#666" stroke-width="0.7"/><rect x="1554.3" y="863.9" width="116.1" height="27.6" fill="#5E8A66"/><text x="1434.5" y="881" font-size="9.6" fill="#2a2a2a" text-anchor="end" stroke="#2a2a2a" stroke-width="0.27">p__Bacteroidota</text><line x1="1436.2" y1="877.7" x2="1438.8" y2="877.7" stroke="#666" stroke-width="0.7"/><rect x="1554.3" y="897.6" width="104.3" height="27.6" fill="#5E8A66"/><text x="1434.5" y="914.7" font-size="9.6" fill="#2a2a2a" text-anchor="end" stroke="#2a2a2a" stroke-width="0.27">f__Tannerellaceae</text><line x1="1436.2" y1="911.4" x2="1438.8" y2="911.4" stroke="#666" stroke-width="0.7"/><rect x="1554.3" y="931.3" width="104.3" height="27.6" fill="#5E8A66"/><text x="1434.5" y="948.4" font-size="9.6" fill="#2a2a2a" text-anchor="end" stroke="#2a2a2a" stroke-width="0.27">g__Parabacteroides</text><line x1="1436.2" y1="945.1" x2="1438.8" y2="945.1" stroke="#666" stroke-width="0.7"/><rect x="1554.3" y="965" width="104.3" height="27.6" fill="#5E8A66"/><text x="1434.5" y="982.1" font-size="9.6" fill="#2a2a2a" text-anchor="end" stroke="#2a2a2a" stroke-width="0.27">s__Parabacteroides_sp.</text><line x1="1436.2" y1="978.8" x2="1438.8" y2="978.8" stroke="#666" stroke-width="0.7"/><rect x="1554.3" y="998.7" width="82.1" height="27.6" fill="#5E8A66"/><text x="1434.5" y="1015.8" font-size="9.6" fill="#2a2a2a" text-anchor="end" stroke="#2a2a2a" stroke-width="0.27">g__Lactobacillus</text><line x1="1436.2" y1="1012.5" x2="1438.8" y2="1012.5" stroke="#666" stroke-width="0.7"/><rect x="1554.3" y="1032.4" width="77.3" height="27.6" fill="#5E8A66"/><text x="1434.5" y="1049.5" font-size="9.6" fill="#2a2a2a" text-anchor="end" stroke="#2a2a2a" stroke-width="0.27">s__Lactobacillus_sp._L−YJ</text><line x1="1436.2" y1="1046.2" x2="1438.8" y2="1046.2" stroke="#666" stroke-width="0.7"/><rect x="1486.2" y="1066.1" width="69.4" height="27.6" fill="#9C452B"/><text x="1434.5" y="1083.2" font-size="9.6" fill="#2a2a2a" text-anchor="end" stroke="#2a2a2a" stroke-width="0.27">g__Intestinimonas</text><line x1="1436.2" y1="1079.9" x2="1438.8" y2="1079.9" stroke="#666" stroke-width="0.7"/><rect x="1486.2" y="1099.8" width="69.4" height="27.6" fill="#9C452B"/><text x="1434.5" y="1116.9" font-size="9.6" fill="#2a2a2a" text-anchor="end" stroke="#2a2a2a" stroke-width="0.27">s__Intestinimonas_unclassified</text><line x1="1436.2" y1="1113.6" x2="1438.8" y2="1113.6" stroke="#666" stroke-width="0.7"/><rect x="1484.5" y="1133.5" width="71.1" height="27.6" fill="#9C452B"/><text x="1434.5" y="1150.6" font-size="9.6" fill="#2a2a2a" text-anchor="end" stroke="#2a2a2a" stroke-width="0.27">f__Oscillospiraceae</text><line x1="1436.2" y1="1147.3" x2="1438.8" y2="1147.3" stroke="#666" stroke-width="0.7"/><rect x="1482.8" y="1167.2" width="72.8" height="27.6" fill="#9C452B"/><text x="1434.5" y="1184.3" font-size="9.6" fill="#2a2a2a" text-anchor="end" stroke="#2a2a2a" stroke-width="0.27">c__Firmicutes_unclassified</text><line x1="1436.2" y1="1181" x2="1438.8" y2="1181" stroke="#666" stroke-width="0.7"/><rect x="1482.8" y="1200.9" width="72.8" height="27.6" fill="#9C452B"/><text x="1434.5" y="1218" font-size="9.6" fill="#2a2a2a" text-anchor="end" stroke="#2a2a2a" stroke-width="0.27">o__Firmicutes_unclassified</text><line x1="1436.2" y1="1214.7" x2="1438.8" y2="1214.7" stroke="#666" stroke-width="0.7"/><rect x="1482.8" y="1234.6" width="72.8" height="27.6" fill="#9C452B"/><text x="1434.5" y="1251.7" font-size="9.6" fill="#2a2a2a" text-anchor="end" stroke="#2a2a2a" stroke-width="0.27">f__Firmicutes_unclassified</text><line x1="1436.2" y1="1248.4" x2="1438.8" y2="1248.4" stroke="#666" stroke-width="0.7"/><rect x="1482.8" y="1268.3" width="72.8" height="27.6" fill="#9C452B"/><text x="1434.5" y="1285.4" font-size="9.6" fill="#2a2a2a" text-anchor="end" stroke="#2a2a2a" stroke-width="0.27">g__Firmicutes_unclassified</text><line x1="1436.2" y1="1282.1" x2="1438.8" y2="1282.1" stroke="#666" stroke-width="0.7"/><rect x="1482.8" y="1302" width="72.8" height="27.6" fill="#9C452B"/><text x="1434.5" y="1319.1" font-size="9.6" fill="#2a2a2a" text-anchor="end" stroke="#2a2a2a" stroke-width="0.27">s__Firmicutes_unclassified</text><line x1="1436.2" y1="1315.8" x2="1438.8" y2="1315.8" stroke="#666" stroke-width="0.7"/><rect x="1449.5" y="1335.7" width="106.1" height="27.6" fill="#9C452B"/><text x="1434.5" y="1352.8" font-size="9.6" fill="#2a2a2a" text-anchor="end" stroke="#2a2a2a" stroke-width="0.27">f__Enterobacteriaceae</text><line x1="1436.2" y1="1349.5" x2="1438.8" y2="1349.5" stroke="#666" stroke-width="0.7"/><rect x="1449.5" y="1369.4" width="106.1" height="27.6" fill="#9C452B"/><text x="1434.5" y="1386.5" font-size="9.6" fill="#2a2a2a" text-anchor="end" stroke="#2a2a2a" stroke-width="0.27">g__Escherichia−Shigella</text><line x1="1436.2" y1="1383.2" x2="1438.8" y2="1383.2" stroke="#666" stroke-width="0.7"/><rect x="1449.5" y="1403.1" width="106.1" height="27.6" fill="#9C452B"/><text x="1434.5" y="1420.2" font-size="9.6" fill="#2a2a2a" text-anchor="end" stroke="#2a2a2a" stroke-width="0.27">s__Escherichia−Shigella_unclassified</text><line x1="1436.2" y1="1416.9" x2="1438.8" y2="1416.9" stroke="#666" stroke-width="0.7"/><line x1="1439" y1="1435.9" x2="1680.8" y2="1435.9" stroke="#B0B0B0" stroke-width="1"/><line x1="1490.2" y1="1435.9" x2="1490.2" y2="1438.2" stroke="#999" stroke-width="0.6"/><text x="1490.2" y="1443.8" font-size="4.6" fill="#555" text-anchor="middle" stroke="#555" stroke-width="0.13">−3</text><line x1="1554.6" y1="1435.9" x2="1554.6" y2="1438.2" stroke="#999" stroke-width="0.6"/><text x="1554.6" y="1443.8" font-size="4.6" fill="#555" text-anchor="middle" stroke="#555" stroke-width="0.13">0</text><line x1="1619.2" y1="1435.9" x2="1619.2" y2="1438.2" stroke="#999" stroke-width="0.6"/><text x="1619.2" y="1443.8" font-size="4.6" fill="#555" text-anchor="middle" stroke="#555" stroke-width="0.13">3</text><text x="1559.6" y="1459.6" font-size="13.3" fill="#2a2a2a" text-anchor="middle" stroke="#2a2a2a" stroke-width="0.37">LDA score</text><text x="1694" y="1100.3" font-size="8.4" fill="#333" stroke="#333" stroke-width="0.24">Group</text><rect x="1694" y="1105.9" width="13.8" height="13.6" fill="#5E8A66"/><rect x="1694" y="1120" width="13.8" height="13.6" fill="#9C452B"/><text x="1711.8" y="1114.8" font-size="6.2" fill="#333" stroke="#333" stroke-width="0.17">Gly</text><text x="1711.8" y="1128.9" font-size="6.2" fill="#333" stroke="#333" stroke-width="0.17">Pla</text></g>
<g id="pl"><text x="25.4" y="1467.9" font-size="23.5" fill="#111" stroke="#111" stroke-width="0.66">L</text><text x="410.4" y="1474" font-size="25.5" fill="#111" font-weight="bold" text-anchor="middle" stroke="#111" stroke-width="0.71">Taxonomy Indicator Bubble Plot</text><rect x="241.2" y="1518.2" width="337.8" height="498.6" fill="#fff" stroke="#8C8C8C" stroke-width="1.1"/><line x1="237.2" y1="1528.4" x2="241.2" y2="1528.4" stroke="#444" stroke-width="0.8"/><text x="235" y="1532.6" font-size="12.4" fill="#262626" text-anchor="end" stroke="#262626" stroke-width="0.35">Clostridium_sensu_stricto_1</text><circle cx="280.1" cy="1528.4" r="8.6" fill="#C74694"/><circle cx="345.2" cy="1528.4" r="3.7" fill="#6E6FDB"/><circle cx="410" cy="1528.4" r="3.5" fill="#6E6FDB"/><circle cx="474.9" cy="1528.4" r="3.5" fill="#6E6FDB"/><circle cx="539.8" cy="1528.4" r="3.5" fill="#6E6FDB"/><line x1="237.2" y1="1544.93" x2="241.2" y2="1544.93" stroke="#444" stroke-width="0.8"/><text x="235" y="1549.13" font-size="12.4" fill="#262626" text-anchor="end" stroke="#262626" stroke-width="0.35">Enterococcus</text><circle cx="280.1" cy="1544.93" r="8.2" fill="#C74694"/><circle cx="345.2" cy="1544.93" r="4.3" fill="#6E6FDB"/><circle cx="410" cy="1544.93" r="4.1" fill="#6E6FDB"/><circle cx="474.9" cy="1544.93" r="5.7" fill="#6E6FDB"/><circle cx="539.8" cy="1544.93" r="4.1" fill="#6E6FDB"/><line x1="237.2" y1="1561.46" x2="241.2" y2="1561.46" stroke="#444" stroke-width="0.8"/><text x="235" y="1565.66" font-size="12.4" fill="#262626" text-anchor="end" stroke="#262626" stroke-width="0.35">Helicobacter</text><circle cx="280.1" cy="1561.46" r="8" fill="#6E6FDB"/><circle cx="345.2" cy="1561.46" r="4.3" fill="#6E6FDB"/><circle cx="410" cy="1561.46" r="4.1" fill="#6E6FDB"/><circle cx="474.9" cy="1561.46" r="4.3" fill="#6E6FDB"/><circle cx="539.8" cy="1561.46" r="4.5" fill="#6E6FDB"/><line x1="237.2" y1="1577.99" x2="241.2" y2="1577.99" stroke="#444" stroke-width="0.8"/><text x="235" y="1582.19" font-size="12.4" fill="#262626" text-anchor="end" stroke="#262626" stroke-width="0.35">Klebsiella</text><circle cx="280.1" cy="1577.99" r="7.3" fill="#C74694"/><circle cx="345.2" cy="1577.99" r="5.9" fill="#6E6FDB"/><circle cx="410" cy="1577.99" r="5.9" fill="#6E6FDB"/><circle cx="474.9" cy="1577.99" r="3.7" fill="#6E6FDB"/><circle cx="539.8" cy="1577.99" r="3.9" fill="#6E6FDB"/><line x1="237.2" y1="1594.52" x2="241.2" y2="1594.52" stroke="#444" stroke-width="0.8"/><text x="235" y="1598.72" font-size="12.4" fill="#262626" text-anchor="end" stroke="#262626" stroke-width="0.35">Parabacteroides</text><circle cx="280.1" cy="1594.52" r="6.9" fill="#8CB3D9"/><circle cx="345.2" cy="1594.52" r="7.3" fill="#6E6FDB"/><circle cx="410" cy="1594.52" r="3.3" fill="#6E6FDB"/><circle cx="474.9" cy="1594.52" r="3.3" fill="#6E6FDB"/><circle cx="539.8" cy="1594.52" r="3.3" fill="#6E6FDB"/><line x1="237.2" y1="1611.05" x2="241.2" y2="1611.05" stroke="#444" stroke-width="0.8"/><text x="235" y="1615.25" font-size="12.4" fill="#262626" text-anchor="end" stroke="#262626" stroke-width="0.35">Roseburia</text><circle cx="280.1" cy="1611.05" r="6.9" fill="#6E6FDB"/><circle cx="345.2" cy="1611.05" r="4.3" fill="#6E6FDB"/><circle cx="410" cy="1611.05" r="5.1" fill="#6E6FDB"/><circle cx="474.9" cy="1611.05" r="4.3" fill="#6E6FDB"/><circle cx="539.8" cy="1611.05" r="3.5" fill="#6E6FDB"/><line x1="237.2" y1="1627.58" x2="241.2" y2="1627.58" stroke="#444" stroke-width="0.8"/><text x="235" y="1631.78" font-size="12.4" fill="#262626" text-anchor="end" stroke="#262626" stroke-width="0.35">Rodentibacter</text><circle cx="280.1" cy="1627.58" r="6.7" fill="#8CB3D9"/><circle cx="345.2" cy="1627.58" r="4.7" fill="#6E6FDB"/><circle cx="410" cy="1627.58" r="4.9" fill="#6E6FDB"/><circle cx="474.9" cy="1627.58" r="3.3" fill="#6E6FDB"/><circle cx="539.8" cy="1627.58" r="6.3" fill="#6E6FDB"/><line x1="237.2" y1="1644.11" x2="241.2" y2="1644.11" stroke="#444" stroke-width="0.8"/><text x="235" y="1648.31" font-size="12.4" fill="#262626" text-anchor="end" stroke="#262626" stroke-width="0.35">Corynebacterium</text><circle cx="280.1" cy="1644.11" r="6.7" fill="#8CB3D9"/><circle cx="345.2" cy="1644.11" r="4.5" fill="#6E6FDB"/><circle cx="410" cy="1644.11" r="4.1" fill="#6E6FDB"/><circle cx="474.9" cy="1644.11" r="5.9" fill="#6E6FDB"/><circle cx="539.8" cy="1644.11" r="5.9" fill="#6E6FDB"/><line x1="237.2" y1="1660.64" x2="241.2" y2="1660.64" stroke="#444" stroke-width="0.8"/><text x="235" y="1664.84" font-size="12.4" fill="#262626" text-anchor="end" stroke="#262626" stroke-width="0.35">Faecalibacterium</text><circle cx="280.1" cy="1660.64" r="6.3" fill="#C74694"/><circle cx="345.2" cy="1660.64" r="6.1" fill="#8CB3D9"/><circle cx="410" cy="1660.64" r="6.1" fill="#6E6FDB"/><circle cx="474.9" cy="1660.64" r="3.9" fill="#6E6FDB"/><circle cx="539.8" cy="1660.64" r="3.3" fill="#6E6FDB"/><line x1="237.2" y1="1677.17" x2="241.2" y2="1677.17" stroke="#444" stroke-width="0.8"/><text x="235" y="1681.37" font-size="12.4" fill="#262626" text-anchor="end" stroke="#262626" stroke-width="0.35">Monoglobus</text><circle cx="280.1" cy="1677.17" r="6.3" fill="#C74694"/><circle cx="345.2" cy="1677.17" r="5.9" fill="#6E6FDB"/><circle cx="410" cy="1677.17" r="6.3" fill="#6E6FDB"/><circle cx="474.9" cy="1677.17" r="3.9" fill="#6E6FDB"/><circle cx="539.8" cy="1677.17" r="3.3" fill="#6E6FDB"/><line x1="237.2" y1="1693.7" x2="241.2" y2="1693.7" stroke="#444" stroke-width="0.8"/><text x="235" y="1697.9" font-size="12.4" fill="#262626" text-anchor="end" stroke="#262626" stroke-width="0.35">Bifidobacterium</text><circle cx="280.1" cy="1693.7" r="6.1" fill="#8CB3D9"/><circle cx="345.2" cy="1693.7" r="5.9" fill="#6E6FDB"/><circle cx="410" cy="1693.7" r="6.3" fill="#6E6FDB"/><circle cx="474.9" cy="1693.7" r="4.3" fill="#6E6FDB"/><circle cx="539.8" cy="1693.7" r="3.3" fill="#6E6FDB"/><line x1="237.2" y1="1710.23" x2="241.2" y2="1710.23" stroke="#444" stroke-width="0.8"/><text x="235" y="1714.43" font-size="12.4" fill="#262626" text-anchor="end" stroke="#262626" stroke-width="0.35">Bacteroides</text><circle cx="280.1" cy="1710.23" r="5.7" fill="#6E6FDB"/><circle cx="345.2" cy="1710.23" r="7.1" fill="#8CB3D9"/><circle cx="410" cy="1710.23" r="4.3" fill="#6E6FDB"/><circle cx="474.9" cy="1710.23" r="6.1" fill="#6E6FDB"/><circle cx="539.8" cy="1710.23" r="3.5" fill="#6E6FDB"/><line x1="237.2" y1="1726.76" x2="241.2" y2="1726.76" stroke="#444" stroke-width="0.8"/><text x="235" y="1730.96" font-size="12.4" fill="#262626" text-anchor="end" stroke="#262626" stroke-width="0.35">Anaerotignum</text><circle cx="280.1" cy="1726.76" r="5.7" fill="#6E6FDB"/><circle cx="345.2" cy="1726.76" r="3.3" fill="#6E6FDB"/><circle cx="410" cy="1726.76" r="6.1" fill="#6E6FDB"/><circle cx="474.9" cy="1726.76" r="5.9" fill="#6E6FDB"/><circle cx="539.8" cy="1726.76" r="3.3" fill="#6E6FDB"/><line x1="237.2" y1="1743.29" x2="241.2" y2="1743.29" stroke="#444" stroke-width="0.8"/><text x="235" y="1747.49" font-size="12.4" fill="#262626" text-anchor="end" stroke="#262626" stroke-width="0.35">Clostridium</text><circle cx="280.1" cy="1743.29" r="5.7" fill="#6E6FDB"/><circle cx="345.2" cy="1743.29" r="5.3" fill="#6E6FDB"/><circle cx="410" cy="1743.29" r="6.9" fill="#6E6FDB"/><circle cx="474.9" cy="1743.29" r="5.5" fill="#6E6FDB"/><circle cx="539.8" cy="1743.29" r="3.5" fill="#6E6FDB"/><line x1="237.2" y1="1759.82" x2="241.2" y2="1759.82" stroke="#444" stroke-width="0.8"/><text x="235" y="1764.02" font-size="12.4" fill="#262626" text-anchor="end" stroke="#262626" stroke-width="0.35">Lactobacillus</text><circle cx="280.1" cy="1759.82" r="5.5" fill="#6E6FDB"/><circle cx="345.2" cy="1759.82" r="8" fill="#6E6FDB"/><circle cx="410" cy="1759.82" r="3.7" fill="#6E6FDB"/><circle cx="474.9" cy="1759.82" r="3.7" fill="#6E6FDB"/><circle cx="539.8" cy="1759.82" r="3.7" fill="#6E6FDB"/><line x1="237.2" y1="1776.35" x2="241.2" y2="1776.35" stroke="#444" stroke-width="0.8"/><text x="235" y="1780.55" font-size="12.4" fill="#262626" text-anchor="end" stroke="#262626" stroke-width="0.35">Lachnospiraceae_NK4A136_group</text><circle cx="280.1" cy="1776.35" r="5.7" fill="#6E6FDB"/><circle cx="345.2" cy="1776.35" r="5.5" fill="#6E6FDB"/><circle cx="410" cy="1776.35" r="6.5" fill="#6E6FDB"/><circle cx="474.9" cy="1776.35" r="6.1" fill="#6E6FDB"/><circle cx="539.8" cy="1776.35" r="3.9" fill="#6E6FDB"/><line x1="237.2" y1="1792.88" x2="241.2" y2="1792.88" stroke="#444" stroke-width="0.8"/><text x="235" y="1797.08" font-size="12.4" fill="#262626" text-anchor="end" stroke="#262626" stroke-width="0.35">Anaerotruncus</text><circle cx="280.1" cy="1792.88" r="5.7" fill="#6E6FDB"/><circle cx="345.2" cy="1792.88" r="7.6" fill="#6E6FDB"/><circle cx="410" cy="1792.88" r="5.1" fill="#6E6FDB"/><circle cx="474.9" cy="1792.88" r="4.7" fill="#6E6FDB"/><circle cx="539.8" cy="1792.88" r="3.3" fill="#6E6FDB"/><line x1="237.2" y1="1809.41" x2="241.2" y2="1809.41" stroke="#444" stroke-width="0.8"/><text x="235" y="1813.61" font-size="12.4" fill="#262626" text-anchor="end" stroke="#262626" stroke-width="0.35">Intestinimonas</text><circle cx="280.1" cy="1809.41" r="5.5" fill="#6E6FDB"/><circle cx="345.2" cy="1809.41" r="3.1" fill="#6E6FDB"/><circle cx="410" cy="1809.41" r="7.1" fill="#6E6FDB"/><circle cx="474.9" cy="1809.41" r="5.9" fill="#6E6FDB"/><circle cx="539.8" cy="1809.41" r="3.3" fill="#6E6FDB"/><line x1="237.2" y1="1825.94" x2="241.2" y2="1825.94" stroke="#444" stroke-width="0.8"/><text x="235" y="1830.14" font-size="12.4" fill="#262626" text-anchor="end" stroke="#262626" stroke-width="0.35">Ligilactobacillus</text><circle cx="280.1" cy="1825.94" r="5.1" fill="#6E6FDB"/><circle cx="345.2" cy="1825.94" r="5.3" fill="#6E6FDB"/><circle cx="410" cy="1825.94" r="5.7" fill="#6E6FDB"/><circle cx="474.9" cy="1825.94" r="5.9" fill="#6E6FDB"/><circle cx="539.8" cy="1825.94" r="5.9" fill="#8CB3D9"/><line x1="237.2" y1="1842.47" x2="241.2" y2="1842.47" stroke="#444" stroke-width="0.8"/><text x="235" y="1846.67" font-size="12.4" fill="#262626" text-anchor="end" stroke="#262626" stroke-width="0.35">Colidextribacter</text><circle cx="280.1" cy="1842.47" r="4.3" fill="#6E6FDB"/><circle cx="345.2" cy="1842.47" r="3.9" fill="#6E6FDB"/><circle cx="410" cy="1842.47" r="4.7" fill="#6E6FDB"/><circle cx="474.9" cy="1842.47" r="8.2" fill="#C74694"/><circle cx="539.8" cy="1842.47" r="3.7" fill="#6E6FDB"/><line x1="237.2" y1="1859" x2="241.2" y2="1859" stroke="#444" stroke-width="0.8"/><text x="235" y="1863.2" font-size="12.4" fill="#262626" text-anchor="end" stroke="#262626" stroke-width="0.35">Streptococcus</text><circle cx="280.1" cy="1859" r="4.1" fill="#6E6FDB"/><circle cx="345.2" cy="1859" r="4.7" fill="#6E6FDB"/><circle cx="410" cy="1859" r="6.7" fill="#6E6FDB"/><circle cx="474.9" cy="1859" r="4.5" fill="#6E6FDB"/><circle cx="539.8" cy="1859" r="6.5" fill="#6E6FDB"/><line x1="237.2" y1="1875.53" x2="241.2" y2="1875.53" stroke="#444" stroke-width="0.8"/><text x="235" y="1879.73" font-size="12.4" fill="#262626" text-anchor="end" stroke="#262626" stroke-width="0.35">Escherichia.Shigella</text><circle cx="280.1" cy="1875.53" r="3.9" fill="#6E6FDB"/><circle cx="345.2" cy="1875.53" r="5.9" fill="#6E6FDB"/><circle cx="410" cy="1875.53" r="7.6" fill="#8CB3D9"/><circle cx="474.9" cy="1875.53" r="3.7" fill="#6E6FDB"/><circle cx="539.8" cy="1875.53" r="3.7" fill="#6E6FDB"/><line x1="237.2" y1="1892.06" x2="241.2" y2="1892.06" stroke="#444" stroke-width="0.8"/><text x="235" y="1896.26" font-size="12.4" fill="#262626" text-anchor="end" stroke="#262626" stroke-width="0.35">Eisenbergiella</text><circle cx="280.1" cy="1892.06" r="3.9" fill="#6E6FDB"/><circle cx="345.2" cy="1892.06" r="3.9" fill="#6E6FDB"/><circle cx="410" cy="1892.06" r="4.1" fill="#6E6FDB"/><circle cx="474.9" cy="1892.06" r="8.4" fill="#C74694"/><circle cx="539.8" cy="1892.06" r="3.9" fill="#6E6FDB"/><line x1="237.2" y1="1908.59" x2="241.2" y2="1908.59" stroke="#444" stroke-width="0.8"/><text x="235" y="1912.79" font-size="12.4" fill="#262626" text-anchor="end" stroke="#262626" stroke-width="0.35">Tuzzerella</text><circle cx="280.1" cy="1908.59" r="3.9" fill="#6E6FDB"/><circle cx="345.2" cy="1908.59" r="4.5" fill="#6E6FDB"/><circle cx="410" cy="1908.59" r="6.3" fill="#6E6FDB"/><circle cx="474.9" cy="1908.59" r="4.7" fill="#6E6FDB"/><circle cx="539.8" cy="1908.59" r="3.3" fill="#6E6FDB"/><line x1="237.2" y1="1925.12" x2="241.2" y2="1925.12" stroke="#444" stroke-width="0.8"/><text x="235" y="1929.32" font-size="12.4" fill="#262626" text-anchor="end" stroke="#262626" stroke-width="0.35">Alistipes</text><circle cx="280.1" cy="1925.12" r="3.7" fill="#6E6FDB"/><circle cx="345.2" cy="1925.12" r="3.7" fill="#6E6FDB"/><circle cx="410" cy="1925.12" r="3.9" fill="#6E6FDB"/><circle cx="474.9" cy="1925.12" r="8.4" fill="#C74694"/><circle cx="539.8" cy="1925.12" r="3.7" fill="#6E6FDB"/><line x1="237.2" y1="1941.65" x2="241.2" y2="1941.65" stroke="#444" stroke-width="0.8"/><text x="235" y="1945.85" font-size="12.4" fill="#262626" text-anchor="end" stroke="#262626" stroke-width="0.35">Odoribacter</text><circle cx="280.1" cy="1941.65" r="3.7" fill="#6E6FDB"/><circle cx="345.2" cy="1941.65" r="3.7" fill="#6E6FDB"/><circle cx="410" cy="1941.65" r="3.7" fill="#6E6FDB"/><circle cx="474.9" cy="1941.65" r="6.9" fill="#6E6FDB"/><circle cx="539.8" cy="1941.65" r="3.9" fill="#6E6FDB"/><line x1="237.2" y1="1958.18" x2="241.2" y2="1958.18" stroke="#444" stroke-width="0.8"/><text x="235" y="1962.38" font-size="12.4" fill="#262626" text-anchor="end" stroke="#262626" stroke-width="0.35">Dorea</text><circle cx="280.1" cy="1958.18" r="3.7" fill="#6E6FDB"/><circle cx="345.2" cy="1958.18" r="3.7" fill="#6E6FDB"/><circle cx="410" cy="1958.18" r="8.4" fill="#C74694"/><circle cx="474.9" cy="1958.18" r="3.3" fill="#6E6FDB"/><circle cx="539.8" cy="1958.18" r="3.3" fill="#6E6FDB"/><line x1="237.2" y1="1974.71" x2="241.2" y2="1974.71" stroke="#444" stroke-width="0.8"/><text x="235" y="1978.91" font-size="12.4" fill="#262626" text-anchor="end" stroke="#262626" stroke-width="0.35">Dubosiella</text><circle cx="280.1" cy="1974.71" r="3.7" fill="#6E6FDB"/><circle cx="345.2" cy="1974.71" r="3.5" fill="#6E6FDB"/><circle cx="410" cy="1974.71" r="3.9" fill="#6E6FDB"/><circle cx="474.9" cy="1974.71" r="7.8" fill="#8CB3D9"/><circle cx="539.8" cy="1974.71" r="3.5" fill="#6E6FDB"/><line x1="237.2" y1="1991.24" x2="241.2" y2="1991.24" stroke="#444" stroke-width="0.8"/><text x="235" y="1995.44" font-size="12.4" fill="#262626" text-anchor="end" stroke="#262626" stroke-width="0.35">Erysipelatoclostridium</text><circle cx="280.1" cy="1991.24" r="3.5" fill="#6E6FDB"/><circle cx="345.2" cy="1991.24" r="3.3" fill="#6E6FDB"/><circle cx="410" cy="1991.24" r="3.9" fill="#6E6FDB"/><circle cx="474.9" cy="1991.24" r="5.7" fill="#6E6FDB"/><circle cx="539.8" cy="1991.24" r="3.3" fill="#6E6FDB"/><line x1="237.2" y1="2007.77" x2="241.2" y2="2007.77" stroke="#444" stroke-width="0.8"/><text x="235" y="2011.97" font-size="12.4" fill="#262626" text-anchor="end" stroke="#262626" stroke-width="0.35">Marvinbryantia</text><circle cx="280.1" cy="2007.77" r="3.5" fill="#6E6FDB"/><circle cx="345.2" cy="2007.77" r="3.5" fill="#6E6FDB"/><circle cx="410" cy="2007.77" r="6.3" fill="#6E6FDB"/><circle cx="474.9" cy="2007.77" r="6.3" fill="#6E6FDB"/><circle cx="539.8" cy="2007.77" r="3.5" fill="#6E6FDB"/><line x1="280.1" y1="2016.8" x2="280.1" y2="2020.8" stroke="#444" stroke-width="0.8"/><text x="283.6" y="2026.3" font-size="11.2" fill="#333" transform="rotate(-60 283.6 2026.3)" text-anchor="end" stroke="#333" stroke-width="0.31">Ctrl2</text><line x1="345.2" y1="2016.8" x2="345.2" y2="2020.8" stroke="#444" stroke-width="0.8"/><text x="348.7" y="2026.3" font-size="11.2" fill="#333" transform="rotate(-60 348.7 2026.3)" text-anchor="end" stroke="#333" stroke-width="0.31">Gly</text><line x1="410" y1="2016.8" x2="410" y2="2020.8" stroke="#444" stroke-width="0.8"/><text x="413.5" y="2026.3" font-size="11.2" fill="#333" transform="rotate(-60 413.5 2026.3)" text-anchor="end" stroke="#333" stroke-width="0.31">Pla</text><line x1="474.9" y1="2016.8" x2="474.9" y2="2020.8" stroke="#444" stroke-width="0.8"/><text x="478.4" y="2026.3" font-size="11.2" fill="#333" transform="rotate(-60 478.4 2026.3)" text-anchor="end" stroke="#333" stroke-width="0.31">Sep</text><line x1="539.8" y1="2016.8" x2="539.8" y2="2020.8" stroke="#444" stroke-width="0.8"/><text x="543.3" y="2026.3" font-size="11.2" fill="#333" transform="rotate(-60 543.3 2026.3)" text-anchor="end" stroke="#333" stroke-width="0.31">Ctrl1</text><text x="17.2" y="1767.7" font-size="18.9" fill="#111" transform="rotate(-90 17.2 1767.7)" font-weight="bold" text-anchor="middle" stroke="#111" stroke-width="0.53">Genus</text><text x="409.8" y="2080.5" font-size="19" fill="#111" font-weight="bold" text-anchor="middle" stroke="#111" stroke-width="0.53">Groups</text><text x="591.4" y="1675.6" font-size="18.6" fill="#111" font-weight="bold" stroke="#111" stroke-width="0.52">P.Value</text><circle cx="601.9" cy="1701.8" r="7.3" fill="#C74694"/><text x="620.8" y="1707.3" font-size="15.6" fill="#333" stroke="#333" stroke-width="0.44">[0, 0.01)</text><circle cx="601.9" cy="1721.95" r="7.3" fill="#8CB3D9"/><text x="620.8" y="1727.45" font-size="15.6" fill="#333" stroke="#333" stroke-width="0.44">[0.01, 0.05)</text><circle cx="601.9" cy="1742.1" r="7.3" fill="#6E6FDB"/><text x="620.8" y="1747.6" font-size="15.6" fill="#333" stroke="#333" stroke-width="0.44">[0.05, 1]</text><text x="591.4" y="1777.2" font-size="18.6" fill="#111" font-weight="bold" stroke="#111" stroke-width="0.52">sqrtIV</text><circle cx="601.9" cy="1802.5" r="2.6" fill="#fff" stroke="#333" stroke-width="0.9"/><text x="620.8" y="1808" font-size="15.6" fill="#333" stroke="#333" stroke-width="0.44">0.00</text><circle cx="601.9" cy="1823" r="4.2" fill="#fff" stroke="#333" stroke-width="0.9"/><text x="620.8" y="1828.5" font-size="15.6" fill="#333" stroke="#333" stroke-width="0.44">0.25</text><circle cx="601.9" cy="1843.2" r="5.8" fill="#fff" stroke="#333" stroke-width="0.9"/><text x="620.8" y="1848.7" font-size="15.6" fill="#333" stroke="#333" stroke-width="0.44">0.50</text><circle cx="601.9" cy="1862.9" r="7.3" fill="#fff" stroke="#333" stroke-width="0.9"/><text x="620.8" y="1868.4" font-size="15.6" fill="#333" stroke="#333" stroke-width="0.44">0.75</text></g>
<g id="pm"><text x="740.6" y="1467" font-size="25.5" fill="#111" stroke="#111" stroke-width="0.71">M</text><rect x="988.9" y="1550.23" width="354.9" height="15.54" fill="#F2F2F2"/><rect x="1352" y="1550.23" width="346.8" height="15.54" fill="#F2F2F2"/><rect x="988.9" y="1581.31" width="354.9" height="15.54" fill="#F2F2F2"/><rect x="1352" y="1581.31" width="346.8" height="15.54" fill="#F2F2F2"/><rect x="988.9" y="1612.39" width="354.9" height="15.54" fill="#F2F2F2"/><rect x="1352" y="1612.39" width="346.8" height="15.54" fill="#F2F2F2"/><rect x="988.9" y="1643.47" width="354.9" height="15.54" fill="#F2F2F2"/><rect x="1352" y="1643.47" width="346.8" height="15.54" fill="#F2F2F2"/><rect x="988.9" y="1674.55" width="354.9" height="15.54" fill="#F2F2F2"/><rect x="1352" y="1674.55" width="346.8" height="15.54" fill="#F2F2F2"/><rect x="988.9" y="1705.63" width="354.9" height="15.54" fill="#F2F2F2"/><rect x="1352" y="1705.63" width="346.8" height="15.54" fill="#F2F2F2"/><rect x="988.9" y="1736.71" width="354.9" height="15.54" fill="#F2F2F2"/><rect x="1352" y="1736.71" width="346.8" height="15.54" fill="#F2F2F2"/><rect x="988.9" y="1767.79" width="354.9" height="15.54" fill="#F2F2F2"/><rect x="1352" y="1767.79" width="346.8" height="15.54" fill="#F2F2F2"/><rect x="988.9" y="1798.87" width="354.9" height="15.54" fill="#F2F2F2"/><rect x="1352" y="1798.87" width="346.8" height="15.54" fill="#F2F2F2"/><rect x="988.9" y="1829.95" width="354.9" height="15.54" fill="#F2F2F2"/><rect x="1352" y="1829.95" width="346.8" height="15.54" fill="#F2F2F2"/><rect x="988.9" y="1861.03" width="354.9" height="15.54" fill="#F2F2F2"/><rect x="1352" y="1861.03" width="346.8" height="15.54" fill="#F2F2F2"/><rect x="988.9" y="1892.11" width="354.9" height="15.54" fill="#F2F2F2"/><rect x="1352" y="1892.11" width="346.8" height="15.54" fill="#F2F2F2"/><rect x="988.9" y="1923.19" width="354.9" height="15.54" fill="#F2F2F2"/><rect x="1352" y="1923.19" width="346.8" height="15.54" fill="#F2F2F2"/><rect x="988.9" y="1954.27" width="354.9" height="15.54" fill="#F2F2F2"/><rect x="1352" y="1954.27" width="346.8" height="15.54" fill="#F2F2F2"/><rect x="988.9" y="1985.35" width="354.9" height="15.54" fill="#F2F2F2"/><rect x="1352" y="1985.35" width="346.8" height="15.54" fill="#F2F2F2"/><rect x="1002.5" y="1552" width="0.3" height="6" fill="#E8A55C"/><rect x="1002.5" y="1558" width="0.3" height="6" fill="#7DA0BE"/><line x1="980.8" y1="1558" x2="986.2" y2="1558" stroke="#222" stroke-width="0.8"/><text x="979.6" y="1560.5" font-size="7.2" fill="#111" font-weight="bold" text-anchor="end" stroke="#111" stroke-width="0.2">Mineral absorption</text><circle cx="1524.9" cy="1558" r="2.75" fill="#7DA0BE" stroke="#3a3a3a" stroke-width="0.65"/><line x1="1702.1" y1="1558" x2="1706" y2="1558" stroke="#222" stroke-width="0.8"/><text x="1707.8" y="1560.6" font-size="7.3" fill="#111" font-weight="bold" stroke="#111" stroke-width="0.2">7.936508e−03</text><rect x="1002.5" y="1567.54" width="89.2" height="6" fill="#E8A55C"/><rect x="1002.5" y="1573.54" width="79.6" height="6" fill="#7DA0BE"/><line x1="1090.2" y1="1570.54" x2="1094.2" y2="1570.54" stroke="#BBB" stroke-width="0.5"/><line x1="980.8" y1="1573.54" x2="986.2" y2="1573.54" stroke="#222" stroke-width="0.8"/><text x="979.6" y="1576.04" font-size="7.2" fill="#111" font-weight="bold" text-anchor="end" stroke="#111" stroke-width="0.2">Methane metabolism</text><circle cx="1624.9" cy="1573.54" r="2.75" fill="#E8A55C" stroke="#3a3a3a" stroke-width="0.65"/><line x1="1702.1" y1="1573.54" x2="1706" y2="1573.54" stroke="#222" stroke-width="0.8"/><text x="1707.8" y="1576.14" font-size="7.3" fill="#111" font-weight="bold" stroke="#111" stroke-width="0.2">7.936508e−03</text><rect x="1002.5" y="1583.08" width="10.5" height="6" fill="#E8A55C"/><rect x="1002.5" y="1589.08" width="15" height="6" fill="#7DA0BE"/><line x1="1011.5" y1="1586.08" x2="1015.5" y2="1586.08" stroke="#BBB" stroke-width="0.5"/><line x1="980.8" y1="1589.08" x2="986.2" y2="1589.08" stroke="#222" stroke-width="0.8"/><text x="979.6" y="1591.58" font-size="7.2" fill="#111" font-weight="bold" text-anchor="end" stroke="#111" stroke-width="0.2">Metabolism of xenobiotics by c... cytochrome P450</text><circle cx="1480.3" cy="1589.08" r="2.75" fill="#7DA0BE" stroke="#3a3a3a" stroke-width="0.65"/><line x1="1702.1" y1="1589.08" x2="1706" y2="1589.08" stroke="#222" stroke-width="0.8"/><text x="1707.8" y="1591.68" font-size="7.3" fill="#111" font-weight="bold" stroke="#111" stroke-width="0.2">7.936508e−03</text><rect x="1002.5" y="1598.62" width="1.5" height="6" fill="#E8A55C"/><rect x="1002.5" y="1604.62" width="0.6" height="6" fill="#7DA0BE"/><line x1="980.8" y1="1604.62" x2="986.2" y2="1604.62" stroke="#222" stroke-width="0.8"/><text x="979.6" y="1607.12" font-size="7.2" fill="#111" font-weight="bold" text-anchor="end" stroke="#111" stroke-width="0.2">MAPK signaling pathway − yeast</text><circle cx="1537.5" cy="1604.62" r="2.75" fill="#E8A55C" stroke="#3a3a3a" stroke-width="0.65"/><line x1="1702.1" y1="1604.62" x2="1706" y2="1604.62" stroke="#222" stroke-width="0.8"/><text x="1707.8" y="1607.22" font-size="7.3" fill="#111" font-weight="bold" stroke="#111" stroke-width="0.2">7.936508e−03</text><rect x="1002.5" y="1614.16" width="5.4" height="6" fill="#E8A55C"/><rect x="1002.5" y="1620.16" width="0.6" height="6" fill="#7DA0BE"/><line x1="980.8" y1="1620.16" x2="986.2" y2="1620.16" stroke="#222" stroke-width="0.8"/><text x="979.6" y="1622.66" font-size="7.2" fill="#111" font-weight="bold" text-anchor="end" stroke="#111" stroke-width="0.2">Lysosome</text><circle cx="1576.3" cy="1620.16" r="2.75" fill="#E8A55C" stroke="#3a3a3a" stroke-width="0.65"/><line x1="1702.1" y1="1620.16" x2="1706" y2="1620.16" stroke="#222" stroke-width="0.8"/><text x="1707.8" y="1622.76" font-size="7.3" fill="#111" font-weight="bold" stroke="#111" stroke-width="0.2">7.936508e−03</text><rect x="1002.5" y="1629.7" width="3.3" height="6" fill="#E8A55C"/><rect x="1002.5" y="1635.7" width="0.9" height="6" fill="#7DA0BE"/><line x1="980.8" y1="1635.7" x2="986.2" y2="1635.7" stroke="#222" stroke-width="0.8"/><text x="979.6" y="1638.2" font-size="7.2" fill="#111" font-weight="bold" text-anchor="end" stroke="#111" stroke-width="0.2">Lysine degradation</text><circle cx="1554.5" cy="1635.7" r="2.75" fill="#E8A55C" stroke="#3a3a3a" stroke-width="0.65"/><line x1="1702.1" y1="1635.7" x2="1706" y2="1635.7" stroke="#222" stroke-width="0.8"/><text x="1707.8" y="1638.3" font-size="7.3" fill="#111" font-weight="bold" stroke="#111" stroke-width="0.2">7.936508e−03</text><rect x="1002.5" y="1645.24" width="6.9" height="6" fill="#E8A55C"/><rect x="1002.5" y="1651.24" width="10.5" height="6" fill="#7DA0BE"/><line x1="980.8" y1="1651.24" x2="986.2" y2="1651.24" stroke="#222" stroke-width="0.8"/><text x="979.6" y="1653.74" font-size="7.2" fill="#111" font-weight="bold" text-anchor="end" stroke="#111" stroke-width="0.2">Ion channels</text><circle cx="1494.1" cy="1651.24" r="2.75" fill="#7DA0BE" stroke="#3a3a3a" stroke-width="0.65"/><line x1="1702.1" y1="1651.24" x2="1706" y2="1651.24" stroke="#222" stroke-width="0.8"/><text x="1707.8" y="1653.84" font-size="7.3" fill="#111" font-weight="bold" stroke="#111" stroke-width="0.2">7.936508e−03</text><rect x="1002.5" y="1660.78" width="15" height="6" fill="#E8A55C"/><rect x="1002.5" y="1666.78" width="16.5" height="6" fill="#7DA0BE"/><line x1="1016" y1="1663.78" x2="1020" y2="1663.78" stroke="#BBB" stroke-width="0.5"/><line x1="980.8" y1="1666.78" x2="986.2" y2="1666.78" stroke="#222" stroke-width="0.8"/><text x="979.6" y="1669.28" font-size="7.2" fill="#111" font-weight="bold" text-anchor="end" stroke="#111" stroke-width="0.2">Inorganic ion transport and metabolism</text><circle cx="1509.9" cy="1666.78" r="2.75" fill="#7DA0BE" stroke="#3a3a3a" stroke-width="0.65"/><line x1="1702.1" y1="1666.78" x2="1706" y2="1666.78" stroke="#222" stroke-width="0.8"/><text x="1707.8" y="1669.38" font-size="7.3" fill="#111" font-weight="bold" stroke="#111" stroke-width="0.2">7.936508e−03</text><rect x="1002.5" y="1676.32" width="103" height="6" fill="#E8A55C"/><rect x="1002.5" y="1682.32" width="104" height="6" fill="#7DA0BE"/><line x1="1104" y1="1679.32" x2="1108" y2="1679.32" stroke="#BBB" stroke-width="0.5"/><line x1="980.8" y1="1682.32" x2="986.2" y2="1682.32" stroke="#222" stroke-width="0.8"/><text x="979.6" y="1684.82" font-size="7.2" fill="#111" font-weight="bold" text-anchor="end" stroke="#111" stroke-width="0.2">Homologous recombination</text><circle cx="1515.9" cy="1682.32" r="2.75" fill="#7DA0BE" stroke="#3a3a3a" stroke-width="0.65"/><line x1="1702.1" y1="1682.32" x2="1706" y2="1682.32" stroke="#222" stroke-width="0.8"/><text x="1707.8" y="1684.92" font-size="7.3" fill="#111" font-weight="bold" stroke="#111" stroke-width="0.2">7.936508e−03</text><rect x="1002.5" y="1691.86" width="37.9" height="6" fill="#E8A55C"/><rect x="1002.5" y="1697.86" width="43" height="6" fill="#7DA0BE"/><line x1="1038.9" y1="1694.86" x2="1042.9" y2="1694.86" stroke="#BBB" stroke-width="0.5"/><line x1="980.8" y1="1697.86" x2="986.2" y2="1697.86" stroke="#222" stroke-width="0.8"/><text x="979.6" y="1700.36" font-size="7.2" fill="#111" font-weight="bold" text-anchor="end" stroke="#111" stroke-width="0.2">Glycosyltransferases</text><circle cx="1480.8" cy="1697.86" r="2.75" fill="#7DA0BE" stroke="#3a3a3a" stroke-width="0.65"/><line x1="1702.1" y1="1697.86" x2="1706" y2="1697.86" stroke="#222" stroke-width="0.8"/><text x="1707.8" y="1700.46" font-size="7.3" fill="#111" font-weight="bold" stroke="#111" stroke-width="0.2">7.936508e−03</text><rect x="1002.5" y="1707.4" width="66.7" height="6" fill="#E8A55C"/><rect x="1002.5" y="1713.4" width="58.9" height="6" fill="#7DA0BE"/><line x1="1067.7" y1="1710.4" x2="1071.7" y2="1710.4" stroke="#BBB" stroke-width="0.5"/><line x1="980.8" y1="1713.4" x2="986.2" y2="1713.4" stroke="#222" stroke-width="0.8"/><text x="979.6" y="1715.9" font-size="7.2" fill="#111" font-weight="bold" text-anchor="end" stroke="#111" stroke-width="0.2">Glycine, serine and threonine metabolism</text><circle cx="1611.1" cy="1713.4" r="2.75" fill="#E8A55C" stroke="#3a3a3a" stroke-width="0.65"/><line x1="1702.1" y1="1713.4" x2="1706" y2="1713.4" stroke="#222" stroke-width="0.8"/><text x="1707.8" y="1716" font-size="7.3" fill="#111" font-weight="bold" stroke="#111" stroke-width="0.2">7.936508e−03</text><rect x="1002.5" y="1722.94" width="50.5" height="6" fill="#E8A55C"/><rect x="1002.5" y="1728.94" width="53.2" height="6" fill="#7DA0BE"/><line x1="1051.5" y1="1725.94" x2="1055.5" y2="1725.94" stroke="#BBB" stroke-width="0.5"/><line x1="980.8" y1="1728.94" x2="986.2" y2="1728.94" stroke="#222" stroke-width="0.8"/><text x="979.6" y="1731.44" font-size="7.2" fill="#111" font-weight="bold" text-anchor="end" stroke="#111" stroke-width="0.2">Glycerophospholipid metabolism</text><circle cx="1500.4" cy="1728.94" r="2.75" fill="#7DA0BE" stroke="#3a3a3a" stroke-width="0.65"/><line x1="1702.1" y1="1728.94" x2="1706" y2="1728.94" stroke="#222" stroke-width="0.8"/><text x="1707.8" y="1731.54" font-size="7.3" fill="#111" font-weight="bold" stroke="#111" stroke-width="0.2">7.936508e−03</text><rect x="1002.5" y="1738.48" width="33" height="6" fill="#E8A55C"/><rect x="1002.5" y="1744.48" width="41.5" height="6" fill="#7DA0BE"/><line x1="1034" y1="1741.48" x2="1038" y2="1741.48" stroke="#BBB" stroke-width="0.5"/><line x1="980.8" y1="1744.48" x2="986.2" y2="1744.48" stroke="#222" stroke-width="0.8"/><text x="979.6" y="1746.98" font-size="7.2" fill="#111" font-weight="bold" text-anchor="end" stroke="#111" stroke-width="0.2">Glutathione metabolism</text><circle cx="1446.5" cy="1744.48" r="2.75" fill="#7DA0BE" stroke="#3a3a3a" stroke-width="0.65"/><line x1="1702.1" y1="1744.48" x2="1706" y2="1744.48" stroke="#222" stroke-width="0.8"/><text x="1707.8" y="1747.08" font-size="7.3" fill="#111" font-weight="bold" stroke="#111" stroke-width="0.2">7.936508e−03</text><rect x="1002.5" y="1754.02" width="8.4" height="6" fill="#E8A55C"/><rect x="1002.5" y="1760.02" width="5.4" height="6" fill="#7DA0BE"/><line x1="1009.4" y1="1757.02" x2="1013.4" y2="1757.02" stroke="#BBB" stroke-width="0.5"/><line x1="980.8" y1="1760.02" x2="986.2" y2="1760.02" stroke="#222" stroke-width="0.8"/><text x="979.6" y="1762.52" font-size="7.2" fill="#111" font-weight="bold" text-anchor="end" stroke="#111" stroke-width="0.2">Glutamatergic synapse</text><circle cx="1558.8" cy="1760.02" r="2.75" fill="#E8A55C" stroke="#3a3a3a" stroke-width="0.65"/><line x1="1702.1" y1="1760.02" x2="1706" y2="1760.02" stroke="#222" stroke-width="0.8"/><text x="1707.8" y="1762.62" font-size="7.3" fill="#111" font-weight="bold" stroke="#111" stroke-width="0.2">7.936508e−03</text><rect x="1002.5" y="1769.56" width="324" height="6" fill="#E8A55C"/><rect x="1002.5" y="1775.56" width="315.7" height="6" fill="#7DA0BE"/><line x1="1325" y1="1772.56" x2="1329" y2="1772.56" stroke="#BBB" stroke-width="0.5"/><line x1="980.8" y1="1775.56" x2="986.2" y2="1775.56" stroke="#222" stroke-width="0.8"/><text x="979.6" y="1778.06" font-size="7.2" fill="#111" font-weight="bold" text-anchor="end" stroke="#111" stroke-width="0.2">General function prediction only</text><circle cx="1606.1" cy="1775.56" r="2.75" fill="#E8A55C" stroke="#3a3a3a" stroke-width="0.65"/><line x1="1702.1" y1="1775.56" x2="1706" y2="1775.56" stroke="#222" stroke-width="0.8"/><text x="1707.8" y="1778.16" font-size="7.3" fill="#111" font-weight="bold" stroke="#111" stroke-width="0.2">7.936508e−03</text><rect x="1002.5" y="1785.1" width="139.7" height="6" fill="#E8A55C"/><rect x="1002.5" y="1791.1" width="155.6" height="6" fill="#7DA0BE"/><line x1="1140.7" y1="1788.1" x2="1144.7" y2="1788.1" stroke="#BBB" stroke-width="0.5"/><line x1="980.8" y1="1791.1" x2="986.2" y2="1791.1" stroke="#222" stroke-width="0.8"/><text x="979.6" y="1793.6" font-size="7.2" fill="#111" font-weight="bold" text-anchor="end" stroke="#111" stroke-width="0.2">Function unknown</text><circle cx="1367.8" cy="1791.1" r="2.75" fill="#7DA0BE" stroke="#3a3a3a" stroke-width="0.65"/><line x1="1702.1" y1="1791.1" x2="1706" y2="1791.1" stroke="#222" stroke-width="0.8"/><text x="1707.8" y="1793.7" font-size="7.3" fill="#111" font-weight="bold" stroke="#111" stroke-width="0.2">7.936508e−03</text><rect x="1002.5" y="1800.64" width="22.5" height="6" fill="#E8A55C"/><rect x="1002.5" y="1806.64" width="25.5" height="6" fill="#7DA0BE"/><line x1="1023.5" y1="1803.64" x2="1027.5" y2="1803.64" stroke="#BBB" stroke-width="0.5"/><line x1="980.8" y1="1806.64" x2="986.2" y2="1806.64" stroke="#222" stroke-width="0.8"/><text x="979.6" y="1809.14" font-size="7.2" fill="#111" font-weight="bold" text-anchor="end" stroke="#111" stroke-width="0.2">Fatty acid metabolism</text><circle cx="1496.1" cy="1806.64" r="2.75" fill="#7DA0BE" stroke="#3a3a3a" stroke-width="0.65"/><line x1="1702.1" y1="1806.64" x2="1706" y2="1806.64" stroke="#222" stroke-width="0.8"/><text x="1707.8" y="1809.24" font-size="7.3" fill="#111" font-weight="bold" stroke="#111" stroke-width="0.2">7.936508e−03</text><rect x="1002.5" y="1816.18" width="29.1" height="6" fill="#E8A55C"/><rect x="1002.5" y="1822.18" width="26.4" height="6" fill="#7DA0BE"/><line x1="1030.1" y1="1819.18" x2="1034.1" y2="1819.18" stroke="#BBB" stroke-width="0.5"/><line x1="980.8" y1="1822.18" x2="986.2" y2="1822.18" stroke="#222" stroke-width="0.8"/><text x="979.6" y="1824.68" font-size="7.2" fill="#111" font-weight="bold" text-anchor="end" stroke="#111" stroke-width="0.2">Drug metabolism − other enzymes</text><circle cx="1553" cy="1822.18" r="2.75" fill="#E8A55C" stroke="#3a3a3a" stroke-width="0.65"/><line x1="1702.1" y1="1822.18" x2="1706" y2="1822.18" stroke="#222" stroke-width="0.8"/><text x="1707.8" y="1824.78" font-size="7.3" fill="#111" font-weight="bold" stroke="#111" stroke-width="0.2">7.936508e−03</text><rect x="1002.5" y="1831.72" width="10.5" height="6" fill="#E8A55C"/><rect x="1002.5" y="1837.72" width="15" height="6" fill="#7DA0BE"/><line x1="1011.5" y1="1834.72" x2="1015.5" y2="1834.72" stroke="#BBB" stroke-width="0.5"/><line x1="980.8" y1="1837.72" x2="986.2" y2="1837.72" stroke="#222" stroke-width="0.8"/><text x="979.6" y="1840.22" font-size="7.2" fill="#111" font-weight="bold" text-anchor="end" stroke="#111" stroke-width="0.2">Drug metabolism − cytochrome P450</text><circle cx="1480.3" cy="1837.72" r="2.75" fill="#7DA0BE" stroke="#3a3a3a" stroke-width="0.65"/><line x1="1702.1" y1="1837.72" x2="1706" y2="1837.72" stroke="#222" stroke-width="0.8"/><text x="1707.8" y="1840.32" font-size="7.3" fill="#111" font-weight="bold" stroke="#111" stroke-width="0.2">7.936508e−03</text><rect x="1002.5" y="1847.26" width="86.5" height="6" fill="#E8A55C"/><rect x="1002.5" y="1853.26" width="82.6" height="6" fill="#7DA0BE"/><line x1="1087.5" y1="1850.26" x2="1091.5" y2="1850.26" stroke="#BBB" stroke-width="0.5"/><line x1="980.8" y1="1853.26" x2="986.2" y2="1853.26" stroke="#222" stroke-width="0.8"/><text x="979.6" y="1855.76" font-size="7.2" fill="#111" font-weight="bold" text-anchor="end" stroke="#111" stroke-width="0.2">Cysteine and methionine metabolism</text><circle cx="1562.5" cy="1853.26" r="2.75" fill="#E8A55C" stroke="#3a3a3a" stroke-width="0.65"/><line x1="1702.1" y1="1853.26" x2="1706" y2="1853.26" stroke="#222" stroke-width="0.8"/><text x="1707.8" y="1855.86" font-size="7.3" fill="#111" font-weight="bold" stroke="#111" stroke-width="0.2">7.936508e−03</text><rect x="1002.5" y="1862.8" width="26.1" height="6" fill="#E8A55C"/><rect x="1002.5" y="1868.8" width="15.6" height="6" fill="#7DA0BE"/><line x1="1027.1" y1="1865.8" x2="1031.1" y2="1865.8" stroke="#BBB" stroke-width="0.5"/><line x1="980.8" y1="1868.8" x2="986.2" y2="1868.8" stroke="#222" stroke-width="0.8"/><text x="979.6" y="1871.3" font-size="7.2" fill="#111" font-weight="bold" text-anchor="end" stroke="#111" stroke-width="0.2">Cyanoamino acid metabolism</text><circle cx="1628.7" cy="1868.8" r="2.75" fill="#E8A55C" stroke="#3a3a3a" stroke-width="0.65"/><line x1="1702.1" y1="1868.8" x2="1706" y2="1868.8" stroke="#222" stroke-width="0.8"/><text x="1707.8" y="1871.4" font-size="7.3" fill="#111" font-weight="bold" stroke="#111" stroke-width="0.2">7.936508e−03</text><rect x="1002.5" y="1878.34" width="50.5" height="6" fill="#E8A55C"/><rect x="1002.5" y="1884.34" width="42.7" height="6" fill="#7DA0BE"/><line x1="1051.5" y1="1881.34" x2="1055.5" y2="1881.34" stroke="#BBB" stroke-width="0.5"/><line x1="980.8" y1="1884.34" x2="986.2" y2="1884.34" stroke="#222" stroke-width="0.8"/><text x="979.6" y="1886.84" font-size="7.2" fill="#111" font-weight="bold" text-anchor="end" stroke="#111" stroke-width="0.2">Carbon fixation in photosynthe...thetic organisms</text><circle cx="1601.1" cy="1884.34" r="2.75" fill="#E8A55C" stroke="#3a3a3a" stroke-width="0.65"/><line x1="1702.1" y1="1884.34" x2="1706" y2="1884.34" stroke="#222" stroke-width="0.8"/><text x="1707.8" y="1886.94" font-size="7.3" fill="#111" font-weight="bold" stroke="#111" stroke-width="0.2">7.936508e−03</text><rect x="1002.5" y="1893.88" width="3.6" height="6" fill="#E8A55C"/><rect x="1002.5" y="1899.88" width="5.4" height="6" fill="#7DA0BE"/><line x1="980.8" y1="1899.88" x2="986.2" y2="1899.88" stroke="#222" stroke-width="0.8"/><text x="979.6" y="1902.38" font-size="7.2" fill="#111" font-weight="bold" text-anchor="end" stroke="#111" stroke-width="0.2">Carbohydrate digestion and absorption</text><circle cx="1511.7" cy="1899.88" r="2.75" fill="#7DA0BE" stroke="#3a3a3a" stroke-width="0.65"/><line x1="1702.1" y1="1899.88" x2="1706" y2="1899.88" stroke="#222" stroke-width="0.8"/><text x="1707.8" y="1902.48" font-size="7.3" fill="#111" font-weight="bold" stroke="#111" stroke-width="0.2">7.936508e−03</text><rect x="1002.5" y="1909.42" width="53.5" height="6" fill="#E8A55C"/><rect x="1002.5" y="1915.42" width="57.7" height="6" fill="#7DA0BE"/><line x1="1054.5" y1="1912.42" x2="1058.5" y2="1912.42" stroke="#BBB" stroke-width="0.5"/><line x1="980.8" y1="1915.42" x2="986.2" y2="1915.42" stroke="#222" stroke-width="0.8"/><text x="979.6" y="1917.92" font-size="7.2" fill="#111" font-weight="bold" text-anchor="end" stroke="#111" stroke-width="0.2">Butanoate metabolism</text><circle cx="1486.6" cy="1915.42" r="2.75" fill="#7DA0BE" stroke="#3a3a3a" stroke-width="0.65"/><line x1="1702.1" y1="1915.42" x2="1706" y2="1915.42" stroke="#222" stroke-width="0.8"/><text x="1707.8" y="1918.02" font-size="7.3" fill="#111" font-weight="bold" stroke="#111" stroke-width="0.2">7.936508e−03</text><rect x="1002.5" y="1924.96" width="3.9" height="6" fill="#E8A55C"/><rect x="1002.5" y="1930.96" width="5.1" height="6" fill="#7DA0BE"/><line x1="980.8" y1="1930.96" x2="986.2" y2="1930.96" stroke="#222" stroke-width="0.8"/><text x="979.6" y="1933.46" font-size="7.2" fill="#111" font-weight="bold" text-anchor="end" stroke="#111" stroke-width="0.2">Bisphenol degradation</text><circle cx="1514.9" cy="1930.96" r="2.75" fill="#7DA0BE" stroke="#3a3a3a" stroke-width="0.65"/><line x1="1702.1" y1="1930.96" x2="1706" y2="1930.96" stroke="#222" stroke-width="0.8"/><text x="1707.8" y="1933.56" font-size="7.3" fill="#111" font-weight="bold" stroke="#111" stroke-width="0.2">7.936508e−03</text><rect x="1002.5" y="1940.5" width="3" height="6" fill="#E8A55C"/><rect x="1002.5" y="1946.5" width="0.3" height="6" fill="#7DA0BE"/><line x1="980.8" y1="1946.5" x2="986.2" y2="1946.5" stroke="#222" stroke-width="0.8"/><text x="979.6" y="1949" font-size="7.2" fill="#111" font-weight="bold" text-anchor="end" stroke="#111" stroke-width="0.2">Biosynthesis of ansamycins</text><circle cx="1554.5" cy="1946.5" r="2.75" fill="#E8A55C" stroke="#3a3a3a" stroke-width="0.65"/><line x1="1702.1" y1="1946.5" x2="1706" y2="1946.5" stroke="#222" stroke-width="0.8"/><text x="1707.8" y="1949.1" font-size="7.3" fill="#111" font-weight="bold" stroke="#111" stroke-width="0.2">7.936508e−03</text><rect x="1002.5" y="1956.04" width="10.5" height="6" fill="#E8A55C"/><rect x="1002.5" y="1962.04" width="15" height="6" fill="#7DA0BE"/><line x1="1011.5" y1="1959.04" x2="1015.5" y2="1959.04" stroke="#BBB" stroke-width="0.5"/><line x1="980.8" y1="1962.04" x2="986.2" y2="1962.04" stroke="#222" stroke-width="0.8"/><text x="979.6" y="1964.54" font-size="7.2" fill="#111" font-weight="bold" text-anchor="end" stroke="#111" stroke-width="0.2">Atrazine degradation</text><circle cx="1480.1" cy="1962.04" r="2.75" fill="#7DA0BE" stroke="#3a3a3a" stroke-width="0.65"/><line x1="1702.1" y1="1962.04" x2="1706" y2="1962.04" stroke="#222" stroke-width="0.8"/><text x="1707.8" y="1964.64" font-size="7.3" fill="#111" font-weight="bold" stroke="#111" stroke-width="0.2">7.936508e−03</text><rect x="1002.5" y="1971.58" width="79" height="6" fill="#E8A55C"/><rect x="1002.5" y="1977.58" width="63.1" height="6" fill="#7DA0BE"/><line x1="1080" y1="1974.58" x2="1084" y2="1974.58" stroke="#BBB" stroke-width="0.5"/><line x1="980.8" y1="1977.58" x2="986.2" y2="1977.58" stroke="#222" stroke-width="0.8"/><text x="979.6" y="1980.08" font-size="7.2" fill="#111" font-weight="bold" text-anchor="end" stroke="#111" stroke-width="0.2">Arginine and proline metabolism</text><circle cx="1686.3" cy="1977.58" r="2.75" fill="#E8A55C" stroke="#3a3a3a" stroke-width="0.65"/><line x1="1702.1" y1="1977.58" x2="1706" y2="1977.58" stroke="#222" stroke-width="0.8"/><text x="1707.8" y="1980.18" font-size="7.3" fill="#111" font-weight="bold" stroke="#111" stroke-width="0.2">7.936508e−03</text><rect x="1002.5" y="1987.12" width="19.5" height="6" fill="#E8A55C"/><rect x="1002.5" y="1993.12" width="25.2" height="6" fill="#7DA0BE"/><line x1="1020.5" y1="1990.12" x2="1024.5" y2="1990.12" stroke="#BBB" stroke-width="0.5"/><line x1="980.8" y1="1993.12" x2="986.2" y2="1993.12" stroke="#222" stroke-width="0.8"/><text x="979.6" y="1995.62" font-size="7.2" fill="#111" font-weight="bold" text-anchor="end" stroke="#111" stroke-width="0.2">Aminobenzoate degradation</text><circle cx="1466.3" cy="1993.12" r="2.75" fill="#7DA0BE" stroke="#3a3a3a" stroke-width="0.65"/><line x1="1702.1" y1="1993.12" x2="1706" y2="1993.12" stroke="#222" stroke-width="0.8"/><text x="1707.8" y="1995.72" font-size="7.3" fill="#111" font-weight="bold" stroke="#111" stroke-width="0.2">7.936508e−03</text><rect x="1002.5" y="2002.66" width="96.2" height="6" fill="#E8A55C"/><rect x="1002.5" y="2008.66" width="82.6" height="6" fill="#7DA0BE"/><line x1="1097.2" y1="2005.66" x2="1101.2" y2="2005.66" stroke="#BBB" stroke-width="0.5"/><line x1="980.8" y1="2008.66" x2="986.2" y2="2008.66" stroke="#222" stroke-width="0.8"/><text x="979.6" y="2011.16" font-size="7.2" fill="#111" font-weight="bold" text-anchor="end" stroke="#111" stroke-width="0.2">Alanine, aspartate and glutama...amate metabolism</text><circle cx="1668.5" cy="2008.66" r="2.75" fill="#E8A55C" stroke="#3a3a3a" stroke-width="0.65"/><line x1="1702.1" y1="2008.66" x2="1706" y2="2008.66" stroke="#222" stroke-width="0.8"/><text x="1707.8" y="2011.26" font-size="7.3" fill="#111" font-weight="bold" stroke="#111" stroke-width="0.2">7.936508e−03</text><line x1="986.2" y1="1548.4" x2="986.2" y2="2017.5" stroke="#333" stroke-width="1.2"/><line x1="985.6" y1="2017" x2="1343.8" y2="2017" stroke="#333" stroke-width="1.2"/><line x1="1002.5" y1="2017" x2="1002.5" y2="2020.2" stroke="#333" stroke-width="0.8"/><text x="1002.5" y="2029" font-size="5.6" fill="#111" font-weight="bold" text-anchor="middle" stroke="#111" stroke-width="0.16">0.00</text><line x1="1094.2" y1="2017" x2="1094.2" y2="2020.2" stroke="#333" stroke-width="0.8"/><text x="1094.2" y="2029" font-size="5.6" fill="#111" font-weight="bold" text-anchor="middle" stroke="#111" stroke-width="0.16">0.01</text><line x1="1186.4" y1="2017" x2="1186.4" y2="2020.2" stroke="#333" stroke-width="0.8"/><text x="1186.4" y="2029" font-size="5.6" fill="#111" font-weight="bold" text-anchor="middle" stroke="#111" stroke-width="0.16">0.02</text><line x1="1278.5" y1="2017" x2="1278.5" y2="2020.2" stroke="#333" stroke-width="0.8"/><text x="1278.5" y="2029" font-size="5.6" fill="#111" font-weight="bold" text-anchor="middle" stroke="#111" stroke-width="0.16">0.03</text><text x="1163.8" y="2039.2" font-size="8.2" fill="#111" font-weight="bold" text-anchor="middle" stroke="#111" stroke-width="0.23">Mean proportions</text><text x="797.8" y="1781.9" font-size="7.4" fill="#111" transform="rotate(-90 797.8 1781.9)" font-weight="bold" text-anchor="middle" stroke="#111" stroke-width="0.21">Description</text><rect x="724.5" y="1774.9" width="16.5" height="10.6" fill="#E8A55C"/><rect x="724.5" y="1785.5" width="16.5" height="10.6" fill="#7DA0BE"/><text x="745.5" y="1783.2" font-size="8.2" fill="#111" font-weight="bold" stroke="#111" stroke-width="0.23">Sep</text><text x="745.5" y="1793.8" font-size="8.2" fill="#111" font-weight="bold" stroke="#111" stroke-width="0.23">Ctrl1</text><line x1="1526.7" y1="1548.4" x2="1526.7" y2="2017" stroke="#222" stroke-width="0.9" stroke-dasharray="2.6 2.4"/><line x1="1352" y1="2017" x2="1702.7" y2="2017" stroke="#333" stroke-width="1.2"/><line x1="1702.1" y1="1548.4" x2="1702.1" y2="2017.5" stroke="#333" stroke-width="1.2"/><line x1="1432.7" y1="2017" x2="1432.7" y2="2020.2" stroke="#333" stroke-width="0.8"/><text x="1432.7" y="2029" font-size="5.6" fill="#111" font-weight="bold" text-anchor="middle" stroke="#111" stroke-width="0.16">−0.001</text><line x1="1526.7" y1="2017" x2="1526.7" y2="2020.2" stroke="#333" stroke-width="0.8"/><text x="1526.7" y="2029" font-size="5.6" fill="#111" font-weight="bold" text-anchor="middle" stroke="#111" stroke-width="0.16">0.000</text><line x1="1620.2" y1="2017" x2="1620.2" y2="2020.2" stroke="#333" stroke-width="0.8"/><text x="1620.2" y="2029" font-size="5.6" fill="#111" font-weight="bold" text-anchor="middle" stroke="#111" stroke-width="0.16">0.001</text><text x="1526.9" y="2039.2" font-size="8.2" fill="#111" font-weight="bold" text-anchor="middle" stroke="#111" stroke-width="0.23">Difference in mean proportions</text><text x="1526.7" y="1532.6" font-size="8.7" fill="#222" text-anchor="middle" stroke="#222" stroke-width="0.24">95% confidence intervals</text><text x="1756.6" y="1782.8" font-size="7.3" fill="#111" transform="rotate(90 1756.6 1782.8)" font-weight="bold" text-anchor="middle" stroke="#111" stroke-width="0.2">p−value(wilcox test)</text></g></g></svg></div></body></html>
